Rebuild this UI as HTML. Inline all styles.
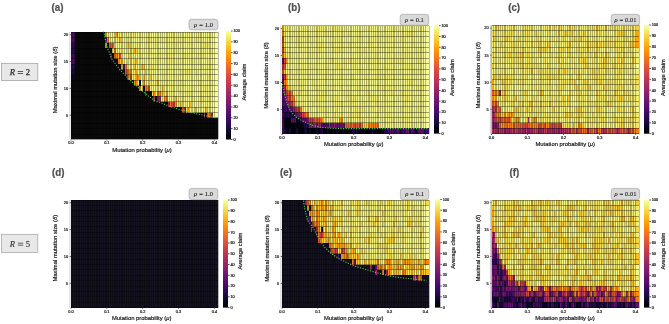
<!DOCTYPE html>
<html><head><meta charset="utf-8"><style>
html,body{margin:0;padding:0;background:#fff;width:669px;height:324px;overflow:hidden}
svg{display:block;will-change:transform}
text{font-family:"Liberation Sans",sans-serif;fill:#333}
.tk{font-size:3.9px;fill:#2a2a2a;stroke:#2a2a2a;stroke-width:.22px}
.al{font-size:5.85px;fill:#1a1a1a;stroke:#1a1a1a;stroke-width:.2px}
.pl{font-size:10.5px;font-weight:bold;fill:#505050;stroke:#505050;stroke-width:.22px}
.rho{font-family:"Liberation Serif",serif;font-size:6.5px;fill:#111;stroke:#111;stroke-width:.08px;word-spacing:.3px}
.rb{font-family:"Liberation Serif",serif;font-size:8.6px;fill:#2a2a2a;stroke:#2a2a2a;stroke-width:.25px}
</style></head><body>
<svg width="669" height="324" viewBox="0 0 669 324" xmlns="http://www.w3.org/2000/svg">
<defs><linearGradient id="inf" x1="0" y1="0" x2="0" y2="1"><stop offset="0" stop-color="#fcffa4"/><stop offset="0.05" stop-color="#f1ef75"/><stop offset="0.1" stop-color="#f6d746"/><stop offset="0.15" stop-color="#fbbe23"/><stop offset="0.2" stop-color="#fca50a"/><stop offset="0.25" stop-color="#f98e09"/><stop offset="0.3" stop-color="#f37819"/><stop offset="0.35" stop-color="#ea632a"/><stop offset="0.4" stop-color="#dd513a"/><stop offset="0.45" stop-color="#cc4248"/><stop offset="0.5" stop-color="#bc3754"/><stop offset="0.55" stop-color="#a82e5f"/><stop offset="0.6" stop-color="#932667"/><stop offset="0.65" stop-color="#7f1e6c"/><stop offset="0.7" stop-color="#6a176e"/><stop offset="0.75" stop-color="#57106e"/><stop offset="0.8" stop-color="#420a68"/><stop offset="0.85" stop-color="#2b0b57"/><stop offset="0.9" stop-color="#160b39"/><stop offset="0.95" stop-color="#07051b"/><stop offset="1" stop-color="#000004"/></linearGradient></defs>

<g transform="translate(71,32) scale(1.7927,5.3700)" shape-rendering="crispEdges">
<path fill="#62146e" d="M0 0h1v1h-1z"/>
<path fill="#4a0c6b" d="M1 0h1v1h-1zM1 1h1v1h-1zM0 4h1v1h-1zM1 5h1v1h-1z"/>
<path fill="#0a0a0a" d="M2 0h17v1h-17zM2 1h17v1h-17zM2 2h17v1h-17zM20 2h1v1h-1zM2 3h21v1h-21zM2 4h20v1h-20zM23 4h1v1h-1zM2 5h24v1h-24zM2 6h26v1h-26zM2 7h28v1h-28zM2 8h29v1h-29zM0 9h35v1h-35zM38 9h1v1h-1zM0 10h38v1h-38zM40 10h1v1h-1zM0 11h41v1h-41zM42 11h3v1h-3zM0 12h46v1h-46zM47 12h1v1h-1zM0 13h54v1h-54zM0 14h62v1h-62zM0 15h74v1h-74zM75 15h1v1h-1zM0 16h82v1h-82zM0 17h82v1h-82zM0 18h82v1h-82zM0 19h82v1h-82z"/>
<path fill="#fbbe23" d="M19 0h1v1h-1zM19 2h1v1h-1zM27 5h2v1h-2zM31 5h1v1h-1zM31 6h1v1h-1zM39 6h1v1h-1zM48 9h1v1h-1zM51 10h1v1h-1zM53 11h1v1h-1zM58 12h1v1h-1z"/>
<path fill="#f2ea69" d="M20 0h1v1h-1zM26 0h1v1h-1zM35 0h1v1h-1zM56 0h1v1h-1zM71 0h2v1h-2zM42 1h3v1h-3zM47 1h1v1h-1zM50 1h1v1h-1zM59 1h1v1h-1zM63 1h1v1h-1zM69 1h2v1h-2zM34 2h1v1h-1zM41 2h1v1h-1zM58 2h1v1h-1zM74 2h3v1h-3zM27 3h1v1h-1zM37 3h2v1h-2zM44 3h1v1h-1zM59 3h1v1h-1zM78 3h1v1h-1zM39 4h1v1h-1zM49 4h1v1h-1zM53 4h1v1h-1zM63 4h1v1h-1zM29 5h1v1h-1zM59 5h1v1h-1zM62 5h1v1h-1zM45 6h1v1h-1zM77 6h1v1h-1zM35 7h1v1h-1zM61 7h1v1h-1zM64 7h1v1h-1zM66 7h1v1h-1zM70 7h1v1h-1zM34 8h2v1h-2zM52 8h1v1h-1zM59 8h1v1h-1zM76 8h2v1h-2zM44 9h1v1h-1zM47 9h1v1h-1zM61 9h1v1h-1zM53 10h1v1h-1zM59 10h1v1h-1zM52 11h1v1h-1zM60 11h1v1h-1zM72 11h1v1h-1zM50 12h1v1h-1zM62 12h1v1h-1zM72 12h2v1h-2zM76 12h1v1h-1zM70 14h1v1h-1z"/>
<path fill="#f2f27d" d="M21 0h1v1h-1zM23 0h1v1h-1zM28 0h2v1h-2zM33 0h1v1h-1zM47 0h1v1h-1zM54 0h1v1h-1zM59 0h1v1h-1zM61 0h1v1h-1zM64 0h3v1h-3zM68 0h3v1h-3zM76 0h1v1h-1zM78 0h1v1h-1zM23 1h4v1h-4zM30 1h1v1h-1zM49 1h1v1h-1zM52 1h1v1h-1zM56 1h1v1h-1zM58 1h1v1h-1zM60 1h2v1h-2zM65 1h1v1h-1zM76 1h1v1h-1zM27 2h3v1h-3zM37 2h1v1h-1zM46 2h1v1h-1zM51 2h1v1h-1zM54 2h1v1h-1zM65 2h2v1h-2zM73 2h1v1h-1zM29 3h1v1h-1zM34 3h1v1h-1zM42 3h1v1h-1zM52 3h1v1h-1zM56 3h1v1h-1zM62 3h1v1h-1zM66 3h1v1h-1zM73 3h2v1h-2zM34 4h1v1h-1zM42 4h2v1h-2zM45 4h3v1h-3zM51 4h1v1h-1zM54 4h1v1h-1zM59 4h2v1h-2zM64 4h2v1h-2zM67 4h1v1h-1zM71 4h2v1h-2zM74 4h1v1h-1zM41 5h1v1h-1zM44 5h1v1h-1zM46 5h1v1h-1zM54 5h1v1h-1zM61 5h1v1h-1zM68 5h1v1h-1zM76 5h2v1h-2zM37 6h1v1h-1zM43 6h2v1h-2zM46 6h3v1h-3zM54 6h1v1h-1zM59 6h1v1h-1zM68 6h1v1h-1zM72 6h1v1h-1zM75 6h2v1h-2zM78 6h1v1h-1zM39 7h1v1h-1zM46 7h1v1h-1zM51 7h1v1h-1zM55 7h1v1h-1zM62 7h2v1h-2zM75 7h1v1h-1zM47 8h1v1h-1zM55 8h1v1h-1zM58 8h1v1h-1zM60 8h2v1h-2zM64 8h1v1h-1zM37 9h1v1h-1zM42 9h2v1h-2zM45 9h1v1h-1zM52 9h1v1h-1zM55 9h2v1h-2zM63 9h1v1h-1zM72 9h1v1h-1zM78 9h1v1h-1zM47 10h3v1h-3zM55 10h1v1h-1zM65 10h1v1h-1zM67 10h3v1h-3zM72 10h1v1h-1zM76 10h1v1h-1zM78 10h1v1h-1zM47 11h1v1h-1zM55 11h3v1h-3zM61 11h2v1h-2zM67 11h1v1h-1zM73 11h1v1h-1zM76 11h1v1h-1zM57 12h1v1h-1zM63 12h1v1h-1zM71 12h1v1h-1zM71 13h1v1h-1zM75 13h2v1h-2zM66 14h1v1h-1zM71 14h1v1h-1zM76 14h2v1h-2z"/>
<path fill="#f5f992" d="M22 0h1v1h-1zM36 0h1v1h-1zM40 0h2v1h-2zM46 0h1v1h-1zM48 0h1v1h-1zM52 0h2v1h-2zM58 0h1v1h-1zM67 0h1v1h-1zM74 0h1v1h-1zM35 1h4v1h-4zM40 1h1v1h-1zM64 1h1v1h-1zM68 1h1v1h-1zM78 1h1v1h-1zM24 2h2v1h-2zM39 2h2v1h-2zM44 2h2v1h-2zM49 2h2v1h-2zM52 2h1v1h-1zM55 2h1v1h-1zM60 2h1v1h-1zM64 2h1v1h-1zM68 2h1v1h-1zM70 2h2v1h-2zM77 2h2v1h-2zM28 3h1v1h-1zM30 3h1v1h-1zM39 3h1v1h-1zM45 3h3v1h-3zM51 3h1v1h-1zM61 3h1v1h-1zM65 3h1v1h-1zM70 3h2v1h-2zM28 4h3v1h-3zM40 4h2v1h-2zM44 4h1v1h-1zM58 4h1v1h-1zM76 4h2v1h-2zM30 5h1v1h-1zM34 5h1v1h-1zM38 5h1v1h-1zM42 5h2v1h-2zM45 5h1v1h-1zM50 5h2v1h-2zM65 5h1v1h-1zM73 5h3v1h-3zM78 5h1v1h-1zM32 6h1v1h-1zM34 6h1v1h-1zM36 6h1v1h-1zM49 6h1v1h-1zM52 6h1v1h-1zM62 6h3v1h-3zM66 6h1v1h-1zM71 6h1v1h-1zM74 6h1v1h-1zM34 7h1v1h-1zM45 7h1v1h-1zM47 7h1v1h-1zM68 7h1v1h-1zM72 7h2v1h-2zM76 7h1v1h-1zM45 8h1v1h-1zM49 8h1v1h-1zM53 8h1v1h-1zM63 8h1v1h-1zM71 8h1v1h-1zM73 8h3v1h-3zM78 8h1v1h-1zM39 9h1v1h-1zM58 9h1v1h-1zM62 9h1v1h-1zM64 9h7v1h-7zM74 9h2v1h-2zM54 10h1v1h-1zM62 10h1v1h-1zM64 10h1v1h-1zM70 10h2v1h-2zM54 11h1v1h-1zM58 11h2v1h-2zM68 11h3v1h-3zM77 11h1v1h-1zM54 12h2v1h-2zM70 12h1v1h-1zM65 13h1v1h-1zM67 13h1v1h-1zM69 13h2v1h-2zM72 13h1v1h-1zM74 13h1v1h-1zM67 14h1v1h-1zM72 14h1v1h-1zM74 14h1v1h-1z"/>
<path fill="#f1ef75" d="M24 0h1v1h-1zM27 0h1v1h-1zM30 0h3v1h-3zM34 0h1v1h-1zM39 0h1v1h-1zM42 0h2v1h-2zM50 0h1v1h-1zM57 0h1v1h-1zM60 0h1v1h-1zM77 0h1v1h-1zM22 1h1v1h-1zM32 1h2v1h-2zM39 1h1v1h-1zM46 1h1v1h-1zM51 1h1v1h-1zM53 1h2v1h-2zM57 1h1v1h-1zM62 1h1v1h-1zM66 1h1v1h-1zM71 1h1v1h-1zM73 1h1v1h-1zM77 1h1v1h-1zM30 2h1v1h-1zM33 2h1v1h-1zM36 2h1v1h-1zM38 2h1v1h-1zM42 2h2v1h-2zM47 2h1v1h-1zM56 2h1v1h-1zM59 2h1v1h-1zM61 2h1v1h-1zM67 2h1v1h-1zM72 2h1v1h-1zM25 3h1v1h-1zM32 3h1v1h-1zM40 3h1v1h-1zM43 3h1v1h-1zM48 3h2v1h-2zM55 3h1v1h-1zM57 3h2v1h-2zM60 3h1v1h-1zM67 3h3v1h-3zM72 3h1v1h-1zM77 3h1v1h-1zM33 4h1v1h-1zM35 4h1v1h-1zM38 4h1v1h-1zM48 4h1v1h-1zM55 4h3v1h-3zM62 4h1v1h-1zM70 4h1v1h-1zM73 4h1v1h-1zM78 4h1v1h-1zM47 5h3v1h-3zM52 5h1v1h-1zM55 5h3v1h-3zM60 5h1v1h-1zM66 5h2v1h-2zM69 5h1v1h-1zM71 5h1v1h-1zM41 6h1v1h-1zM69 6h1v1h-1zM73 6h1v1h-1zM38 7h1v1h-1zM42 7h1v1h-1zM44 7h1v1h-1zM50 7h1v1h-1zM52 7h2v1h-2zM57 7h1v1h-1zM60 7h1v1h-1zM65 7h1v1h-1zM69 7h1v1h-1zM77 7h1v1h-1zM38 8h2v1h-2zM51 8h1v1h-1zM62 8h1v1h-1zM70 8h1v1h-1zM72 8h1v1h-1zM41 9h1v1h-1zM50 9h2v1h-2zM53 9h1v1h-1zM57 9h1v1h-1zM59 9h2v1h-2zM71 9h1v1h-1zM44 10h1v1h-1zM56 10h2v1h-2zM60 10h2v1h-2zM74 10h2v1h-2zM64 11h3v1h-3zM75 11h1v1h-1zM78 11h1v1h-1zM51 12h1v1h-1zM56 12h1v1h-1zM59 12h3v1h-3zM67 12h2v1h-2zM74 12h1v1h-1zM77 12h1v1h-1zM62 13h1v1h-1zM64 13h1v1h-1zM68 13h1v1h-1zM73 13h1v1h-1zM77 13h1v1h-1zM68 14h1v1h-1z"/>
<path fill="#f98e09" d="M25 0h1v1h-1zM32 7h2v1h-2zM32 8h1v1h-1zM40 9h1v1h-1zM38 10h1v1h-1zM46 11h1v1h-1zM48 11h2v1h-2zM52 12h2v1h-2zM58 13h1v1h-1zM65 14h1v1h-1z"/>
<path fill="#f3f68a" d="M37 0h2v1h-2zM44 0h2v1h-2zM49 0h1v1h-1zM51 0h1v1h-1zM55 0h1v1h-1zM62 0h2v1h-2zM73 0h1v1h-1zM75 0h1v1h-1zM21 1h1v1h-1zM28 1h2v1h-2zM34 1h1v1h-1zM41 1h1v1h-1zM45 1h1v1h-1zM48 1h1v1h-1zM55 1h1v1h-1zM67 1h1v1h-1zM72 1h1v1h-1zM74 1h2v1h-2zM26 2h1v1h-1zM35 2h1v1h-1zM48 2h1v1h-1zM53 2h1v1h-1zM57 2h1v1h-1zM62 2h2v1h-2zM69 2h1v1h-1zM26 3h1v1h-1zM41 3h1v1h-1zM50 3h1v1h-1zM53 3h2v1h-2zM63 3h2v1h-2zM75 3h2v1h-2zM31 4h1v1h-1zM36 4h2v1h-2zM50 4h1v1h-1zM52 4h1v1h-1zM61 4h1v1h-1zM66 4h1v1h-1zM68 4h2v1h-2zM75 4h1v1h-1zM32 5h1v1h-1zM37 5h1v1h-1zM39 5h2v1h-2zM53 5h1v1h-1zM58 5h1v1h-1zM63 5h2v1h-2zM70 5h1v1h-1zM72 5h1v1h-1zM38 6h1v1h-1zM42 6h1v1h-1zM50 6h2v1h-2zM53 6h1v1h-1zM55 6h4v1h-4zM60 6h2v1h-2zM65 6h1v1h-1zM67 6h1v1h-1zM70 6h1v1h-1zM37 7h1v1h-1zM40 7h1v1h-1zM43 7h1v1h-1zM48 7h2v1h-2zM54 7h1v1h-1zM56 7h1v1h-1zM58 7h2v1h-2zM67 7h1v1h-1zM71 7h1v1h-1zM74 7h1v1h-1zM78 7h1v1h-1zM42 8h2v1h-2zM46 8h1v1h-1zM48 8h1v1h-1zM50 8h1v1h-1zM54 8h1v1h-1zM56 8h2v1h-2zM65 8h5v1h-5zM46 9h1v1h-1zM49 9h1v1h-1zM54 9h1v1h-1zM73 9h1v1h-1zM76 9h2v1h-2zM45 10h2v1h-2zM52 10h1v1h-1zM58 10h1v1h-1zM63 10h1v1h-1zM66 10h1v1h-1zM73 10h1v1h-1zM77 10h1v1h-1zM63 11h1v1h-1zM71 11h1v1h-1zM74 11h1v1h-1zM64 12h3v1h-3zM69 12h1v1h-1zM75 12h1v1h-1zM78 12h1v1h-1zM59 13h1v1h-1zM63 13h1v1h-1zM78 13h1v1h-1zM73 14h1v1h-1zM78 14h1v1h-1z"/>
<path fill="#f9fc9d" d="M79 0h3v1h-3zM79 1h3v1h-3zM79 2h3v1h-3zM79 3h3v1h-3zM79 4h3v1h-3zM79 5h3v1h-3zM79 6h3v1h-3zM79 7h3v1h-3zM79 8h3v1h-3zM79 9h3v1h-3zM79 10h3v1h-3zM79 11h3v1h-3zM79 12h3v1h-3zM79 13h3v1h-3zM79 14h3v1h-3zM79 15h3v1h-3z"/>
<path fill="#5f136e" d="M0 1h1v1h-1zM0 5h1v1h-1z"/>
<path fill="#57106e" d="M19 1h1v1h-1zM22 4h1v1h-1zM29 6h1v1h-1z"/>
<path fill="#f68013" d="M20 1h1v1h-1zM24 3h1v1h-1zM24 4h2v1h-2zM26 5h1v1h-1zM30 6h1v1h-1zM35 9h2v1h-2zM41 10h2v1h-2zM55 13h1v1h-1zM62 14h1v1h-1zM76 15h2v1h-2z"/>
<path fill="#fbba1f" d="M27 1h1v1h-1zM41 7h1v1h-1zM40 8h1v1h-1zM50 11h1v1h-1zM75 14h1v1h-1z"/>
<path fill="#f7d13d" d="M31 1h1v1h-1zM60 13h1v1h-1z"/>
<path fill="#390963" d="M0 2h1v1h-1zM1 4h1v1h-1zM0 6h1v1h-1z"/>
<path fill="#260c51" d="M1 2h1v1h-1zM1 6h1v1h-1z"/>
<path fill="#e25734" d="M21 2h3v1h-3zM30 7h1v1h-1z"/>
<path fill="#fac42a" d="M31 2h1v1h-1zM35 6h1v1h-1zM40 6h1v1h-1zM51 11h1v1h-1zM61 13h1v1h-1zM66 13h1v1h-1z"/>
<path fill="#f9c72f" d="M32 2h1v1h-1zM44 8h1v1h-1z"/>
<path fill="#2f0a5b" d="M0 3h1v1h-1z"/>
<path fill="#230c4c" d="M1 3h1v1h-1z"/>
<path fill="#f4e156" d="M23 3h1v1h-1zM33 6h1v1h-1zM39 10h1v1h-1zM50 10h1v1h-1zM64 14h1v1h-1z"/>
<path fill="#f8cd37" d="M31 3h1v1h-1zM41 8h1v1h-1z"/>
<path fill="#f5db4c" d="M33 3h1v1h-1zM32 4h1v1h-1z"/>
<path fill="#fcb418" d="M35 3h1v1h-1zM26 4h1v1h-1zM36 5h1v1h-1z"/>
<path fill="#f6d746" d="M36 3h1v1h-1zM33 5h1v1h-1zM35 5h1v1h-1zM28 6h1v1h-1zM45 11h1v1h-1z"/>
<path fill="#d74b3f" d="M27 4h1v1h-1zM33 8h1v1h-1zM56 13h2v1h-2z"/>
<path fill="#1e0c45" d="M0 7h1v1h-1z"/>
<path fill="#160b39" d="M1 7h1v1h-1z"/>
<path fill="#cc4248" d="M31 7h1v1h-1z"/>
<path fill="#fca50a" d="M36 7h1v1h-1z"/>
<path fill="#0c0826" d="M0 8h1v1h-1z"/>
<path fill="#0a0722" d="M1 8h1v1h-1z"/>
<path fill="#8c2369" d="M31 8h1v1h-1z"/>
<path fill="#fb9b06" d="M36 8h2v1h-2zM69 14h1v1h-1z"/>
<path fill="#dd513a" d="M43 10h1v1h-1z"/>
<path fill="#9b2964" d="M41 11h1v1h-1zM48 12h2v1h-2zM54 13h1v1h-1zM63 14h1v1h-1zM74 15h1v1h-1z"/>
<path fill="#bc3754" d="M46 12h1v1h-1z"/>
<path fill="#932667" d="M78 15h1v1h-1z"/>
</g>
<path d="M71 32V139.4M72.79 32V139.4M74.59 32V139.4M76.38 32V139.4M78.17 32V139.4M79.96 32V139.4M81.76 32V139.4M83.55 32V139.4M85.34 32V139.4M87.13 32V139.4M88.93 32V139.4M90.72 32V139.4M92.51 32V139.4M94.3 32V139.4M96.1 32V139.4M97.89 32V139.4M99.68 32V139.4M101.48 32V139.4M103.27 32V139.4M105.06 32V139.4M106.85 32V139.4M108.65 32V139.4M110.44 32V139.4M112.23 32V139.4M114.02 32V139.4M115.82 32V139.4M117.61 32V139.4M119.4 32V139.4M121.2 32V139.4M122.99 32V139.4M124.78 32V139.4M126.57 32V139.4M128.37 32V139.4M130.16 32V139.4M131.95 32V139.4M133.74 32V139.4M135.54 32V139.4M137.33 32V139.4M139.12 32V139.4M140.91 32V139.4M142.71 32V139.4M144.5 32V139.4M146.29 32V139.4M148.09 32V139.4M149.88 32V139.4M151.67 32V139.4M153.46 32V139.4M155.26 32V139.4M157.05 32V139.4M158.84 32V139.4M160.63 32V139.4M162.43 32V139.4M164.22 32V139.4M166.01 32V139.4M167.8 32V139.4M169.6 32V139.4M171.39 32V139.4M173.18 32V139.4M174.98 32V139.4M176.77 32V139.4M178.56 32V139.4M180.35 32V139.4M182.15 32V139.4M183.94 32V139.4M185.73 32V139.4M187.52 32V139.4M189.32 32V139.4M191.11 32V139.4M192.9 32V139.4M194.7 32V139.4M196.49 32V139.4M198.28 32V139.4M200.07 32V139.4M201.87 32V139.4M203.66 32V139.4M205.45 32V139.4M207.24 32V139.4M209.04 32V139.4M210.83 32V139.4M212.62 32V139.4M214.41 32V139.4M218 32V139.4" stroke="#000" stroke-opacity=".27" stroke-width="1" fill="none" shape-rendering="crispEdges"/>
<path d="M71 32H218M71 37.37H218M71 42.74H218M71 48.11H218M71 53.48H218M71 58.85H218M71 64.22H218M71 69.59H218M71 74.96H218M71 80.33H218M71 85.7H218M71 91.07H218M71 96.44H218M71 101.81H218M71 107.18H218M71 112.55H218M71 117.92H218M71 123.29H218M71 128.66H218M71 134.03H218M71 139.4H218" stroke="#000" stroke-opacity=".36" stroke-width="1" fill="none" shape-rendering="crispEdges"/>
<rect x="69.4" y="32" width="1" height="107.4" fill="#d0d0d0"/>
<path d="M71 115.23h-1.3" stroke="#333" stroke-width=".7"/>
<text x="68.1" y="116.58" class="tk" text-anchor="end">5</text>
<path d="M71 88.38h-1.3" stroke="#333" stroke-width=".7"/>
<text x="68.1" y="89.73" class="tk" text-anchor="end">10</text>
<path d="M71 61.53h-1.3" stroke="#333" stroke-width=".7"/>
<text x="68.1" y="62.88" class="tk" text-anchor="end">15</text>
<path d="M71 34.69h-1.3" stroke="#333" stroke-width=".7"/>
<text x="68.1" y="36.04" class="tk" text-anchor="end">20</text>
<path d="M71 139.4v1.3" stroke="#333" stroke-width=".7"/>
<text x="71" y="144.4" class="tk" text-anchor="middle">0.0</text>
<path d="M106.85 139.4v1.3" stroke="#333" stroke-width=".7"/>
<text x="106.85" y="144.4" class="tk" text-anchor="middle">0.1</text>
<path d="M142.71 139.4v1.3" stroke="#333" stroke-width=".7"/>
<text x="142.71" y="144.4" class="tk" text-anchor="middle">0.2</text>
<path d="M178.56 139.4v1.3" stroke="#333" stroke-width=".7"/>
<text x="178.56" y="144.4" class="tk" text-anchor="middle">0.3</text>
<path d="M214.41 139.4v1.3" stroke="#333" stroke-width=".7"/>
<text x="214.41" y="144.4" class="tk" text-anchor="middle">0.4</text>
<text x="142" y="151.6" class="al" text-anchor="middle">Mutation probability (<tspan font-style="italic">μ</tspan>)</text>
<text transform="translate(57,79.9) rotate(-90)" class="al" text-anchor="middle">Maximal mutation size (<tspan font-style="italic">δ</tspan>)</text>
<rect x="226" y="31" width="5" height="108.5" fill="url(#inf)"/>
<path d="M231 139.5h1.6" stroke="#333" stroke-width=".85"/>
<text x="233.4" y="140.8" class="tk">0</text>
<path d="M231 128.65h1.6" stroke="#333" stroke-width=".85"/>
<text x="233.4" y="129.95" class="tk">10</text>
<path d="M231 117.8h1.6" stroke="#333" stroke-width=".85"/>
<text x="233.4" y="119.1" class="tk">20</text>
<path d="M231 106.95h1.6" stroke="#333" stroke-width=".85"/>
<text x="233.4" y="108.25" class="tk">30</text>
<path d="M231 96.1h1.6" stroke="#333" stroke-width=".85"/>
<text x="233.4" y="97.4" class="tk">40</text>
<path d="M231 85.25h1.6" stroke="#333" stroke-width=".85"/>
<text x="233.4" y="86.55" class="tk">50</text>
<path d="M231 74.4h1.6" stroke="#333" stroke-width=".85"/>
<text x="233.4" y="75.7" class="tk">60</text>
<path d="M231 63.55h1.6" stroke="#333" stroke-width=".85"/>
<text x="233.4" y="64.85" class="tk">70</text>
<path d="M231 52.7h1.6" stroke="#333" stroke-width=".85"/>
<text x="233.4" y="54" class="tk">80</text>
<path d="M231 41.85h1.6" stroke="#333" stroke-width=".85"/>
<text x="233.4" y="43.15" class="tk">90</text>
<path d="M231 31h1.6" stroke="#333" stroke-width=".85"/>
<text x="233.4" y="32.3" class="tk">100</text>
<text transform="translate(245.5,82.15) rotate(-90)" class="al" text-anchor="middle">Average claim</text>
<rect x="189" y="19.3" width="29" height="10.5" rx="2.6" fill="#d9d9d9" stroke="#9a9a9a" stroke-width=".6"/>
<text x="203.5" y="26.85" class="rho" text-anchor="middle"><tspan font-style="italic">ρ</tspan> = 1.0</text>
<text transform="translate(51.6,11.1) scale(.93,1)" class="pl">(a)</text>
<polyline points="103.4,31.4 104.3,34.2 105.3,39.3 106.2,42.5 107.6,48.5 109,51.8 110.4,55.5 111.7,58.7 120,70 130,80 140,89 148.3,95.9 154.8,100.6 162.2,103.3 171.5,107 180.7,109.8 190,112.2 199.3,114.4 208.5,116.3 216,117.8" fill="none" stroke="#5fd04a" stroke-width="1.1" stroke-dasharray="1.1 1.5"/>
<g transform="translate(282,25.9) scale(1.7927,5.3900)" shape-rendering="crispEdges">
<path fill="#fbbe23" d="M0 0h1v1h-1zM1 4h1v1h-1zM1 5h1v1h-1zM1 8h1v1h-1zM3 11h1v1h-1zM7 14h1v1h-1z"/>
<path fill="#f1ef75" d="M1 0h1v1h-1zM7 0h1v1h-1zM11 0h1v1h-1zM19 0h1v1h-1zM23 0h1v1h-1zM28 0h1v1h-1zM30 0h2v1h-2zM35 0h1v1h-1zM45 0h1v1h-1zM62 0h2v1h-2zM65 0h1v1h-1zM67 0h1v1h-1zM69 0h1v1h-1zM76 0h2v1h-2zM4 1h1v1h-1zM8 1h2v1h-2zM14 1h2v1h-2zM21 1h1v1h-1zM28 1h1v1h-1zM30 1h2v1h-2zM36 1h1v1h-1zM41 1h1v1h-1zM52 1h1v1h-1zM54 1h1v1h-1zM58 1h1v1h-1zM62 1h1v1h-1zM64 1h1v1h-1zM69 1h1v1h-1zM72 1h1v1h-1zM5 2h1v1h-1zM11 2h1v1h-1zM13 2h1v1h-1zM15 2h3v1h-3zM20 2h1v1h-1zM22 2h1v1h-1zM32 2h1v1h-1zM39 2h1v1h-1zM45 2h1v1h-1zM52 2h1v1h-1zM55 2h1v1h-1zM60 2h1v1h-1zM66 2h2v1h-2zM7 3h2v1h-2zM10 3h1v1h-1zM19 3h1v1h-1zM26 3h3v1h-3zM33 3h1v1h-1zM40 3h1v1h-1zM48 3h1v1h-1zM53 3h1v1h-1zM62 3h1v1h-1zM67 3h1v1h-1zM7 4h1v1h-1zM10 4h1v1h-1zM12 4h1v1h-1zM15 4h1v1h-1zM18 4h1v1h-1zM29 4h1v1h-1zM34 4h1v1h-1zM41 4h2v1h-2zM45 4h1v1h-1zM54 4h1v1h-1zM61 4h1v1h-1zM74 4h2v1h-2zM77 4h2v1h-2zM3 5h1v1h-1zM6 5h1v1h-1zM8 5h1v1h-1zM14 5h1v1h-1zM16 5h2v1h-2zM22 5h1v1h-1zM39 5h1v1h-1zM44 5h1v1h-1zM49 5h1v1h-1zM51 5h1v1h-1zM60 5h1v1h-1zM63 5h1v1h-1zM65 5h2v1h-2zM69 5h3v1h-3zM73 5h1v1h-1zM75 5h2v1h-2zM5 6h1v1h-1zM16 6h1v1h-1zM30 6h1v1h-1zM35 6h1v1h-1zM40 6h2v1h-2zM48 6h1v1h-1zM51 6h1v1h-1zM54 6h1v1h-1zM60 6h1v1h-1zM62 6h2v1h-2zM65 6h1v1h-1zM67 6h1v1h-1zM75 6h1v1h-1zM8 7h1v1h-1zM11 7h1v1h-1zM17 7h2v1h-2zM31 7h1v1h-1zM35 7h1v1h-1zM40 7h2v1h-2zM44 7h1v1h-1zM52 7h1v1h-1zM54 7h1v1h-1zM56 7h2v1h-2zM62 7h1v1h-1zM70 7h2v1h-2zM73 7h1v1h-1zM76 7h2v1h-2zM4 8h2v1h-2zM7 8h1v1h-1zM10 8h4v1h-4zM21 8h2v1h-2zM32 8h2v1h-2zM36 8h1v1h-1zM42 8h2v1h-2zM46 8h1v1h-1zM54 8h2v1h-2zM72 8h1v1h-1zM75 8h3v1h-3zM6 9h2v1h-2zM38 9h1v1h-1zM44 9h1v1h-1zM47 9h1v1h-1zM55 9h2v1h-2zM60 9h1v1h-1zM67 9h1v1h-1zM7 10h1v1h-1zM11 10h2v1h-2zM18 10h1v1h-1zM24 10h1v1h-1zM41 10h1v1h-1zM54 10h1v1h-1zM73 10h1v1h-1zM78 10h1v1h-1zM11 11h1v1h-1zM18 11h1v1h-1zM20 11h2v1h-2zM26 11h1v1h-1zM29 11h1v1h-1zM32 11h2v1h-2zM36 11h1v1h-1zM38 11h1v1h-1zM42 11h1v1h-1zM46 11h2v1h-2zM53 11h2v1h-2zM59 11h2v1h-2zM65 11h1v1h-1zM68 11h1v1h-1zM70 11h1v1h-1zM76 11h1v1h-1zM6 12h1v1h-1zM9 12h1v1h-1zM13 12h2v1h-2zM20 12h1v1h-1zM23 12h1v1h-1zM34 12h1v1h-1zM42 12h1v1h-1zM47 12h1v1h-1zM51 12h1v1h-1zM56 12h2v1h-2zM65 12h1v1h-1zM68 12h1v1h-1zM77 12h1v1h-1zM11 13h1v1h-1zM16 13h1v1h-1zM18 13h1v1h-1zM22 13h1v1h-1zM27 13h1v1h-1zM30 13h2v1h-2zM35 13h2v1h-2zM38 13h1v1h-1zM44 13h1v1h-1zM48 13h6v1h-6zM56 13h1v1h-1zM62 13h1v1h-1zM64 13h1v1h-1zM68 13h1v1h-1zM8 14h1v1h-1zM11 14h1v1h-1zM15 14h1v1h-1zM21 14h1v1h-1zM30 14h3v1h-3zM39 14h3v1h-3zM45 14h1v1h-1zM53 14h1v1h-1zM55 14h1v1h-1zM58 14h1v1h-1zM60 14h1v1h-1zM62 14h1v1h-1zM16 15h1v1h-1zM22 15h4v1h-4zM28 15h1v1h-1zM34 15h1v1h-1zM37 15h2v1h-2zM40 15h1v1h-1zM43 15h3v1h-3zM50 15h1v1h-1zM55 15h1v1h-1zM69 15h1v1h-1zM71 15h1v1h-1zM75 15h2v1h-2zM17 16h2v1h-2zM25 16h1v1h-1zM33 16h1v1h-1zM37 16h1v1h-1zM52 16h1v1h-1zM55 16h1v1h-1zM58 16h2v1h-2zM64 16h1v1h-1zM69 16h1v1h-1zM74 16h1v1h-1zM27 17h1v1h-1zM30 17h1v1h-1zM35 17h1v1h-1zM43 17h1v1h-1zM45 17h2v1h-2zM49 17h1v1h-1zM64 17h2v1h-2zM67 17h1v1h-1zM69 17h2v1h-2zM55 18h1v1h-1zM59 18h1v1h-1zM77 18h1v1h-1z"/>
<path fill="#f2ea69" d="M2 0h2v1h-2zM20 0h2v1h-2zM29 0h1v1h-1zM6 1h1v1h-1zM11 1h1v1h-1zM19 1h1v1h-1zM23 1h1v1h-1zM25 1h1v1h-1zM27 1h1v1h-1zM34 1h1v1h-1zM37 1h1v1h-1zM43 1h1v1h-1zM55 1h1v1h-1zM67 1h1v1h-1zM70 1h2v1h-2zM73 1h1v1h-1zM8 2h2v1h-2zM14 2h1v1h-1zM29 2h1v1h-1zM33 2h1v1h-1zM42 2h1v1h-1zM44 2h1v1h-1zM48 2h1v1h-1zM54 2h1v1h-1zM58 2h1v1h-1zM68 2h1v1h-1zM73 2h1v1h-1zM16 3h1v1h-1zM21 3h2v1h-2zM37 3h1v1h-1zM50 3h1v1h-1zM73 3h1v1h-1zM4 4h1v1h-1zM20 4h2v1h-2zM31 4h2v1h-2zM46 4h1v1h-1zM59 4h1v1h-1zM67 4h1v1h-1zM4 5h1v1h-1zM15 5h1v1h-1zM52 5h1v1h-1zM68 5h1v1h-1zM27 6h2v1h-2zM34 6h1v1h-1zM37 6h2v1h-2zM43 6h1v1h-1zM46 6h1v1h-1zM53 6h1v1h-1zM64 6h1v1h-1zM66 6h1v1h-1zM76 6h1v1h-1zM15 7h1v1h-1zM25 7h1v1h-1zM30 7h1v1h-1zM32 7h1v1h-1zM8 8h1v1h-1zM19 8h1v1h-1zM25 8h1v1h-1zM44 8h1v1h-1zM58 8h1v1h-1zM61 8h1v1h-1zM65 8h1v1h-1zM73 8h1v1h-1zM3 9h1v1h-1zM15 9h1v1h-1zM24 9h1v1h-1zM27 9h1v1h-1zM32 9h1v1h-1zM39 9h1v1h-1zM46 9h1v1h-1zM52 9h1v1h-1zM54 9h1v1h-1zM57 9h1v1h-1zM62 9h1v1h-1zM17 10h1v1h-1zM71 10h1v1h-1zM5 11h3v1h-3zM10 11h1v1h-1zM56 11h2v1h-2zM63 11h1v1h-1zM75 11h1v1h-1zM78 11h1v1h-1zM10 12h1v1h-1zM22 12h1v1h-1zM24 12h1v1h-1zM36 12h2v1h-2zM48 12h1v1h-1zM61 12h1v1h-1zM67 12h1v1h-1zM8 13h1v1h-1zM21 13h1v1h-1zM37 13h1v1h-1zM40 13h1v1h-1zM45 13h1v1h-1zM69 13h2v1h-2zM74 13h1v1h-1zM9 14h1v1h-1zM17 14h1v1h-1zM33 14h1v1h-1zM37 14h1v1h-1zM46 14h1v1h-1zM52 14h1v1h-1zM68 14h1v1h-1zM78 14h1v1h-1zM11 15h1v1h-1zM21 15h1v1h-1zM30 15h1v1h-1zM41 15h1v1h-1zM46 15h1v1h-1zM54 15h1v1h-1zM56 15h1v1h-1zM66 15h1v1h-1zM16 16h1v1h-1zM29 16h1v1h-1zM39 16h1v1h-1zM41 16h3v1h-3zM53 16h1v1h-1zM29 17h1v1h-1zM38 17h1v1h-1zM42 17h1v1h-1zM44 17h1v1h-1zM55 17h1v1h-1zM61 17h1v1h-1zM69 18h1v1h-1zM73 18h1v1h-1z"/>
<path fill="#f5f992" d="M4 0h1v1h-1zM15 0h2v1h-2zM25 0h1v1h-1zM33 0h1v1h-1zM36 0h2v1h-2zM39 0h1v1h-1zM41 0h1v1h-1zM43 0h2v1h-2zM51 0h1v1h-1zM53 0h1v1h-1zM55 0h2v1h-2zM59 0h1v1h-1zM66 0h1v1h-1zM68 0h1v1h-1zM70 0h1v1h-1zM3 1h1v1h-1zM10 1h1v1h-1zM13 1h1v1h-1zM16 1h1v1h-1zM24 1h1v1h-1zM29 1h1v1h-1zM35 1h1v1h-1zM47 1h1v1h-1zM49 1h1v1h-1zM57 1h1v1h-1zM63 1h1v1h-1zM76 1h3v1h-3zM3 2h1v1h-1zM23 2h2v1h-2zM34 2h1v1h-1zM37 2h1v1h-1zM40 2h1v1h-1zM46 2h1v1h-1zM57 2h1v1h-1zM69 2h1v1h-1zM71 2h1v1h-1zM3 3h4v1h-4zM13 3h1v1h-1zM15 3h1v1h-1zM18 3h1v1h-1zM23 3h2v1h-2zM35 3h1v1h-1zM41 3h1v1h-1zM45 3h2v1h-2zM52 3h1v1h-1zM58 3h1v1h-1zM61 3h1v1h-1zM66 3h1v1h-1zM71 3h1v1h-1zM76 3h1v1h-1zM78 3h1v1h-1zM2 4h2v1h-2zM5 4h1v1h-1zM11 4h1v1h-1zM19 4h1v1h-1zM23 4h1v1h-1zM36 4h1v1h-1zM39 4h2v1h-2zM48 4h1v1h-1zM53 4h1v1h-1zM58 4h1v1h-1zM60 4h1v1h-1zM63 4h1v1h-1zM66 4h1v1h-1zM71 4h2v1h-2zM9 5h2v1h-2zM13 5h1v1h-1zM21 5h1v1h-1zM23 5h1v1h-1zM26 5h1v1h-1zM28 5h2v1h-2zM32 5h1v1h-1zM35 5h2v1h-2zM38 5h1v1h-1zM45 5h1v1h-1zM48 5h1v1h-1zM50 5h1v1h-1zM55 5h2v1h-2zM61 5h1v1h-1zM67 5h1v1h-1zM4 6h1v1h-1zM7 6h1v1h-1zM12 6h1v1h-1zM17 6h1v1h-1zM21 6h3v1h-3zM29 6h1v1h-1zM31 6h1v1h-1zM33 6h1v1h-1zM36 6h1v1h-1zM44 6h1v1h-1zM47 6h1v1h-1zM55 6h2v1h-2zM59 6h1v1h-1zM70 6h2v1h-2zM74 6h1v1h-1zM77 6h1v1h-1zM4 7h2v1h-2zM10 7h1v1h-1zM27 7h2v1h-2zM36 7h3v1h-3zM42 7h1v1h-1zM45 7h1v1h-1zM55 7h1v1h-1zM61 7h1v1h-1zM65 7h1v1h-1zM2 8h1v1h-1zM6 8h1v1h-1zM9 8h1v1h-1zM18 8h1v1h-1zM27 8h1v1h-1zM30 8h2v1h-2zM34 8h2v1h-2zM38 8h1v1h-1zM50 8h1v1h-1zM57 8h1v1h-1zM59 8h1v1h-1zM68 8h1v1h-1zM10 9h1v1h-1zM13 9h1v1h-1zM16 9h1v1h-1zM18 9h1v1h-1zM20 9h2v1h-2zM23 9h1v1h-1zM26 9h1v1h-1zM29 9h1v1h-1zM31 9h1v1h-1zM37 9h1v1h-1zM41 9h2v1h-2zM45 9h1v1h-1zM48 9h2v1h-2zM51 9h1v1h-1zM66 9h1v1h-1zM71 9h1v1h-1zM76 9h2v1h-2zM4 10h1v1h-1zM14 10h2v1h-2zM19 10h2v1h-2zM27 10h1v1h-1zM33 10h1v1h-1zM37 10h1v1h-1zM40 10h1v1h-1zM45 10h2v1h-2zM52 10h1v1h-1zM59 10h2v1h-2zM62 10h1v1h-1zM66 10h2v1h-2zM74 10h1v1h-1zM13 11h3v1h-3zM22 11h1v1h-1zM30 11h2v1h-2zM34 11h1v1h-1zM39 11h1v1h-1zM49 11h2v1h-2zM52 11h1v1h-1zM58 11h1v1h-1zM62 11h1v1h-1zM64 11h1v1h-1zM69 11h1v1h-1zM71 11h2v1h-2zM74 11h1v1h-1zM12 12h1v1h-1zM17 12h1v1h-1zM19 12h1v1h-1zM21 12h1v1h-1zM27 12h3v1h-3zM32 12h1v1h-1zM40 12h1v1h-1zM44 12h1v1h-1zM50 12h1v1h-1zM52 12h2v1h-2zM55 12h1v1h-1zM59 12h1v1h-1zM62 12h1v1h-1zM64 12h1v1h-1zM72 12h1v1h-1zM74 12h1v1h-1zM78 12h1v1h-1zM7 13h1v1h-1zM9 13h1v1h-1zM32 13h3v1h-3zM43 13h1v1h-1zM46 13h1v1h-1zM55 13h1v1h-1zM59 13h1v1h-1zM61 13h1v1h-1zM63 13h1v1h-1zM71 13h2v1h-2zM75 13h1v1h-1zM10 14h1v1h-1zM16 14h1v1h-1zM19 14h1v1h-1zM22 14h1v1h-1zM24 14h3v1h-3zM28 14h1v1h-1zM36 14h1v1h-1zM38 14h1v1h-1zM42 14h1v1h-1zM48 14h1v1h-1zM51 14h1v1h-1zM63 14h1v1h-1zM65 14h2v1h-2zM70 14h1v1h-1zM74 14h2v1h-2zM17 15h2v1h-2zM29 15h1v1h-1zM31 15h1v1h-1zM36 15h1v1h-1zM39 15h1v1h-1zM47 15h1v1h-1zM52 15h2v1h-2zM61 15h1v1h-1zM63 15h1v1h-1zM15 16h1v1h-1zM22 16h1v1h-1zM26 16h3v1h-3zM35 16h1v1h-1zM45 16h1v1h-1zM49 16h3v1h-3zM54 16h1v1h-1zM57 16h1v1h-1zM61 16h3v1h-3zM66 16h1v1h-1zM70 16h1v1h-1zM75 16h1v1h-1zM31 17h1v1h-1zM41 17h1v1h-1zM47 17h2v1h-2zM53 17h2v1h-2zM60 17h1v1h-1zM63 17h1v1h-1zM72 17h1v1h-1zM77 17h1v1h-1zM54 18h1v1h-1zM67 18h1v1h-1zM76 18h1v1h-1zM78 18h1v1h-1z"/>
<path fill="#f3f68a" d="M5 0h2v1h-2zM8 0h3v1h-3zM14 0h1v1h-1zM27 0h1v1h-1zM34 0h1v1h-1zM38 0h1v1h-1zM40 0h1v1h-1zM46 0h2v1h-2zM58 0h1v1h-1zM60 0h1v1h-1zM64 0h1v1h-1zM71 0h1v1h-1zM74 0h2v1h-2zM2 1h1v1h-1zM5 1h1v1h-1zM7 1h1v1h-1zM18 1h1v1h-1zM22 1h1v1h-1zM26 1h1v1h-1zM32 1h1v1h-1zM39 1h2v1h-2zM45 1h2v1h-2zM48 1h1v1h-1zM50 1h1v1h-1zM53 1h1v1h-1zM59 1h1v1h-1zM65 1h1v1h-1zM68 1h1v1h-1zM74 1h1v1h-1zM2 2h1v1h-1zM4 2h1v1h-1zM12 2h1v1h-1zM21 2h1v1h-1zM25 2h1v1h-1zM28 2h1v1h-1zM38 2h1v1h-1zM43 2h1v1h-1zM47 2h1v1h-1zM53 2h1v1h-1zM59 2h1v1h-1zM61 2h1v1h-1zM64 2h1v1h-1zM70 2h1v1h-1zM72 2h1v1h-1zM74 2h3v1h-3zM12 3h1v1h-1zM14 3h1v1h-1zM25 3h1v1h-1zM29 3h2v1h-2zM36 3h1v1h-1zM39 3h1v1h-1zM43 3h1v1h-1zM47 3h1v1h-1zM51 3h1v1h-1zM57 3h1v1h-1zM59 3h1v1h-1zM63 3h3v1h-3zM68 3h1v1h-1zM70 3h1v1h-1zM72 3h1v1h-1zM75 3h1v1h-1zM77 3h1v1h-1zM6 4h1v1h-1zM8 4h2v1h-2zM13 4h1v1h-1zM16 4h1v1h-1zM24 4h2v1h-2zM27 4h1v1h-1zM33 4h1v1h-1zM35 4h1v1h-1zM38 4h1v1h-1zM47 4h1v1h-1zM55 4h1v1h-1zM62 4h1v1h-1zM64 4h1v1h-1zM68 4h1v1h-1zM73 4h1v1h-1zM12 5h1v1h-1zM18 5h1v1h-1zM24 5h1v1h-1zM31 5h1v1h-1zM33 5h2v1h-2zM37 5h1v1h-1zM40 5h2v1h-2zM57 5h1v1h-1zM64 5h1v1h-1zM77 5h1v1h-1zM9 6h2v1h-2zM15 6h1v1h-1zM18 6h2v1h-2zM32 6h1v1h-1zM42 6h1v1h-1zM45 6h1v1h-1zM50 6h1v1h-1zM58 6h1v1h-1zM69 6h1v1h-1zM72 6h1v1h-1zM78 6h1v1h-1zM6 7h1v1h-1zM9 7h1v1h-1zM12 7h3v1h-3zM19 7h5v1h-5zM26 7h1v1h-1zM29 7h1v1h-1zM33 7h1v1h-1zM43 7h1v1h-1zM46 7h1v1h-1zM49 7h1v1h-1zM51 7h1v1h-1zM53 7h1v1h-1zM63 7h2v1h-2zM75 7h1v1h-1zM78 7h1v1h-1zM3 8h1v1h-1zM14 8h1v1h-1zM20 8h1v1h-1zM23 8h1v1h-1zM26 8h1v1h-1zM28 8h1v1h-1zM37 8h1v1h-1zM39 8h2v1h-2zM45 8h1v1h-1zM47 8h1v1h-1zM60 8h1v1h-1zM62 8h1v1h-1zM69 8h3v1h-3zM4 9h1v1h-1zM8 9h1v1h-1zM14 9h1v1h-1zM19 9h1v1h-1zM28 9h1v1h-1zM30 9h1v1h-1zM34 9h1v1h-1zM40 9h1v1h-1zM43 9h1v1h-1zM53 9h1v1h-1zM61 9h1v1h-1zM72 9h1v1h-1zM78 9h1v1h-1zM3 10h1v1h-1zM5 10h2v1h-2zM13 10h1v1h-1zM16 10h1v1h-1zM22 10h2v1h-2zM25 10h1v1h-1zM29 10h2v1h-2zM34 10h1v1h-1zM38 10h2v1h-2zM42 10h2v1h-2zM48 10h3v1h-3zM55 10h2v1h-2zM63 10h1v1h-1zM65 10h1v1h-1zM68 10h2v1h-2zM76 10h2v1h-2zM9 11h1v1h-1zM16 11h2v1h-2zM19 11h1v1h-1zM23 11h2v1h-2zM28 11h1v1h-1zM35 11h1v1h-1zM37 11h1v1h-1zM40 11h1v1h-1zM48 11h1v1h-1zM51 11h1v1h-1zM55 11h1v1h-1zM66 11h1v1h-1zM7 12h1v1h-1zM15 12h2v1h-2zM18 12h1v1h-1zM25 12h1v1h-1zM30 12h1v1h-1zM33 12h1v1h-1zM38 12h2v1h-2zM41 12h1v1h-1zM43 12h1v1h-1zM45 12h1v1h-1zM49 12h1v1h-1zM58 12h1v1h-1zM63 12h1v1h-1zM71 12h1v1h-1zM75 12h1v1h-1zM10 13h1v1h-1zM12 13h3v1h-3zM25 13h2v1h-2zM42 13h1v1h-1zM60 13h1v1h-1zM65 13h1v1h-1zM67 13h1v1h-1zM78 13h1v1h-1zM13 14h2v1h-2zM18 14h1v1h-1zM23 14h1v1h-1zM27 14h1v1h-1zM34 14h1v1h-1zM43 14h1v1h-1zM50 14h1v1h-1zM57 14h1v1h-1zM59 14h1v1h-1zM61 14h1v1h-1zM67 14h1v1h-1zM71 14h2v1h-2zM76 14h2v1h-2zM12 15h3v1h-3zM19 15h1v1h-1zM26 15h2v1h-2zM32 15h2v1h-2zM35 15h1v1h-1zM48 15h2v1h-2zM51 15h1v1h-1zM58 15h2v1h-2zM62 15h1v1h-1zM65 15h1v1h-1zM68 15h1v1h-1zM70 15h1v1h-1zM73 15h1v1h-1zM78 15h1v1h-1zM19 16h3v1h-3zM23 16h2v1h-2zM30 16h1v1h-1zM34 16h1v1h-1zM36 16h1v1h-1zM38 16h1v1h-1zM40 16h1v1h-1zM44 16h1v1h-1zM47 16h2v1h-2zM56 16h1v1h-1zM65 16h1v1h-1zM68 16h1v1h-1zM73 16h1v1h-1zM78 16h1v1h-1zM25 17h2v1h-2zM28 17h1v1h-1zM34 17h1v1h-1zM58 17h1v1h-1zM66 17h1v1h-1zM73 17h3v1h-3zM78 17h1v1h-1zM58 18h1v1h-1zM60 18h1v1h-1zM62 18h1v1h-1zM71 18h2v1h-2z"/>
<path fill="#f2f27d" d="M12 0h2v1h-2zM17 0h2v1h-2zM22 0h1v1h-1zM24 0h1v1h-1zM26 0h1v1h-1zM32 0h1v1h-1zM42 0h1v1h-1zM48 0h3v1h-3zM52 0h1v1h-1zM54 0h1v1h-1zM57 0h1v1h-1zM61 0h1v1h-1zM72 0h2v1h-2zM78 0h1v1h-1zM12 1h1v1h-1zM17 1h1v1h-1zM20 1h1v1h-1zM33 1h1v1h-1zM38 1h1v1h-1zM42 1h1v1h-1zM44 1h1v1h-1zM51 1h1v1h-1zM56 1h1v1h-1zM60 1h2v1h-2zM66 1h1v1h-1zM75 1h1v1h-1zM6 2h2v1h-2zM10 2h1v1h-1zM18 2h2v1h-2zM26 2h2v1h-2zM30 2h2v1h-2zM35 2h2v1h-2zM41 2h1v1h-1zM49 2h3v1h-3zM56 2h1v1h-1zM62 2h2v1h-2zM65 2h1v1h-1zM77 2h2v1h-2zM2 3h1v1h-1zM9 3h1v1h-1zM11 3h1v1h-1zM17 3h1v1h-1zM20 3h1v1h-1zM31 3h2v1h-2zM34 3h1v1h-1zM38 3h1v1h-1zM42 3h1v1h-1zM44 3h1v1h-1zM49 3h1v1h-1zM54 3h3v1h-3zM60 3h1v1h-1zM69 3h1v1h-1zM74 3h1v1h-1zM14 4h1v1h-1zM17 4h1v1h-1zM22 4h1v1h-1zM26 4h1v1h-1zM28 4h1v1h-1zM30 4h1v1h-1zM37 4h1v1h-1zM43 4h2v1h-2zM49 4h4v1h-4zM56 4h2v1h-2zM65 4h1v1h-1zM69 4h2v1h-2zM76 4h1v1h-1zM2 5h1v1h-1zM5 5h1v1h-1zM7 5h1v1h-1zM11 5h1v1h-1zM19 5h2v1h-2zM25 5h1v1h-1zM27 5h1v1h-1zM30 5h1v1h-1zM42 5h2v1h-2zM46 5h2v1h-2zM53 5h2v1h-2zM58 5h2v1h-2zM62 5h1v1h-1zM72 5h1v1h-1zM74 5h1v1h-1zM78 5h1v1h-1zM3 6h1v1h-1zM6 6h1v1h-1zM8 6h1v1h-1zM11 6h1v1h-1zM13 6h2v1h-2zM20 6h1v1h-1zM24 6h3v1h-3zM39 6h1v1h-1zM49 6h1v1h-1zM52 6h1v1h-1zM57 6h1v1h-1zM61 6h1v1h-1zM68 6h1v1h-1zM73 6h1v1h-1zM2 7h2v1h-2zM7 7h1v1h-1zM16 7h1v1h-1zM24 7h1v1h-1zM34 7h1v1h-1zM39 7h1v1h-1zM47 7h2v1h-2zM50 7h1v1h-1zM58 7h3v1h-3zM66 7h4v1h-4zM72 7h1v1h-1zM74 7h1v1h-1zM15 8h3v1h-3zM24 8h1v1h-1zM29 8h1v1h-1zM41 8h1v1h-1zM48 8h2v1h-2zM51 8h3v1h-3zM56 8h1v1h-1zM63 8h2v1h-2zM66 8h2v1h-2zM74 8h1v1h-1zM78 8h1v1h-1zM5 9h1v1h-1zM9 9h1v1h-1zM11 9h2v1h-2zM17 9h1v1h-1zM22 9h1v1h-1zM25 9h1v1h-1zM33 9h1v1h-1zM35 9h2v1h-2zM50 9h1v1h-1zM58 9h2v1h-2zM63 9h3v1h-3zM68 9h3v1h-3zM73 9h3v1h-3zM8 10h3v1h-3zM21 10h1v1h-1zM26 10h1v1h-1zM28 10h1v1h-1zM31 10h2v1h-2zM35 10h2v1h-2zM44 10h1v1h-1zM47 10h1v1h-1zM51 10h1v1h-1zM53 10h1v1h-1zM57 10h2v1h-2zM61 10h1v1h-1zM64 10h1v1h-1zM70 10h1v1h-1zM72 10h1v1h-1zM75 10h1v1h-1zM4 11h1v1h-1zM8 11h1v1h-1zM12 11h1v1h-1zM25 11h1v1h-1zM27 11h1v1h-1zM41 11h1v1h-1zM43 11h3v1h-3zM61 11h1v1h-1zM67 11h1v1h-1zM73 11h1v1h-1zM77 11h1v1h-1zM8 12h1v1h-1zM11 12h1v1h-1zM26 12h1v1h-1zM31 12h1v1h-1zM35 12h1v1h-1zM46 12h1v1h-1zM54 12h1v1h-1zM60 12h1v1h-1zM66 12h1v1h-1zM69 12h2v1h-2zM73 12h1v1h-1zM76 12h1v1h-1zM15 13h1v1h-1zM17 13h1v1h-1zM19 13h2v1h-2zM23 13h2v1h-2zM28 13h2v1h-2zM39 13h1v1h-1zM41 13h1v1h-1zM47 13h1v1h-1zM54 13h1v1h-1zM57 13h2v1h-2zM66 13h1v1h-1zM73 13h1v1h-1zM76 13h2v1h-2zM12 14h1v1h-1zM20 14h1v1h-1zM29 14h1v1h-1zM35 14h1v1h-1zM44 14h1v1h-1zM47 14h1v1h-1zM49 14h1v1h-1zM54 14h1v1h-1zM56 14h1v1h-1zM64 14h1v1h-1zM69 14h1v1h-1zM73 14h1v1h-1zM15 15h1v1h-1zM20 15h1v1h-1zM42 15h1v1h-1zM57 15h1v1h-1zM60 15h1v1h-1zM64 15h1v1h-1zM67 15h1v1h-1zM72 15h1v1h-1zM74 15h1v1h-1zM77 15h1v1h-1zM31 16h2v1h-2zM46 16h1v1h-1zM60 16h1v1h-1zM67 16h1v1h-1zM71 16h2v1h-2zM76 16h2v1h-2zM23 17h2v1h-2zM36 17h2v1h-2zM39 17h2v1h-2zM50 17h3v1h-3zM56 17h2v1h-2zM59 17h1v1h-1zM62 17h1v1h-1zM68 17h1v1h-1zM71 17h1v1h-1zM76 17h1v1h-1zM56 18h2v1h-2zM61 18h1v1h-1zM63 18h4v1h-4zM68 18h1v1h-1zM70 18h1v1h-1zM74 18h2v1h-2z"/>
<path fill="#f9fc9d" d="M79 0h3v1h-3zM79 1h3v1h-3zM79 2h3v1h-3zM79 3h3v1h-3zM79 4h3v1h-3zM79 5h3v1h-3zM79 6h3v1h-3zM79 7h3v1h-3zM79 8h3v1h-3zM79 9h3v1h-3zM79 10h3v1h-3zM79 11h3v1h-3zM79 12h3v1h-3zM79 13h3v1h-3zM79 14h3v1h-3zM79 15h3v1h-3zM79 16h3v1h-3zM79 17h3v1h-3zM79 18h3v1h-3z"/>
<path fill="#fb9b06" d="M0 1h1v1h-1zM32 17h2v1h-2z"/>
<path fill="#f4e156" d="M1 1h1v1h-1zM1 2h1v1h-1zM1 3h1v1h-1z"/>
<path fill="#d34743" d="M0 2h1v1h-1zM40 18h1v1h-1z"/>
<path fill="#eb6628" d="M0 3h1v1h-1zM21 17h1v1h-1zM37 18h2v1h-2z"/>
<path fill="#d74b3f" d="M0 4h1v1h-1zM1 6h1v1h-1zM3 13h2v1h-2zM11 16h2v1h-2z"/>
<path fill="#f68013" d="M0 5h1v1h-1zM2 6h1v1h-1zM1 10h1v1h-1zM2 11h1v1h-1zM5 12h1v1h-1zM5 13h2v1h-2zM13 16h2v1h-2zM53 18h1v1h-1z"/>
<path fill="#62146e" d="M0 6h1v1h-1zM4 15h2v1h-2zM7 16h2v1h-2zM27 18h1v1h-1zM30 18h3v1h-3zM34 18h1v1h-1zM76 19h1v1h-1zM78 19h1v1h-1z"/>
<path fill="#bc3754" d="M0 7h1v1h-1zM1 9h1v1h-1zM2 12h1v1h-1z"/>
<path fill="#dd513a" d="M1 7h1v1h-1z"/>
<path fill="#ea632a" d="M0 8h1v1h-1zM18 17h2v1h-2zM35 18h2v1h-2z"/>
<path fill="#7f1e6c" d="M0 9h1v1h-1zM28 18h2v1h-2zM33 18h1v1h-1z"/>
<path fill="#f98e09" d="M2 9h1v1h-1zM2 10h1v1h-1zM22 17h1v1h-1z"/>
<path fill="#57106e" d="M0 10h1v1h-1zM0 11h1v1h-1zM0 12h1v1h-1zM0 13h2v1h-2zM0 14h3v1h-3zM0 16h1v1h-1zM0 17h1v1h-1zM5 17h3v1h-3zM11 17h3v1h-3zM0 18h1v1h-1zM22 18h1v1h-1zM24 18h2v1h-2zM0 19h1v1h-1zM60 19h3v1h-3zM67 19h1v1h-1z"/>
<path fill="#a82e5f" d="M1 11h1v1h-1zM26 18h1v1h-1z"/>
<path fill="#8c2369" d="M1 12h1v1h-1zM2 13h1v1h-1zM3 14h1v1h-1z"/>
<path fill="#e25734" d="M3 12h2v1h-2zM20 17h1v1h-1z"/>
<path fill="#c33b4f" d="M4 14h2v1h-2zM8 15h2v1h-2zM15 17h3v1h-3z"/>
<path fill="#f37819" d="M6 14h1v1h-1zM10 15h1v1h-1zM50 18h1v1h-1zM52 18h1v1h-1z"/>
<path fill="#390963" d="M0 15h4v1h-4zM23 18h1v1h-1z"/>
<path fill="#932667" d="M6 15h2v1h-2zM9 16h2v1h-2zM14 17h1v1h-1zM16 18h1v1h-1zM18 18h1v1h-1zM20 18h2v1h-2z"/>
<path fill="#1e0c45" d="M1 16h2v1h-2zM5 16h2v1h-2zM12 18h3v1h-3zM1 19h1v1h-1zM4 19h1v1h-1zM8 19h1v1h-1zM13 19h1v1h-1zM19 19h1v1h-1zM22 19h1v1h-1zM39 19h1v1h-1zM41 19h1v1h-1zM50 19h1v1h-1zM57 19h2v1h-2zM66 19h1v1h-1zM71 19h1v1h-1zM75 19h1v1h-1zM79 19h1v1h-1z"/>
<path fill="#2b0b57" d="M3 16h1v1h-1z"/>
<path fill="#160b39" d="M4 16h1v1h-1z"/>
<path fill="#030210" d="M1 17h1v1h-1zM4 17h1v1h-1zM7 18h2v1h-2zM10 18h2v1h-2zM7 19h1v1h-1zM10 19h1v1h-1zM16 19h3v1h-3zM20 19h1v1h-1zM23 19h1v1h-1zM38 19h1v1h-1zM48 19h1v1h-1zM56 19h1v1h-1zM74 19h1v1h-1z"/>
<path fill="#050417" d="M2 17h2v1h-2zM1 18h1v1h-1zM6 18h1v1h-1zM9 18h1v1h-1z"/>
<path fill="#10092d" d="M8 17h3v1h-3zM12 19h1v1h-1zM15 19h1v1h-1zM21 19h1v1h-1zM25 19h1v1h-1zM28 19h1v1h-1zM30 19h1v1h-1zM34 19h1v1h-1zM40 19h1v1h-1zM42 19h2v1h-2z"/>
<path fill="#02020c" d="M2 18h4v1h-4zM14 19h1v1h-1zM27 19h1v1h-1zM32 19h1v1h-1zM35 19h1v1h-1zM45 19h1v1h-1zM51 19h1v1h-1z"/>
<path fill="#721a6e" d="M15 18h1v1h-1zM17 18h1v1h-1zM19 18h1v1h-1z"/>
<path fill="#ee6a24" d="M39 18h1v1h-1z"/>
<path fill="#e05536" d="M41 18h1v1h-1z"/>
<path fill="#e75e2e" d="M42 18h1v1h-1z"/>
<path fill="#d04545" d="M43 18h1v1h-1z"/>
<path fill="#f06f20" d="M44 18h1v1h-1z"/>
<path fill="#f8cd37" d="M45 18h3v1h-3z"/>
<path fill="#fb9706" d="M48 18h1v1h-1z"/>
<path fill="#f8890c" d="M49 18h1v1h-1z"/>
<path fill="#f57b17" d="M51 18h1v1h-1z"/>
<path fill="#07051b" d="M2 19h2v1h-2zM9 19h1v1h-1zM24 19h1v1h-1zM26 19h1v1h-1zM31 19h1v1h-1zM33 19h1v1h-1zM37 19h1v1h-1zM46 19h1v1h-1zM52 19h1v1h-1zM55 19h1v1h-1z"/>
<path fill="#010106" d="M5 19h2v1h-2zM11 19h1v1h-1zM29 19h1v1h-1zM36 19h1v1h-1zM44 19h1v1h-1zM47 19h1v1h-1zM49 19h1v1h-1zM53 19h2v1h-2z"/>
<path fill="#420a68" d="M59 19h1v1h-1zM63 19h1v1h-1zM65 19h1v1h-1zM68 19h1v1h-1zM73 19h1v1h-1zM80 19h2v1h-2z"/>
<path fill="#6a176e" d="M64 19h1v1h-1zM69 19h2v1h-2zM72 19h1v1h-1zM77 19h1v1h-1z"/>
</g>
<path d="M282 25.9V133.7M283.79 25.9V133.7M285.59 25.9V133.7M287.38 25.9V133.7M289.17 25.9V133.7M290.96 25.9V133.7M292.76 25.9V133.7M294.55 25.9V133.7M296.34 25.9V133.7M298.13 25.9V133.7M299.93 25.9V133.7M301.72 25.9V133.7M303.51 25.9V133.7M305.3 25.9V133.7M307.1 25.9V133.7M308.89 25.9V133.7M310.68 25.9V133.7M312.48 25.9V133.7M314.27 25.9V133.7M316.06 25.9V133.7M317.85 25.9V133.7M319.65 25.9V133.7M321.44 25.9V133.7M323.23 25.9V133.7M325.02 25.9V133.7M326.82 25.9V133.7M328.61 25.9V133.7M330.4 25.9V133.7M332.2 25.9V133.7M333.99 25.9V133.7M335.78 25.9V133.7M337.57 25.9V133.7M339.37 25.9V133.7M341.16 25.9V133.7M342.95 25.9V133.7M344.74 25.9V133.7M346.54 25.9V133.7M348.33 25.9V133.7M350.12 25.9V133.7M351.91 25.9V133.7M353.71 25.9V133.7M355.5 25.9V133.7M357.29 25.9V133.7M359.09 25.9V133.7M360.88 25.9V133.7M362.67 25.9V133.7M364.46 25.9V133.7M366.26 25.9V133.7M368.05 25.9V133.7M369.84 25.9V133.7M371.63 25.9V133.7M373.43 25.9V133.7M375.22 25.9V133.7M377.01 25.9V133.7M378.8 25.9V133.7M380.6 25.9V133.7M382.39 25.9V133.7M384.18 25.9V133.7M385.98 25.9V133.7M387.77 25.9V133.7M389.56 25.9V133.7M391.35 25.9V133.7M393.15 25.9V133.7M394.94 25.9V133.7M396.73 25.9V133.7M398.52 25.9V133.7M400.32 25.9V133.7M402.11 25.9V133.7M403.9 25.9V133.7M405.7 25.9V133.7M407.49 25.9V133.7M409.28 25.9V133.7M411.07 25.9V133.7M412.87 25.9V133.7M414.66 25.9V133.7M416.45 25.9V133.7M418.24 25.9V133.7M420.04 25.9V133.7M421.83 25.9V133.7M423.62 25.9V133.7M425.41 25.9V133.7M429 25.9V133.7" stroke="#000" stroke-opacity=".27" stroke-width="1" fill="none" shape-rendering="crispEdges"/>
<path d="M282 25.9H429M282 31.29H429M282 36.68H429M282 42.07H429M282 47.46H429M282 52.85H429M282 58.24H429M282 63.63H429M282 69.02H429M282 74.41H429M282 79.8H429M282 85.19H429M282 90.58H429M282 95.97H429M282 101.36H429M282 106.75H429M282 112.14H429M282 117.53H429M282 122.92H429M282 128.31H429M282 133.7H429" stroke="#000" stroke-opacity=".36" stroke-width="1" fill="none" shape-rendering="crispEdges"/>
<rect x="280.4" y="25.9" width="1" height="107.8" fill="#d0d0d0"/>
<path d="M282 109.44h-1.3" stroke="#333" stroke-width=".7"/>
<text x="279.1" y="110.79" class="tk" text-anchor="end">5</text>
<path d="M282 82.5h-1.3" stroke="#333" stroke-width=".7"/>
<text x="279.1" y="83.84" class="tk" text-anchor="end">10</text>
<path d="M282 55.55h-1.3" stroke="#333" stroke-width=".7"/>
<text x="279.1" y="56.9" class="tk" text-anchor="end">15</text>
<path d="M282 28.59h-1.3" stroke="#333" stroke-width=".7"/>
<text x="279.1" y="29.95" class="tk" text-anchor="end">20</text>
<path d="M282 133.7v1.3" stroke="#333" stroke-width=".7"/>
<text x="282" y="138.7" class="tk" text-anchor="middle">0.0</text>
<path d="M317.85 133.7v1.3" stroke="#333" stroke-width=".7"/>
<text x="317.85" y="138.7" class="tk" text-anchor="middle">0.1</text>
<path d="M353.71 133.7v1.3" stroke="#333" stroke-width=".7"/>
<text x="353.71" y="138.7" class="tk" text-anchor="middle">0.2</text>
<path d="M389.56 133.7v1.3" stroke="#333" stroke-width=".7"/>
<text x="389.56" y="138.7" class="tk" text-anchor="middle">0.3</text>
<path d="M425.41 133.7v1.3" stroke="#333" stroke-width=".7"/>
<text x="425.41" y="138.7" class="tk" text-anchor="middle">0.4</text>
<text x="353.7" y="146.2" class="al" text-anchor="middle">Mutation probability (<tspan font-style="italic">μ</tspan>)</text>
<text transform="translate(268,75.5) rotate(-90)" class="al" text-anchor="middle">Maximal mutation size (<tspan font-style="italic">δ</tspan>)</text>
<rect x="434" y="25.7" width="5" height="107.9" fill="url(#inf)"/>
<path d="M439 133.6h1.6" stroke="#333" stroke-width=".85"/>
<text x="441.4" y="134.9" class="tk">0</text>
<path d="M439 122.81h1.6" stroke="#333" stroke-width=".85"/>
<text x="441.4" y="124.11" class="tk">10</text>
<path d="M439 112.02h1.6" stroke="#333" stroke-width=".85"/>
<text x="441.4" y="113.32" class="tk">20</text>
<path d="M439 101.23h1.6" stroke="#333" stroke-width=".85"/>
<text x="441.4" y="102.53" class="tk">30</text>
<path d="M439 90.44h1.6" stroke="#333" stroke-width=".85"/>
<text x="441.4" y="91.74" class="tk">40</text>
<path d="M439 79.65h1.6" stroke="#333" stroke-width=".85"/>
<text x="441.4" y="80.95" class="tk">50</text>
<path d="M439 68.86h1.6" stroke="#333" stroke-width=".85"/>
<text x="441.4" y="70.16" class="tk">60</text>
<path d="M439 58.07h1.6" stroke="#333" stroke-width=".85"/>
<text x="441.4" y="59.37" class="tk">70</text>
<path d="M439 47.28h1.6" stroke="#333" stroke-width=".85"/>
<text x="441.4" y="48.58" class="tk">80</text>
<path d="M439 36.49h1.6" stroke="#333" stroke-width=".85"/>
<text x="441.4" y="37.79" class="tk">90</text>
<path d="M439 25.7h1.6" stroke="#333" stroke-width=".85"/>
<text x="441.4" y="27" class="tk">100</text>
<text transform="translate(453.7,77.5) rotate(-90)" class="al" text-anchor="middle">Average claim</text>
<rect x="400.2" y="14.3" width="28.5" height="11" rx="2.6" fill="#d9d9d9" stroke="#9a9a9a" stroke-width=".6"/>
<text x="414.45" y="22.1" class="rho" text-anchor="middle"><tspan font-style="italic">ρ</tspan> = 0.1</text>
<text transform="translate(288,11.1) scale(.93,1)" class="pl">(b)</text>
<polyline points="282.6,84 284,92 286,100 289,108 292,113 296,117 301,120 306,122.6 312,125.2 320,127.2 330,128.2 340,128.6 380,128.6 428,128.6" fill="none" stroke="#5fd04a" stroke-width="1.1" stroke-dasharray="1.1 1.5"/>
<g transform="translate(491.5,25.4) scale(1.8024,5.4150)" shape-rendering="crispEdges">
<path fill="#f1ef75" d="M0 0h1v1h-1zM5 0h2v1h-2zM11 0h1v1h-1zM13 0h1v1h-1zM23 0h1v1h-1zM29 0h1v1h-1zM31 0h1v1h-1zM49 0h2v1h-2zM52 0h1v1h-1zM55 0h1v1h-1zM57 0h1v1h-1zM68 0h1v1h-1zM16 1h1v1h-1zM23 1h1v1h-1zM26 1h1v1h-1zM38 1h2v1h-2zM49 1h1v1h-1zM68 1h2v1h-2zM77 1h1v1h-1zM79 1h1v1h-1zM12 2h1v1h-1zM16 2h1v1h-1zM19 2h1v1h-1zM30 2h1v1h-1zM32 2h1v1h-1zM50 2h2v1h-2zM72 2h1v1h-1zM76 2h1v1h-1zM12 3h1v1h-1zM17 3h1v1h-1zM20 3h1v1h-1zM23 3h1v1h-1zM25 3h1v1h-1zM41 3h1v1h-1zM44 3h2v1h-2zM51 3h1v1h-1zM59 3h1v1h-1zM0 4h1v1h-1zM10 4h1v1h-1zM13 4h1v1h-1zM34 4h1v1h-1zM48 4h1v1h-1zM52 4h1v1h-1zM65 4h1v1h-1zM2 5h1v1h-1zM8 5h1v1h-1zM29 5h1v1h-1zM32 5h1v1h-1zM39 5h1v1h-1zM43 5h1v1h-1zM47 5h1v1h-1zM74 5h1v1h-1zM80 5h2v1h-2zM6 6h3v1h-3zM19 6h1v1h-1zM23 6h1v1h-1zM33 6h1v1h-1zM35 6h1v1h-1zM45 6h1v1h-1zM61 6h1v1h-1zM80 6h2v1h-2zM6 7h1v1h-1zM29 7h1v1h-1zM33 7h1v1h-1zM40 7h3v1h-3zM44 7h1v1h-1zM47 7h1v1h-1zM49 7h1v1h-1zM54 7h1v1h-1zM57 7h1v1h-1zM63 7h1v1h-1zM66 7h1v1h-1zM70 7h1v1h-1zM73 7h1v1h-1zM1 8h1v1h-1zM3 8h1v1h-1zM6 8h1v1h-1zM16 8h1v1h-1zM38 8h1v1h-1zM47 8h1v1h-1zM53 8h1v1h-1zM60 8h1v1h-1zM66 8h2v1h-2zM69 8h1v1h-1zM73 8h1v1h-1zM77 8h1v1h-1zM80 8h2v1h-2zM6 9h1v1h-1zM39 9h2v1h-2zM55 9h1v1h-1zM71 9h1v1h-1zM4 10h1v1h-1zM15 10h1v1h-1zM37 10h2v1h-2zM45 10h1v1h-1zM48 10h1v1h-1zM55 10h2v1h-2zM62 10h1v1h-1zM4 11h1v1h-1zM9 11h2v1h-2zM12 11h1v1h-1zM22 11h1v1h-1zM35 11h1v1h-1zM43 11h1v1h-1zM5 12h1v1h-1zM9 12h1v1h-1zM33 12h1v1h-1zM35 12h1v1h-1zM44 12h1v1h-1zM53 12h2v1h-2zM64 12h1v1h-1zM66 12h1v1h-1zM70 12h1v1h-1zM16 13h1v1h-1zM18 13h1v1h-1zM27 13h2v1h-2zM31 13h1v1h-1zM48 13h2v1h-2zM36 14h1v1h-1zM39 14h1v1h-1zM50 14h1v1h-1zM53 14h1v1h-1zM67 14h1v1h-1zM17 15h1v1h-1zM33 15h1v1h-1zM36 15h1v1h-1zM51 15h1v1h-1zM57 15h1v1h-1zM65 15h1v1h-1zM69 15h1v1h-1zM76 15h1v1h-1zM19 16h1v1h-1zM28 16h1v1h-1zM32 16h2v1h-2zM35 16h1v1h-1zM46 16h1v1h-1zM54 16h1v1h-1zM61 16h1v1h-1zM65 16h1v1h-1zM70 16h1v1h-1zM73 16h1v1h-1zM77 16h1v1h-1zM43 17h1v1h-1zM59 17h1v1h-1zM63 17h1v1h-1zM68 17h1v1h-1zM71 17h1v1h-1zM43 18h1v1h-1zM61 18h2v1h-2zM68 18h1v1h-1z"/>
<path fill="#f2f27d" d="M1 0h1v1h-1zM51 0h1v1h-1zM53 0h1v1h-1zM79 0h1v1h-1zM4 1h1v1h-1zM21 1h1v1h-1zM46 1h1v1h-1zM52 1h1v1h-1zM54 1h1v1h-1zM56 1h2v1h-2zM59 1h1v1h-1zM67 1h1v1h-1zM4 2h1v1h-1zM13 2h1v1h-1zM17 2h1v1h-1zM22 2h1v1h-1zM33 2h1v1h-1zM37 2h1v1h-1zM41 2h1v1h-1zM48 2h1v1h-1zM54 2h1v1h-1zM59 2h1v1h-1zM62 2h1v1h-1zM65 2h1v1h-1zM67 2h1v1h-1zM71 2h1v1h-1zM6 3h1v1h-1zM21 3h1v1h-1zM30 3h1v1h-1zM36 3h2v1h-2zM46 3h1v1h-1zM73 3h1v1h-1zM3 4h1v1h-1zM7 4h1v1h-1zM15 4h1v1h-1zM24 4h1v1h-1zM31 4h1v1h-1zM44 4h1v1h-1zM46 4h1v1h-1zM55 4h1v1h-1zM60 4h1v1h-1zM71 4h1v1h-1zM21 5h1v1h-1zM31 5h1v1h-1zM46 5h1v1h-1zM60 5h1v1h-1zM69 5h1v1h-1zM3 6h1v1h-1zM22 6h1v1h-1zM25 6h1v1h-1zM30 6h2v1h-2zM36 6h1v1h-1zM67 6h1v1h-1zM69 6h1v1h-1zM3 7h1v1h-1zM22 7h1v1h-1zM27 7h1v1h-1zM30 7h1v1h-1zM55 7h1v1h-1zM58 7h1v1h-1zM0 8h1v1h-1zM8 8h1v1h-1zM11 8h1v1h-1zM18 8h1v1h-1zM20 8h1v1h-1zM27 8h1v1h-1zM43 8h1v1h-1zM49 8h1v1h-1zM62 8h1v1h-1zM2 9h1v1h-1zM12 9h2v1h-2zM18 9h1v1h-1zM52 9h1v1h-1zM73 9h1v1h-1zM3 10h1v1h-1zM9 10h1v1h-1zM19 10h2v1h-2zM25 10h1v1h-1zM29 10h1v1h-1zM33 10h1v1h-1zM36 10h1v1h-1zM49 10h2v1h-2zM54 10h1v1h-1zM63 10h1v1h-1zM70 10h1v1h-1zM73 10h1v1h-1zM79 10h1v1h-1zM1 11h1v1h-1zM3 11h1v1h-1zM17 11h1v1h-1zM21 11h1v1h-1zM23 11h1v1h-1zM27 11h3v1h-3zM37 11h1v1h-1zM59 11h1v1h-1zM76 11h1v1h-1zM15 12h1v1h-1zM22 12h1v1h-1zM31 12h1v1h-1zM36 12h1v1h-1zM45 12h1v1h-1zM48 12h1v1h-1zM51 12h1v1h-1zM56 12h1v1h-1zM77 12h2v1h-2zM80 12h2v1h-2zM3 13h1v1h-1zM53 13h1v1h-1zM73 13h1v1h-1zM75 13h1v1h-1zM10 14h1v1h-1zM26 14h1v1h-1zM28 14h1v1h-1zM31 14h1v1h-1zM47 14h1v1h-1zM56 14h1v1h-1zM68 14h1v1h-1zM71 14h1v1h-1zM73 14h1v1h-1zM21 15h1v1h-1zM39 15h2v1h-2zM50 15h1v1h-1zM54 15h1v1h-1zM72 15h1v1h-1zM74 15h1v1h-1zM27 16h1v1h-1zM30 16h1v1h-1zM45 16h1v1h-1zM58 16h1v1h-1zM68 16h1v1h-1zM71 16h2v1h-2zM74 16h1v1h-1zM18 17h1v1h-1zM21 17h1v1h-1zM27 17h1v1h-1zM29 17h1v1h-1zM42 17h1v1h-1zM50 17h1v1h-1zM55 17h1v1h-1zM58 17h1v1h-1zM66 17h1v1h-1zM75 17h1v1h-1zM44 18h1v1h-1zM54 18h1v1h-1zM63 18h1v1h-1z"/>
<path fill="#f5db4c" d="M2 0h1v1h-1zM10 0h1v1h-1zM12 0h1v1h-1zM32 0h1v1h-1zM37 0h2v1h-2zM43 0h1v1h-1zM56 0h1v1h-1zM59 0h1v1h-1zM70 0h1v1h-1zM11 1h1v1h-1zM20 1h1v1h-1zM35 1h1v1h-1zM40 1h1v1h-1zM71 1h1v1h-1zM78 1h1v1h-1zM25 2h1v1h-1zM79 2h1v1h-1zM14 3h1v1h-1zM42 3h1v1h-1zM62 3h1v1h-1zM64 3h1v1h-1zM68 3h1v1h-1zM76 3h1v1h-1zM78 3h1v1h-1zM2 4h1v1h-1zM18 4h1v1h-1zM30 4h1v1h-1zM32 4h1v1h-1zM40 4h1v1h-1zM7 5h1v1h-1zM13 5h2v1h-2zM27 5h1v1h-1zM42 5h1v1h-1zM61 5h1v1h-1zM65 5h1v1h-1zM70 5h1v1h-1zM73 5h1v1h-1zM4 6h1v1h-1zM14 6h1v1h-1zM52 6h1v1h-1zM63 6h1v1h-1zM79 6h1v1h-1zM10 7h1v1h-1zM19 7h1v1h-1zM31 7h1v1h-1zM67 7h1v1h-1zM7 8h1v1h-1zM12 8h1v1h-1zM26 8h1v1h-1zM28 8h1v1h-1zM46 8h1v1h-1zM48 8h1v1h-1zM63 8h2v1h-2zM70 8h1v1h-1zM75 8h1v1h-1zM31 9h1v1h-1zM48 9h1v1h-1zM57 9h1v1h-1zM70 9h1v1h-1zM80 9h2v1h-2zM8 10h1v1h-1zM14 10h1v1h-1zM52 10h1v1h-1zM57 10h1v1h-1zM64 10h1v1h-1zM71 10h1v1h-1zM80 10h2v1h-2zM8 11h1v1h-1zM36 11h1v1h-1zM48 11h1v1h-1zM53 11h1v1h-1zM6 12h1v1h-1zM18 12h2v1h-2zM25 12h1v1h-1zM49 12h1v1h-1zM58 12h1v1h-1zM69 12h1v1h-1zM73 12h1v1h-1zM4 13h1v1h-1zM8 13h1v1h-1zM40 13h1v1h-1zM67 13h1v1h-1zM76 13h1v1h-1zM11 14h1v1h-1zM20 15h1v1h-1zM22 15h1v1h-1zM48 15h1v1h-1zM14 16h1v1h-1zM21 16h1v1h-1zM42 16h1v1h-1zM49 16h1v1h-1zM56 16h1v1h-1zM34 17h1v1h-1zM48 17h1v1h-1zM61 17h1v1h-1zM76 17h2v1h-2zM42 18h1v1h-1z"/>
<path fill="#f6d746" d="M3 0h1v1h-1zM34 0h1v1h-1zM46 0h1v1h-1zM74 1h1v1h-1zM46 2h1v1h-1zM22 3h1v1h-1zM17 6h1v1h-1zM39 6h1v1h-1zM34 9h1v1h-1zM5 10h1v1h-1zM46 11h1v1h-1zM78 11h1v1h-1zM6 13h1v1h-1zM39 13h1v1h-1zM66 14h1v1h-1zM70 14h1v1h-1zM8 16h1v1h-1zM44 16h1v1h-1zM50 16h1v1h-1zM78 16h1v1h-1zM69 17h1v1h-1zM78 18h1v1h-1z"/>
<path fill="#f2e661" d="M4 0h1v1h-1zM19 0h1v1h-1zM21 0h1v1h-1zM30 0h1v1h-1zM39 0h1v1h-1zM54 0h1v1h-1zM66 0h2v1h-2zM72 0h2v1h-2zM3 1h1v1h-1zM6 1h2v1h-2zM14 1h1v1h-1zM19 1h1v1h-1zM25 1h1v1h-1zM45 1h1v1h-1zM48 1h1v1h-1zM58 1h1v1h-1zM18 2h1v1h-1zM20 2h1v1h-1zM24 2h1v1h-1zM36 2h1v1h-1zM39 2h2v1h-2zM4 3h1v1h-1zM13 3h1v1h-1zM19 3h1v1h-1zM52 3h1v1h-1zM69 3h1v1h-1zM71 3h2v1h-2zM12 4h1v1h-1zM49 4h1v1h-1zM70 4h1v1h-1zM75 4h2v1h-2zM6 5h1v1h-1zM19 5h1v1h-1zM26 5h1v1h-1zM44 5h1v1h-1zM52 5h1v1h-1zM64 5h1v1h-1zM1 6h1v1h-1zM9 6h1v1h-1zM13 6h1v1h-1zM24 6h1v1h-1zM41 6h1v1h-1zM2 7h1v1h-1zM4 7h1v1h-1zM11 7h1v1h-1zM21 7h1v1h-1zM25 7h2v1h-2zM35 7h1v1h-1zM51 7h1v1h-1zM68 7h1v1h-1zM71 7h1v1h-1zM74 7h1v1h-1zM78 7h1v1h-1zM5 8h1v1h-1zM14 8h1v1h-1zM25 8h1v1h-1zM29 8h1v1h-1zM33 8h1v1h-1zM39 8h1v1h-1zM42 8h1v1h-1zM54 8h1v1h-1zM61 8h1v1h-1zM5 9h1v1h-1zM10 9h2v1h-2zM27 9h1v1h-1zM30 9h1v1h-1zM33 9h1v1h-1zM35 9h4v1h-4zM44 9h1v1h-1zM49 9h1v1h-1zM59 9h2v1h-2zM62 9h1v1h-1zM7 10h1v1h-1zM11 10h1v1h-1zM16 10h1v1h-1zM22 10h1v1h-1zM40 10h1v1h-1zM43 10h1v1h-1zM53 10h1v1h-1zM65 10h1v1h-1zM67 10h1v1h-1zM74 10h1v1h-1zM7 11h1v1h-1zM20 11h1v1h-1zM24 11h1v1h-1zM26 11h1v1h-1zM38 11h1v1h-1zM40 11h1v1h-1zM50 11h1v1h-1zM69 11h1v1h-1zM71 11h1v1h-1zM12 12h1v1h-1zM16 12h1v1h-1zM26 12h1v1h-1zM32 12h1v1h-1zM37 12h2v1h-2zM55 12h1v1h-1zM59 12h1v1h-1zM65 12h1v1h-1zM9 13h1v1h-1zM15 13h1v1h-1zM19 13h1v1h-1zM43 13h1v1h-1zM61 13h2v1h-2zM65 13h1v1h-1zM69 13h1v1h-1zM78 13h2v1h-2zM5 14h3v1h-3zM19 14h1v1h-1zM25 14h1v1h-1zM30 14h1v1h-1zM38 14h1v1h-1zM49 14h1v1h-1zM75 14h1v1h-1zM80 14h2v1h-2zM15 15h1v1h-1zM23 15h1v1h-1zM25 15h2v1h-2zM41 15h1v1h-1zM46 15h1v1h-1zM58 15h1v1h-1zM63 15h1v1h-1zM79 15h1v1h-1zM24 16h1v1h-1zM26 16h1v1h-1zM29 16h1v1h-1zM31 16h1v1h-1zM34 16h1v1h-1zM39 16h1v1h-1zM59 16h1v1h-1zM63 16h1v1h-1zM67 16h1v1h-1zM79 16h3v1h-3zM22 17h1v1h-1zM30 17h1v1h-1zM36 17h1v1h-1zM41 17h1v1h-1zM52 17h2v1h-2zM60 17h1v1h-1zM65 17h1v1h-1zM67 17h1v1h-1zM74 17h1v1h-1zM79 17h3v1h-3zM40 18h2v1h-2zM46 18h1v1h-1zM55 18h1v1h-1zM59 18h1v1h-1zM80 18h2v1h-2z"/>
<path fill="#f4e156" d="M7 0h1v1h-1zM18 0h1v1h-1zM27 0h1v1h-1zM35 0h1v1h-1zM42 0h1v1h-1zM45 0h1v1h-1zM75 0h1v1h-1zM78 0h1v1h-1zM0 1h2v1h-2zM10 1h1v1h-1zM18 1h1v1h-1zM31 1h1v1h-1zM42 1h1v1h-1zM73 1h1v1h-1zM3 2h1v1h-1zM10 2h1v1h-1zM14 2h1v1h-1zM45 2h1v1h-1zM53 2h1v1h-1zM56 2h1v1h-1zM63 2h1v1h-1zM66 2h1v1h-1zM69 2h2v1h-2zM74 2h1v1h-1zM7 3h1v1h-1zM10 3h2v1h-2zM29 3h1v1h-1zM32 3h1v1h-1zM35 3h1v1h-1zM54 3h4v1h-4zM65 3h2v1h-2zM74 3h1v1h-1zM4 4h1v1h-1zM8 4h1v1h-1zM14 4h1v1h-1zM17 4h1v1h-1zM20 4h1v1h-1zM27 4h2v1h-2zM37 4h3v1h-3zM47 4h1v1h-1zM51 4h1v1h-1zM58 4h2v1h-2zM69 4h1v1h-1zM77 4h1v1h-1zM80 4h2v1h-2zM0 5h1v1h-1zM9 5h1v1h-1zM23 5h1v1h-1zM33 5h1v1h-1zM38 5h1v1h-1zM49 5h2v1h-2zM55 5h1v1h-1zM58 5h1v1h-1zM71 5h1v1h-1zM75 5h1v1h-1zM77 5h2v1h-2zM11 6h1v1h-1zM16 6h1v1h-1zM20 6h1v1h-1zM29 6h1v1h-1zM48 6h1v1h-1zM50 6h1v1h-1zM57 6h1v1h-1zM60 6h1v1h-1zM64 6h1v1h-1zM68 6h1v1h-1zM14 7h1v1h-1zM16 7h1v1h-1zM23 7h1v1h-1zM38 7h1v1h-1zM46 7h1v1h-1zM61 7h1v1h-1zM64 7h1v1h-1zM69 7h1v1h-1zM72 7h1v1h-1zM17 8h1v1h-1zM19 8h1v1h-1zM21 8h1v1h-1zM30 8h1v1h-1zM41 8h1v1h-1zM50 8h2v1h-2zM65 8h1v1h-1zM68 8h1v1h-1zM3 9h1v1h-1zM19 9h1v1h-1zM23 9h1v1h-1zM43 9h1v1h-1zM47 9h1v1h-1zM56 9h1v1h-1zM65 9h1v1h-1zM77 9h1v1h-1zM17 10h1v1h-1zM28 10h1v1h-1zM32 10h1v1h-1zM39 10h1v1h-1zM41 10h1v1h-1zM44 10h1v1h-1zM61 10h1v1h-1zM66 10h1v1h-1zM69 10h1v1h-1zM75 10h1v1h-1zM33 11h1v1h-1zM39 11h1v1h-1zM55 11h1v1h-1zM64 11h2v1h-2zM72 11h2v1h-2zM75 11h1v1h-1zM80 11h2v1h-2zM8 12h1v1h-1zM43 12h1v1h-1zM47 12h1v1h-1zM60 12h1v1h-1zM63 12h1v1h-1zM75 12h2v1h-2zM7 13h1v1h-1zM23 13h1v1h-1zM25 13h1v1h-1zM33 13h1v1h-1zM35 13h2v1h-2zM47 13h1v1h-1zM50 13h1v1h-1zM54 13h1v1h-1zM59 13h1v1h-1zM63 13h1v1h-1zM66 13h1v1h-1zM70 13h1v1h-1zM24 14h1v1h-1zM33 14h1v1h-1zM35 14h1v1h-1zM42 14h1v1h-1zM54 14h2v1h-2zM57 14h1v1h-1zM59 14h1v1h-1zM65 14h1v1h-1zM77 14h1v1h-1zM16 15h1v1h-1zM37 15h1v1h-1zM55 15h1v1h-1zM60 15h1v1h-1zM73 15h1v1h-1zM77 15h1v1h-1zM12 16h2v1h-2zM15 16h1v1h-1zM25 16h1v1h-1zM47 16h2v1h-2zM60 16h1v1h-1zM11 17h2v1h-2zM19 17h1v1h-1zM28 17h1v1h-1zM31 17h1v1h-1zM37 17h1v1h-1zM47 17h1v1h-1zM54 17h1v1h-1zM56 17h2v1h-2zM62 17h1v1h-1zM70 17h1v1h-1zM78 17h1v1h-1zM39 18h1v1h-1zM47 18h1v1h-1zM51 18h1v1h-1zM53 18h1v1h-1zM58 18h1v1h-1zM66 18h1v1h-1zM71 18h1v1h-1zM73 18h1v1h-1zM76 18h1v1h-1z"/>
<path fill="#f5f992" d="M8 0h1v1h-1zM14 0h2v1h-2zM17 0h1v1h-1zM24 0h3v1h-3zM28 0h1v1h-1zM33 0h1v1h-1zM40 0h2v1h-2zM47 0h1v1h-1zM64 0h1v1h-1zM12 1h2v1h-2zM22 1h1v1h-1zM27 1h1v1h-1zM61 1h1v1h-1zM66 1h1v1h-1zM0 2h1v1h-1zM21 2h1v1h-1zM29 2h1v1h-1zM35 2h1v1h-1zM38 2h1v1h-1zM42 2h1v1h-1zM55 2h1v1h-1zM68 2h1v1h-1zM15 3h1v1h-1zM18 3h1v1h-1zM28 3h1v1h-1zM33 3h2v1h-2zM39 3h1v1h-1zM49 3h1v1h-1zM75 3h1v1h-1zM1 4h1v1h-1zM22 4h1v1h-1zM33 4h1v1h-1zM41 4h1v1h-1zM45 4h1v1h-1zM61 4h2v1h-2zM64 4h1v1h-1zM67 4h2v1h-2zM79 4h1v1h-1zM28 5h1v1h-1zM30 5h1v1h-1zM34 5h1v1h-1zM41 5h1v1h-1zM45 5h1v1h-1zM48 5h1v1h-1zM53 5h1v1h-1zM56 5h1v1h-1zM62 5h1v1h-1zM66 5h3v1h-3zM76 5h1v1h-1zM79 5h1v1h-1zM0 6h1v1h-1zM2 6h1v1h-1zM10 6h1v1h-1zM18 6h1v1h-1zM26 6h1v1h-1zM28 6h1v1h-1zM32 6h1v1h-1zM34 6h1v1h-1zM40 6h1v1h-1zM42 6h2v1h-2zM47 6h1v1h-1zM53 6h1v1h-1zM59 6h1v1h-1zM71 6h1v1h-1zM76 6h1v1h-1zM5 7h1v1h-1zM8 7h1v1h-1zM12 7h1v1h-1zM34 7h1v1h-1zM36 7h2v1h-2zM48 7h1v1h-1zM65 7h1v1h-1zM76 7h1v1h-1zM79 7h1v1h-1zM2 8h1v1h-1zM10 8h1v1h-1zM15 8h1v1h-1zM24 8h1v1h-1zM52 8h1v1h-1zM58 8h1v1h-1zM21 9h1v1h-1zM24 9h1v1h-1zM45 9h2v1h-2zM50 9h2v1h-2zM53 9h1v1h-1zM74 9h1v1h-1zM79 9h1v1h-1zM23 10h1v1h-1zM34 10h1v1h-1zM47 10h1v1h-1zM72 10h1v1h-1zM78 10h1v1h-1zM11 11h1v1h-1zM13 11h1v1h-1zM15 11h1v1h-1zM25 11h1v1h-1zM34 11h1v1h-1zM49 11h1v1h-1zM61 11h1v1h-1zM74 11h1v1h-1zM77 11h1v1h-1zM10 12h2v1h-2zM21 12h1v1h-1zM24 12h1v1h-1zM29 12h1v1h-1zM39 12h3v1h-3zM50 12h1v1h-1zM57 12h1v1h-1zM5 13h1v1h-1zM10 13h1v1h-1zM17 13h1v1h-1zM21 13h1v1h-1zM26 13h1v1h-1zM32 13h1v1h-1zM37 13h1v1h-1zM41 13h1v1h-1zM45 13h1v1h-1zM52 13h1v1h-1zM56 13h2v1h-2zM13 14h1v1h-1zM23 14h1v1h-1zM41 14h1v1h-1zM44 14h1v1h-1zM46 14h1v1h-1zM76 14h1v1h-1zM78 14h1v1h-1zM18 15h1v1h-1zM32 15h1v1h-1zM35 15h1v1h-1zM38 15h1v1h-1zM42 15h1v1h-1zM64 15h1v1h-1zM75 15h1v1h-1zM20 16h1v1h-1zM22 16h1v1h-1zM38 16h1v1h-1zM40 16h1v1h-1zM57 16h1v1h-1zM69 16h1v1h-1zM75 16h2v1h-2zM16 17h1v1h-1zM25 17h1v1h-1zM35 17h1v1h-1zM64 17h1v1h-1zM57 18h1v1h-1zM60 18h1v1h-1zM64 18h2v1h-2zM75 18h1v1h-1z"/>
<path fill="#f3f68a" d="M9 0h1v1h-1zM16 0h1v1h-1zM36 0h1v1h-1zM62 0h1v1h-1zM71 0h1v1h-1zM2 1h1v1h-1zM15 1h1v1h-1zM29 1h2v1h-2zM32 1h3v1h-3zM36 1h1v1h-1zM43 1h1v1h-1zM63 1h1v1h-1zM65 1h1v1h-1zM75 1h2v1h-2zM2 2h1v1h-1zM11 2h1v1h-1zM23 2h1v1h-1zM28 2h1v1h-1zM31 2h1v1h-1zM43 2h1v1h-1zM58 2h1v1h-1zM60 2h2v1h-2zM2 3h2v1h-2zM8 3h2v1h-2zM5 4h1v1h-1zM9 4h1v1h-1zM19 4h1v1h-1zM21 4h1v1h-1zM35 4h2v1h-2zM43 4h1v1h-1zM74 4h1v1h-1zM78 4h1v1h-1zM3 5h1v1h-1zM5 5h1v1h-1zM12 5h1v1h-1zM18 5h1v1h-1zM22 5h1v1h-1zM24 5h2v1h-2zM40 5h1v1h-1zM51 5h1v1h-1zM59 5h1v1h-1zM72 5h1v1h-1zM5 6h1v1h-1zM12 6h1v1h-1zM27 6h1v1h-1zM38 6h1v1h-1zM54 6h2v1h-2zM74 6h1v1h-1zM1 7h1v1h-1zM9 7h1v1h-1zM13 7h1v1h-1zM18 7h1v1h-1zM28 7h1v1h-1zM32 7h1v1h-1zM43 7h1v1h-1zM45 7h1v1h-1zM50 7h1v1h-1zM75 7h1v1h-1zM80 7h2v1h-2zM9 8h1v1h-1zM13 8h1v1h-1zM44 8h1v1h-1zM76 8h1v1h-1zM79 8h1v1h-1zM14 9h1v1h-1zM20 9h1v1h-1zM22 9h1v1h-1zM25 9h1v1h-1zM41 9h2v1h-2zM63 9h2v1h-2zM66 9h1v1h-1zM68 9h1v1h-1zM75 9h2v1h-2zM78 9h1v1h-1zM2 10h1v1h-1zM12 10h2v1h-2zM21 10h1v1h-1zM27 10h1v1h-1zM68 10h1v1h-1zM76 10h1v1h-1zM2 11h1v1h-1zM5 11h1v1h-1zM14 11h1v1h-1zM18 11h2v1h-2zM32 11h1v1h-1zM41 11h2v1h-2zM44 11h2v1h-2zM56 11h1v1h-1zM58 11h1v1h-1zM63 11h1v1h-1zM67 11h2v1h-2zM79 11h1v1h-1zM13 12h2v1h-2zM17 12h1v1h-1zM20 12h1v1h-1zM23 12h1v1h-1zM30 12h1v1h-1zM34 12h1v1h-1zM42 12h1v1h-1zM46 12h1v1h-1zM61 12h2v1h-2zM67 12h1v1h-1zM72 12h1v1h-1zM79 12h1v1h-1zM12 13h1v1h-1zM14 13h1v1h-1zM20 13h1v1h-1zM30 13h1v1h-1zM34 13h1v1h-1zM38 13h1v1h-1zM44 13h1v1h-1zM46 13h1v1h-1zM55 13h1v1h-1zM64 13h1v1h-1zM68 13h1v1h-1zM4 14h1v1h-1zM8 14h1v1h-1zM18 14h1v1h-1zM34 14h1v1h-1zM45 14h1v1h-1zM48 14h1v1h-1zM52 14h1v1h-1zM61 14h1v1h-1zM69 14h1v1h-1zM72 14h1v1h-1zM74 14h1v1h-1zM79 14h1v1h-1zM6 15h2v1h-2zM9 15h3v1h-3zM30 15h2v1h-2zM44 15h2v1h-2zM56 15h1v1h-1zM62 15h1v1h-1zM66 15h3v1h-3zM80 15h2v1h-2zM18 16h1v1h-1zM51 16h1v1h-1zM53 16h1v1h-1zM55 16h1v1h-1zM62 16h1v1h-1zM64 16h1v1h-1zM66 16h1v1h-1zM17 17h1v1h-1zM33 17h1v1h-1zM38 17h3v1h-3zM44 17h1v1h-1zM49 17h1v1h-1zM51 17h1v1h-1zM52 18h1v1h-1zM67 18h1v1h-1zM69 18h1v1h-1zM74 18h1v1h-1zM79 18h1v1h-1z"/>
<path fill="#f2ea69" d="M20 0h1v1h-1zM22 0h1v1h-1zM44 0h1v1h-1zM48 0h1v1h-1zM60 0h2v1h-2zM65 0h1v1h-1zM69 0h1v1h-1zM74 0h1v1h-1zM76 0h2v1h-2zM5 1h1v1h-1zM8 1h2v1h-2zM17 1h1v1h-1zM28 1h1v1h-1zM47 1h1v1h-1zM50 1h1v1h-1zM53 1h1v1h-1zM55 1h1v1h-1zM62 1h1v1h-1zM64 1h1v1h-1zM5 2h3v1h-3zM9 2h1v1h-1zM26 2h2v1h-2zM34 2h1v1h-1zM44 2h1v1h-1zM47 2h1v1h-1zM52 2h1v1h-1zM57 2h1v1h-1zM64 2h1v1h-1zM73 2h1v1h-1zM77 2h2v1h-2zM0 3h2v1h-2zM16 3h1v1h-1zM24 3h1v1h-1zM27 3h1v1h-1zM38 3h1v1h-1zM40 3h1v1h-1zM47 3h2v1h-2zM50 3h1v1h-1zM61 3h1v1h-1zM63 3h1v1h-1zM67 3h1v1h-1zM70 3h1v1h-1zM6 4h1v1h-1zM11 4h1v1h-1zM16 4h1v1h-1zM23 4h1v1h-1zM25 4h1v1h-1zM50 4h1v1h-1zM54 4h1v1h-1zM56 4h2v1h-2zM63 4h1v1h-1zM66 4h1v1h-1zM73 4h1v1h-1zM1 5h1v1h-1zM4 5h1v1h-1zM11 5h1v1h-1zM15 5h1v1h-1zM35 5h3v1h-3zM54 5h1v1h-1zM15 6h1v1h-1zM21 6h1v1h-1zM44 6h1v1h-1zM46 6h1v1h-1zM49 6h1v1h-1zM56 6h1v1h-1zM58 6h1v1h-1zM65 6h2v1h-2zM73 6h1v1h-1zM75 6h1v1h-1zM77 6h1v1h-1zM7 7h1v1h-1zM15 7h1v1h-1zM20 7h1v1h-1zM24 7h1v1h-1zM39 7h1v1h-1zM53 7h1v1h-1zM56 7h1v1h-1zM59 7h2v1h-2zM4 8h1v1h-1zM23 8h1v1h-1zM31 8h2v1h-2zM34 8h3v1h-3zM45 8h1v1h-1zM55 8h1v1h-1zM72 8h1v1h-1zM74 8h1v1h-1zM78 8h1v1h-1zM0 9h1v1h-1zM7 9h1v1h-1zM9 9h1v1h-1zM15 9h3v1h-3zM26 9h1v1h-1zM28 9h2v1h-2zM32 9h1v1h-1zM54 9h1v1h-1zM58 9h1v1h-1zM61 9h1v1h-1zM67 9h1v1h-1zM69 9h1v1h-1zM72 9h1v1h-1zM1 10h1v1h-1zM18 10h1v1h-1zM24 10h1v1h-1zM26 10h1v1h-1zM30 10h2v1h-2zM35 10h1v1h-1zM42 10h1v1h-1zM58 10h2v1h-2zM6 11h1v1h-1zM16 11h1v1h-1zM30 11h2v1h-2zM51 11h2v1h-2zM57 11h1v1h-1zM60 11h1v1h-1zM66 11h1v1h-1zM52 12h1v1h-1zM71 12h1v1h-1zM74 12h1v1h-1zM11 13h1v1h-1zM22 13h1v1h-1zM24 13h1v1h-1zM29 13h1v1h-1zM51 13h1v1h-1zM58 13h1v1h-1zM60 13h1v1h-1zM74 13h1v1h-1zM77 13h1v1h-1zM80 13h2v1h-2zM9 14h1v1h-1zM12 14h1v1h-1zM14 14h1v1h-1zM16 14h1v1h-1zM20 14h1v1h-1zM29 14h1v1h-1zM37 14h1v1h-1zM43 14h1v1h-1zM51 14h1v1h-1zM58 14h1v1h-1zM60 14h1v1h-1zM62 14h2v1h-2zM8 15h1v1h-1zM12 15h1v1h-1zM24 15h1v1h-1zM27 15h3v1h-3zM43 15h1v1h-1zM52 15h2v1h-2zM61 15h1v1h-1zM71 15h1v1h-1zM16 16h2v1h-2zM23 16h1v1h-1zM36 16h2v1h-2zM43 16h1v1h-1zM52 16h1v1h-1zM26 17h1v1h-1zM32 17h1v1h-1zM45 17h2v1h-2zM73 17h1v1h-1zM56 18h1v1h-1zM70 18h1v1h-1zM77 18h1v1h-1z"/>
<path fill="#f7d13d" d="M58 0h1v1h-1zM24 1h1v1h-1zM15 2h1v1h-1zM75 2h1v1h-1zM79 3h1v1h-1zM29 4h1v1h-1zM72 4h1v1h-1zM78 6h1v1h-1zM52 7h1v1h-1zM77 7h1v1h-1zM57 8h1v1h-1zM59 8h1v1h-1zM71 8h1v1h-1zM8 9h1v1h-1zM77 10h1v1h-1zM70 11h1v1h-1zM68 12h1v1h-1zM71 13h1v1h-1zM40 14h1v1h-1zM47 15h1v1h-1zM50 18h1v1h-1z"/>
<path fill="#fbbe23" d="M63 0h1v1h-1zM60 3h1v1h-1zM62 6h1v1h-1zM72 6h1v1h-1zM22 8h1v1h-1zM40 8h1v1h-1zM60 10h1v1h-1zM1 13h2v1h-2zM13 13h1v1h-1z"/>
<path fill="#f8cd37" d="M80 0h2v1h-2zM44 1h1v1h-1zM60 1h1v1h-1zM8 2h1v1h-1zM26 3h1v1h-1zM42 4h1v1h-1zM53 4h1v1h-1zM16 5h1v1h-1zM20 5h1v1h-1zM37 6h1v1h-1zM70 6h1v1h-1zM17 7h1v1h-1zM62 7h1v1h-1zM56 8h1v1h-1zM10 10h1v1h-1zM51 10h1v1h-1zM47 11h1v1h-1zM42 13h1v1h-1zM72 13h1v1h-1zM15 14h1v1h-1zM17 14h1v1h-1zM22 14h1v1h-1zM27 14h1v1h-1zM32 14h1v1h-1zM59 15h1v1h-1zM5 16h2v1h-2zM72 17h1v1h-1zM72 18h1v1h-1z"/>
<path fill="#f9c72f" d="M37 1h1v1h-1zM1 2h1v1h-1zM49 2h1v1h-1zM31 3h1v1h-1zM26 4h1v1h-1zM17 5h1v1h-1zM63 5h1v1h-1zM51 6h1v1h-1zM37 8h1v1h-1zM54 11h1v1h-1zM27 12h2v1h-2zM21 14h1v1h-1zM64 14h1v1h-1zM5 15h1v1h-1zM13 15h2v1h-2zM19 15h1v1h-1zM49 15h1v1h-1z"/>
<path fill="#fac42a" d="M41 1h1v1h-1zM51 1h1v1h-1zM70 1h1v1h-1zM72 1h1v1h-1zM5 3h1v1h-1zM43 3h1v1h-1zM53 3h1v1h-1zM58 3h1v1h-1zM77 3h1v1h-1zM10 5h1v1h-1zM57 5h1v1h-1zM0 7h1v1h-1zM1 9h1v1h-1zM4 9h1v1h-1zM6 10h1v1h-1zM46 10h1v1h-1zM62 11h1v1h-1zM7 12h1v1h-1zM34 15h1v1h-1zM70 15h1v1h-1zM78 15h1v1h-1zM41 16h1v1h-1z"/>
<path fill="#fca50a" d="M80 1h2v1h-2zM80 2h2v1h-2zM3 12h1v1h-1z"/>
<path fill="#fb9b06" d="M80 3h2v1h-2zM0 10h1v1h-1zM5 18h1v1h-1zM45 18h1v1h-1zM48 18h2v1h-2z"/>
<path fill="#fcae12" d="M0 11h1v1h-1z"/>
<path fill="#e25734" d="M0 12h1v1h-1zM2 14h1v1h-1zM4 15h1v1h-1zM64 19h1v1h-1z"/>
<path fill="#f98e09" d="M1 12h2v1h-2zM0 13h1v1h-1zM3 14h1v1h-1zM11 16h1v1h-1zM13 17h3v1h-3zM23 17h2v1h-2zM6 18h1v1h-1zM25 18h1v1h-1z"/>
<path fill="#9b2964" d="M4 12h1v1h-1zM0 15h1v1h-1zM20 17h1v1h-1zM33 19h1v1h-1zM37 19h1v1h-1z"/>
<path fill="#cc4248" d="M0 14h1v1h-1zM13 19h1v1h-1zM24 19h1v1h-1zM49 19h1v1h-1zM63 19h1v1h-1z"/>
<path fill="#f68013" d="M1 14h1v1h-1zM3 15h1v1h-1zM2 16h3v1h-3zM21 18h2v1h-2zM60 19h1v1h-1zM79 19h3v1h-3z"/>
<path fill="#c33b4f" d="M1 15h2v1h-2zM38 18h1v1h-1zM58 19h1v1h-1z"/>
<path fill="#a82e5f" d="M0 16h2v1h-2zM0 17h2v1h-2zM1 19h1v1h-1zM12 19h1v1h-1zM35 19h1v1h-1zM39 19h1v1h-1z"/>
<path fill="#fcaa0f" d="M7 16h1v1h-1zM10 16h1v1h-1z"/>
<path fill="#fb9706" d="M9 16h1v1h-1zM7 18h1v1h-1zM30 18h1v1h-1z"/>
<path fill="#dd513a" d="M2 17h2v1h-2zM5 17h1v1h-1zM9 17h1v1h-1zM66 19h1v1h-1zM73 19h1v1h-1z"/>
<path fill="#c63d4d" d="M4 17h1v1h-1zM42 19h1v1h-1z"/>
<path fill="#ee6a24" d="M6 17h1v1h-1zM52 19h1v1h-1z"/>
<path fill="#eb6628" d="M7 17h2v1h-2zM14 18h1v1h-1zM51 19h1v1h-1zM68 19h1v1h-1z"/>
<path fill="#f06f20" d="M10 17h1v1h-1zM48 19h1v1h-1z"/>
<path fill="#8c2369" d="M0 18h1v1h-1zM31 19h1v1h-1z"/>
<path fill="#6f196e" d="M1 18h1v1h-1z"/>
<path fill="#721a6e" d="M2 18h1v1h-1z"/>
<path fill="#87216b" d="M3 18h1v1h-1zM3 19h1v1h-1z"/>
<path fill="#e55c30" d="M4 18h1v1h-1zM12 18h1v1h-1zM20 18h1v1h-1zM77 19h1v1h-1z"/>
<path fill="#ea632a" d="M8 18h1v1h-1zM15 18h3v1h-3zM27 18h1v1h-1zM72 19h1v1h-1z"/>
<path fill="#fa9207" d="M9 18h1v1h-1zM11 18h1v1h-1z"/>
<path fill="#f1731d" d="M10 18h1v1h-1zM13 18h1v1h-1zM56 19h1v1h-1zM59 19h1v1h-1z"/>
<path fill="#da4e3c" d="M18 18h2v1h-2zM57 19h1v1h-1z"/>
<path fill="#f8890c" d="M23 18h1v1h-1z"/>
<path fill="#f78410" d="M24 18h1v1h-1zM31 18h1v1h-1z"/>
<path fill="#d74b3f" d="M26 18h1v1h-1zM55 19h1v1h-1zM67 19h1v1h-1zM71 19h1v1h-1z"/>
<path fill="#f57b17" d="M28 18h1v1h-1z"/>
<path fill="#d34743" d="M29 18h1v1h-1zM34 18h1v1h-1z"/>
<path fill="#e75e2e" d="M32 18h1v1h-1zM44 19h1v1h-1zM46 19h1v1h-1zM54 19h1v1h-1zM74 19h1v1h-1z"/>
<path fill="#d04545" d="M33 18h1v1h-1zM35 18h1v1h-1z"/>
<path fill="#e05536" d="M36 18h2v1h-2zM78 19h1v1h-1z"/>
<path fill="#b73557" d="M0 19h1v1h-1zM43 19h1v1h-1zM45 19h1v1h-1zM61 19h1v1h-1z"/>
<path fill="#bc3754" d="M2 19h1v1h-1zM4 19h1v1h-1zM23 19h1v1h-1zM40 19h1v1h-1zM75 19h1v1h-1z"/>
<path fill="#a02a63" d="M5 19h1v1h-1zM8 19h1v1h-1zM10 19h1v1h-1zM21 19h1v1h-1zM47 19h1v1h-1zM53 19h1v1h-1zM76 19h1v1h-1z"/>
<path fill="#b3325a" d="M6 19h1v1h-1zM14 19h1v1h-1zM16 19h1v1h-1zM25 19h1v1h-1z"/>
<path fill="#8f2469" d="M7 19h1v1h-1zM18 19h1v1h-1z"/>
<path fill="#972766" d="M9 19h1v1h-1zM28 19h1v1h-1zM38 19h1v1h-1z"/>
<path fill="#bf3952" d="M11 19h1v1h-1zM29 19h1v1h-1zM32 19h1v1h-1z"/>
<path fill="#932667" d="M15 19h1v1h-1zM34 19h1v1h-1z"/>
<path fill="#b0315b" d="M17 19h1v1h-1zM19 19h1v1h-1zM22 19h1v1h-1zM41 19h1v1h-1zM65 19h1v1h-1z"/>
<path fill="#84206b" d="M20 19h1v1h-1zM26 19h1v1h-1z"/>
<path fill="#ab2f5e" d="M27 19h1v1h-1zM62 19h1v1h-1zM69 19h2v1h-2z"/>
<path fill="#ca404a" d="M30 19h1v1h-1z"/>
<path fill="#a32c61" d="M36 19h1v1h-1z"/>
<path fill="#f37819" d="M50 19h1v1h-1z"/>
</g>
<path d="M491.5 25.4V133.7M493.3 25.4V133.7M495.1 25.4V133.7M496.91 25.4V133.7M498.71 25.4V133.7M500.51 25.4V133.7M502.31 25.4V133.7M504.12 25.4V133.7M505.92 25.4V133.7M507.72 25.4V133.7M509.52 25.4V133.7M511.33 25.4V133.7M513.13 25.4V133.7M514.93 25.4V133.7M516.73 25.4V133.7M518.54 25.4V133.7M520.34 25.4V133.7M522.14 25.4V133.7M523.94 25.4V133.7M525.75 25.4V133.7M527.55 25.4V133.7M529.35 25.4V133.7M531.15 25.4V133.7M532.96 25.4V133.7M534.76 25.4V133.7M536.56 25.4V133.7M538.36 25.4V133.7M540.17 25.4V133.7M541.97 25.4V133.7M543.77 25.4V133.7M545.57 25.4V133.7M547.38 25.4V133.7M549.18 25.4V133.7M550.98 25.4V133.7M552.78 25.4V133.7M554.59 25.4V133.7M556.39 25.4V133.7M558.19 25.4V133.7M559.99 25.4V133.7M561.8 25.4V133.7M563.6 25.4V133.7M565.4 25.4V133.7M567.2 25.4V133.7M569 25.4V133.7M570.81 25.4V133.7M572.61 25.4V133.7M574.41 25.4V133.7M576.21 25.4V133.7M578.02 25.4V133.7M579.82 25.4V133.7M581.62 25.4V133.7M583.42 25.4V133.7M585.23 25.4V133.7M587.03 25.4V133.7M588.83 25.4V133.7M590.63 25.4V133.7M592.44 25.4V133.7M594.24 25.4V133.7M596.04 25.4V133.7M597.84 25.4V133.7M599.65 25.4V133.7M601.45 25.4V133.7M603.25 25.4V133.7M605.05 25.4V133.7M606.86 25.4V133.7M608.66 25.4V133.7M610.46 25.4V133.7M612.26 25.4V133.7M614.07 25.4V133.7M615.87 25.4V133.7M617.67 25.4V133.7M619.47 25.4V133.7M621.28 25.4V133.7M623.08 25.4V133.7M624.88 25.4V133.7M626.68 25.4V133.7M628.49 25.4V133.7M630.29 25.4V133.7M632.09 25.4V133.7M633.89 25.4V133.7M635.7 25.4V133.7M639.3 25.4V133.7" stroke="#000" stroke-opacity=".27" stroke-width="1" fill="none" shape-rendering="crispEdges"/>
<path d="M491.5 25.4H639.3M491.5 30.81H639.3M491.5 36.23H639.3M491.5 41.64H639.3M491.5 47.06H639.3M491.5 52.47H639.3M491.5 57.89H639.3M491.5 63.3H639.3M491.5 68.72H639.3M491.5 74.13H639.3M491.5 79.55H639.3M491.5 84.97H639.3M491.5 90.38H639.3M491.5 95.79H639.3M491.5 101.21H639.3M491.5 106.62H639.3M491.5 112.04H639.3M491.5 117.46H639.3M491.5 122.87H639.3M491.5 128.28H639.3M491.5 133.7H639.3" stroke="#000" stroke-opacity=".36" stroke-width="1" fill="none" shape-rendering="crispEdges"/>
<rect x="489.9" y="25.4" width="1" height="108.3" fill="#d0d0d0"/>
<path d="M491.5 109.33h-1.3" stroke="#333" stroke-width=".7"/>
<text x="488.6" y="110.68" class="tk" text-anchor="end">5</text>
<path d="M491.5 82.26h-1.3" stroke="#333" stroke-width=".7"/>
<text x="488.6" y="83.61" class="tk" text-anchor="end">10</text>
<path d="M491.5 55.18h-1.3" stroke="#333" stroke-width=".7"/>
<text x="488.6" y="56.53" class="tk" text-anchor="end">15</text>
<path d="M491.5 28.11h-1.3" stroke="#333" stroke-width=".7"/>
<text x="488.6" y="29.46" class="tk" text-anchor="end">20</text>
<path d="M491.5 133.7v1.3" stroke="#333" stroke-width=".7"/>
<text x="491.5" y="138.7" class="tk" text-anchor="middle">0.0</text>
<path d="M527.55 133.7v1.3" stroke="#333" stroke-width=".7"/>
<text x="527.55" y="138.7" class="tk" text-anchor="middle">0.1</text>
<path d="M563.6 133.7v1.3" stroke="#333" stroke-width=".7"/>
<text x="563.6" y="138.7" class="tk" text-anchor="middle">0.2</text>
<path d="M599.65 133.7v1.3" stroke="#333" stroke-width=".7"/>
<text x="599.65" y="138.7" class="tk" text-anchor="middle">0.3</text>
<path d="M635.7 133.7v1.3" stroke="#333" stroke-width=".7"/>
<text x="635.7" y="138.7" class="tk" text-anchor="middle">0.4</text>
<text x="565.2" y="146" class="al" text-anchor="middle">Mutation probability (<tspan font-style="italic">μ</tspan>)</text>
<text transform="translate(480,75.3) rotate(-90)" class="al" text-anchor="middle">Maximal mutation size (<tspan font-style="italic">δ</tspan>)</text>
<rect x="644" y="25" width="5.3" height="108.7" fill="url(#inf)"/>
<path d="M649.3 133.7h1.6" stroke="#333" stroke-width=".85"/>
<text x="651.7" y="135" class="tk">0</text>
<path d="M649.3 122.83h1.6" stroke="#333" stroke-width=".85"/>
<text x="651.7" y="124.13" class="tk">10</text>
<path d="M649.3 111.96h1.6" stroke="#333" stroke-width=".85"/>
<text x="651.7" y="113.26" class="tk">20</text>
<path d="M649.3 101.09h1.6" stroke="#333" stroke-width=".85"/>
<text x="651.7" y="102.39" class="tk">30</text>
<path d="M649.3 90.22h1.6" stroke="#333" stroke-width=".85"/>
<text x="651.7" y="91.52" class="tk">40</text>
<path d="M649.3 79.35h1.6" stroke="#333" stroke-width=".85"/>
<text x="651.7" y="80.65" class="tk">50</text>
<path d="M649.3 68.48h1.6" stroke="#333" stroke-width=".85"/>
<text x="651.7" y="69.78" class="tk">60</text>
<path d="M649.3 57.61h1.6" stroke="#333" stroke-width=".85"/>
<text x="651.7" y="58.91" class="tk">70</text>
<path d="M649.3 46.74h1.6" stroke="#333" stroke-width=".85"/>
<text x="651.7" y="48.04" class="tk">80</text>
<path d="M649.3 35.87h1.6" stroke="#333" stroke-width=".85"/>
<text x="651.7" y="37.17" class="tk">90</text>
<path d="M649.3 25h1.6" stroke="#333" stroke-width=".85"/>
<text x="651.7" y="26.3" class="tk">100</text>
<text transform="translate(665,77.5) rotate(-90)" class="al" text-anchor="middle">Average claim</text>
<rect x="611.2" y="14.3" width="28.4" height="11" rx="2.6" fill="#d9d9d9" stroke="#9a9a9a" stroke-width=".6"/>
<text x="625.4" y="22.1" class="rho" text-anchor="middle"><tspan font-style="italic">ρ</tspan> = 0.01</text>
<text transform="translate(508.2,11.1) scale(.93,1)" class="pl">(c)</text>
<g transform="translate(71,200) scale(1.7927,5.3800)" shape-rendering="crispEdges">
<path fill="#141220" d="M0 0h82v1h-82zM0 1h82v1h-82zM0 2h82v1h-82zM0 3h82v1h-82zM0 4h82v1h-82zM0 5h82v1h-82zM0 6h82v1h-82zM0 7h82v1h-82zM0 8h82v1h-82zM0 9h82v1h-82zM0 10h82v1h-82zM0 11h82v1h-82zM0 12h82v1h-82zM0 13h82v1h-82zM0 14h82v1h-82zM0 15h82v1h-82zM0 16h82v1h-82zM0 17h82v1h-82zM0 18h82v1h-82zM0 19h82v1h-82z"/>
</g>
<path d="M71 200V307.6M72.79 200V307.6M74.59 200V307.6M76.38 200V307.6M78.17 200V307.6M79.96 200V307.6M81.76 200V307.6M83.55 200V307.6M85.34 200V307.6M87.13 200V307.6M88.93 200V307.6M90.72 200V307.6M92.51 200V307.6M94.3 200V307.6M96.1 200V307.6M97.89 200V307.6M99.68 200V307.6M101.48 200V307.6M103.27 200V307.6M105.06 200V307.6M106.85 200V307.6M108.65 200V307.6M110.44 200V307.6M112.23 200V307.6M114.02 200V307.6M115.82 200V307.6M117.61 200V307.6M119.4 200V307.6M121.2 200V307.6M122.99 200V307.6M124.78 200V307.6M126.57 200V307.6M128.37 200V307.6M130.16 200V307.6M131.95 200V307.6M133.74 200V307.6M135.54 200V307.6M137.33 200V307.6M139.12 200V307.6M140.91 200V307.6M142.71 200V307.6M144.5 200V307.6M146.29 200V307.6M148.09 200V307.6M149.88 200V307.6M151.67 200V307.6M153.46 200V307.6M155.26 200V307.6M157.05 200V307.6M158.84 200V307.6M160.63 200V307.6M162.43 200V307.6M164.22 200V307.6M166.01 200V307.6M167.8 200V307.6M169.6 200V307.6M171.39 200V307.6M173.18 200V307.6M174.98 200V307.6M176.77 200V307.6M178.56 200V307.6M180.35 200V307.6M182.15 200V307.6M183.94 200V307.6M185.73 200V307.6M187.52 200V307.6M189.32 200V307.6M191.11 200V307.6M192.9 200V307.6M194.7 200V307.6M196.49 200V307.6M198.28 200V307.6M200.07 200V307.6M201.87 200V307.6M203.66 200V307.6M205.45 200V307.6M207.24 200V307.6M209.04 200V307.6M210.83 200V307.6M212.62 200V307.6M214.41 200V307.6M218 200V307.6" stroke="#000" stroke-opacity=".27" stroke-width="1" fill="none" shape-rendering="crispEdges"/>
<path d="M71 200H218M71 205.38H218M71 210.76H218M71 216.14H218M71 221.52H218M71 226.9H218M71 232.28H218M71 237.66H218M71 243.04H218M71 248.42H218M71 253.8H218M71 259.18H218M71 264.56H218M71 269.94H218M71 275.32H218M71 280.7H218M71 286.08H218M71 291.46H218M71 296.84H218M71 302.22H218M71 307.6H218" stroke="#000" stroke-opacity=".36" stroke-width="1" fill="none" shape-rendering="crispEdges"/>
<rect x="69.4" y="200" width="1" height="107.6" fill="#d0d0d0"/>
<path d="M71 283.39h-1.3" stroke="#333" stroke-width=".7"/>
<text x="68.1" y="284.74" class="tk" text-anchor="end">5</text>
<path d="M71 256.49h-1.3" stroke="#333" stroke-width=".7"/>
<text x="68.1" y="257.84" class="tk" text-anchor="end">10</text>
<path d="M71 229.59h-1.3" stroke="#333" stroke-width=".7"/>
<text x="68.1" y="230.94" class="tk" text-anchor="end">15</text>
<path d="M71 202.69h-1.3" stroke="#333" stroke-width=".7"/>
<text x="68.1" y="204.04" class="tk" text-anchor="end">20</text>
<path d="M71 307.6v1.3" stroke="#333" stroke-width=".7"/>
<text x="71" y="312.6" class="tk" text-anchor="middle">0.0</text>
<path d="M106.85 307.6v1.3" stroke="#333" stroke-width=".7"/>
<text x="106.85" y="312.6" class="tk" text-anchor="middle">0.1</text>
<path d="M142.71 307.6v1.3" stroke="#333" stroke-width=".7"/>
<text x="142.71" y="312.6" class="tk" text-anchor="middle">0.2</text>
<path d="M178.56 307.6v1.3" stroke="#333" stroke-width=".7"/>
<text x="178.56" y="312.6" class="tk" text-anchor="middle">0.3</text>
<path d="M214.41 307.6v1.3" stroke="#333" stroke-width=".7"/>
<text x="214.41" y="312.6" class="tk" text-anchor="middle">0.4</text>
<text x="141.7" y="320" class="al" text-anchor="middle">Mutation probability (<tspan font-style="italic">μ</tspan>)</text>
<text transform="translate(57,248.2) rotate(-90)" class="al" text-anchor="middle">Maximal mutation size (<tspan font-style="italic">δ</tspan>)</text>
<rect x="223" y="200" width="5" height="107.6" fill="url(#inf)"/>
<path d="M228 307.6h1.6" stroke="#333" stroke-width=".85"/>
<text x="230.4" y="308.9" class="tk">0</text>
<path d="M228 296.84h1.6" stroke="#333" stroke-width=".85"/>
<text x="230.4" y="298.14" class="tk">10</text>
<path d="M228 286.08h1.6" stroke="#333" stroke-width=".85"/>
<text x="230.4" y="287.38" class="tk">20</text>
<path d="M228 275.32h1.6" stroke="#333" stroke-width=".85"/>
<text x="230.4" y="276.62" class="tk">30</text>
<path d="M228 264.56h1.6" stroke="#333" stroke-width=".85"/>
<text x="230.4" y="265.86" class="tk">40</text>
<path d="M228 253.8h1.6" stroke="#333" stroke-width=".85"/>
<text x="230.4" y="255.1" class="tk">50</text>
<path d="M228 243.04h1.6" stroke="#333" stroke-width=".85"/>
<text x="230.4" y="244.34" class="tk">60</text>
<path d="M228 232.28h1.6" stroke="#333" stroke-width=".85"/>
<text x="230.4" y="233.58" class="tk">70</text>
<path d="M228 221.52h1.6" stroke="#333" stroke-width=".85"/>
<text x="230.4" y="222.82" class="tk">80</text>
<path d="M228 210.76h1.6" stroke="#333" stroke-width=".85"/>
<text x="230.4" y="212.06" class="tk">90</text>
<path d="M228 200h1.6" stroke="#333" stroke-width=".85"/>
<text x="230.4" y="201.3" class="tk">100</text>
<text transform="translate(241.9,251) rotate(-90)" class="al" text-anchor="middle">Average claim</text>
<rect x="189.1" y="188.4" width="28.8" height="11.2" rx="2.6" fill="#d9d9d9" stroke="#9a9a9a" stroke-width=".6"/>
<text x="203.5" y="196.3" class="rho" text-anchor="middle"><tspan font-style="italic">ρ</tspan> = 1.0</text>
<text transform="translate(52,176) scale(.93,1)" class="pl">(d)</text>
<g transform="translate(282,200) scale(1.7927,5.3800)" shape-rendering="crispEdges">
<path fill="#141220" d="M0 0h13v1h-13zM0 1h14v1h-14zM15 1h1v1h-1zM0 2h15v1h-15zM0 3h14v1h-14zM0 4h17v1h-17zM0 5h16v1h-16zM17 5h2v1h-2zM22 5h1v1h-1zM0 6h19v1h-19zM0 7h20v1h-20zM0 8h26v1h-26zM0 9h27v1h-27zM0 10h31v1h-31zM32 10h1v1h-1zM0 11h39v1h-39zM0 12h49v1h-49zM50 12h2v1h-2zM0 13h52v1h-52zM53 13h3v1h-3zM57 13h1v1h-1zM0 14h73v1h-73zM78 14h4v1h-4zM0 15h82v1h-82zM0 16h82v1h-82zM0 17h82v1h-82zM0 18h82v1h-82zM0 19h82v1h-82z"/>
<path fill="#a82e5f" d="M13 0h1v1h-1zM27 9h1v1h-1zM49 12h1v1h-1z"/>
<path fill="#f68013" d="M14 0h2v1h-2zM18 4h3v1h-3zM20 5h1v1h-1zM20 6h1v1h-1zM26 8h2v1h-2zM28 9h1v1h-1zM34 10h2v1h-2zM39 11h1v1h-1zM68 11h1v1h-1zM53 12h2v1h-2zM56 13h1v1h-1zM68 13h1v1h-1zM76 14h2v1h-2z"/>
<path fill="#f2f27d" d="M16 0h1v1h-1zM27 0h1v1h-1zM32 0h1v1h-1zM50 0h1v1h-1zM68 0h1v1h-1zM76 0h1v1h-1zM38 1h1v1h-1zM50 1h1v1h-1zM52 1h2v1h-2zM62 1h2v1h-2zM67 1h1v1h-1zM69 1h1v1h-1zM72 1h1v1h-1zM74 1h2v1h-2zM28 2h3v1h-3zM39 2h1v1h-1zM53 2h2v1h-2zM58 2h1v1h-1zM68 2h1v1h-1zM26 3h1v1h-1zM34 3h1v1h-1zM40 3h1v1h-1zM42 3h1v1h-1zM51 3h1v1h-1zM64 3h1v1h-1zM26 4h1v1h-1zM31 4h1v1h-1zM35 4h1v1h-1zM37 4h1v1h-1zM42 4h1v1h-1zM47 4h1v1h-1zM49 4h1v1h-1zM52 4h1v1h-1zM61 4h1v1h-1zM64 4h1v1h-1zM72 4h1v1h-1zM40 5h1v1h-1zM51 5h1v1h-1zM55 5h1v1h-1zM57 5h2v1h-2zM62 5h1v1h-1zM69 5h1v1h-1zM30 6h1v1h-1zM33 6h1v1h-1zM39 6h2v1h-2zM50 6h1v1h-1zM52 6h1v1h-1zM60 6h1v1h-1zM69 6h1v1h-1zM74 6h1v1h-1zM76 6h1v1h-1zM78 6h1v1h-1zM40 7h2v1h-2zM51 7h1v1h-1zM56 7h1v1h-1zM43 8h3v1h-3zM51 8h1v1h-1zM60 8h1v1h-1zM63 8h2v1h-2zM74 8h2v1h-2zM45 9h1v1h-1zM47 9h1v1h-1zM49 9h1v1h-1zM52 9h1v1h-1zM54 9h1v1h-1zM65 9h1v1h-1zM68 9h1v1h-1zM73 9h1v1h-1zM77 9h1v1h-1zM48 10h1v1h-1zM50 10h1v1h-1zM52 10h1v1h-1zM56 10h1v1h-1zM58 10h1v1h-1zM65 10h1v1h-1zM67 10h1v1h-1zM72 10h1v1h-1zM44 11h1v1h-1zM77 11h1v1h-1zM68 12h1v1h-1zM66 13h1v1h-1z"/>
<path fill="#f2e661" d="M17 0h1v1h-1zM28 0h2v1h-2zM41 0h1v1h-1zM49 0h1v1h-1zM31 1h1v1h-1zM41 1h1v1h-1zM57 2h1v1h-1zM59 2h1v1h-1zM76 2h2v1h-2zM33 3h1v1h-1zM35 3h2v1h-2zM50 3h1v1h-1zM57 3h1v1h-1zM70 3h1v1h-1zM25 4h1v1h-1zM32 4h1v1h-1zM23 5h1v1h-1zM43 5h1v1h-1zM47 5h1v1h-1zM66 5h1v1h-1zM73 5h1v1h-1zM51 6h1v1h-1zM57 6h1v1h-1zM62 6h1v1h-1zM68 6h1v1h-1zM24 7h1v1h-1zM39 7h1v1h-1zM52 7h1v1h-1zM68 7h1v1h-1zM39 8h1v1h-1zM53 8h1v1h-1zM55 8h1v1h-1zM38 9h1v1h-1zM56 9h1v1h-1zM60 9h1v1h-1zM62 9h1v1h-1zM70 9h1v1h-1zM78 9h1v1h-1zM43 10h1v1h-1zM49 10h1v1h-1zM61 10h1v1h-1zM78 10h1v1h-1zM45 11h1v1h-1zM50 11h1v1h-1zM58 12h1v1h-1zM74 12h1v1h-1z"/>
<path fill="#fcb418" d="M18 0h1v1h-1zM27 1h1v1h-1zM38 8h1v1h-1zM39 9h1v1h-1zM65 11h1v1h-1zM63 13h1v1h-1z"/>
<path fill="#f3f68a" d="M19 0h1v1h-1zM35 0h1v1h-1zM38 0h1v1h-1zM58 0h1v1h-1zM64 0h1v1h-1zM72 0h4v1h-4zM77 0h1v1h-1zM36 1h1v1h-1zM31 2h1v1h-1zM35 2h1v1h-1zM40 2h1v1h-1zM43 2h1v1h-1zM45 2h1v1h-1zM51 2h1v1h-1zM71 2h1v1h-1zM74 2h1v1h-1zM41 3h1v1h-1zM43 3h1v1h-1zM45 3h2v1h-2zM49 3h1v1h-1zM62 3h1v1h-1zM54 4h2v1h-2zM60 4h1v1h-1zM66 4h2v1h-2zM73 4h1v1h-1zM77 4h1v1h-1zM49 5h2v1h-2zM52 5h1v1h-1zM60 5h1v1h-1zM63 5h1v1h-1zM74 5h1v1h-1zM46 6h1v1h-1zM59 6h1v1h-1zM44 7h2v1h-2zM53 7h1v1h-1zM55 7h1v1h-1zM63 7h1v1h-1zM69 7h1v1h-1zM71 7h1v1h-1zM74 7h2v1h-2zM78 7h1v1h-1zM46 8h1v1h-1zM57 8h1v1h-1zM66 8h1v1h-1zM70 8h1v1h-1zM41 9h1v1h-1zM43 9h1v1h-1zM50 9h1v1h-1zM61 9h1v1h-1zM67 9h1v1h-1zM71 9h2v1h-2zM74 9h3v1h-3zM53 10h1v1h-1zM57 10h1v1h-1zM68 10h1v1h-1zM70 10h1v1h-1zM77 10h1v1h-1zM56 11h1v1h-1zM74 13h1v1h-1z"/>
<path fill="#f8cd37" d="M20 0h1v1h-1zM25 0h1v1h-1zM42 0h1v1h-1zM70 0h1v1h-1zM70 1h1v1h-1zM23 2h1v1h-1zM29 3h1v1h-1zM63 3h1v1h-1zM22 4h2v1h-2zM78 5h1v1h-1zM38 6h1v1h-1zM23 7h1v1h-1zM46 7h1v1h-1zM59 7h1v1h-1zM61 7h1v1h-1zM33 8h1v1h-1zM41 8h1v1h-1zM32 9h1v1h-1zM58 9h1v1h-1zM39 10h1v1h-1zM45 10h1v1h-1zM55 10h1v1h-1zM48 11h2v1h-2zM75 11h1v1h-1zM73 13h1v1h-1z"/>
<path fill="#fac42a" d="M21 0h1v1h-1zM33 0h1v1h-1zM23 1h1v1h-1zM22 2h1v1h-1zM56 2h1v1h-1zM52 3h1v1h-1zM24 6h1v1h-1zM55 6h1v1h-1zM77 6h1v1h-1zM29 7h1v1h-1zM48 7h1v1h-1zM28 8h1v1h-1zM42 11h1v1h-1zM61 12h1v1h-1zM75 13h1v1h-1z"/>
<path fill="#f98e09" d="M22 0h1v1h-1zM22 1h1v1h-1zM20 2h1v1h-1zM31 6h1v1h-1zM53 11h1v1h-1zM64 12h1v1h-1zM59 13h2v1h-2zM67 13h1v1h-1z"/>
<path fill="#f4e156" d="M23 0h1v1h-1zM31 0h1v1h-1zM54 0h1v1h-1zM60 0h1v1h-1zM18 1h1v1h-1zM26 1h1v1h-1zM30 1h1v1h-1zM69 2h1v1h-1zM21 3h1v1h-1zM25 3h1v1h-1zM28 4h1v1h-1zM26 5h2v1h-2zM28 7h1v1h-1zM57 7h1v1h-1zM65 8h1v1h-1zM77 8h1v1h-1zM37 9h1v1h-1zM69 10h1v1h-1zM43 11h1v1h-1zM47 11h1v1h-1zM54 11h2v1h-2zM62 11h1v1h-1zM72 11h1v1h-1z"/>
<path fill="#fcaa0f" d="M24 0h1v1h-1zM19 1h1v1h-1zM26 2h1v1h-1zM30 8h1v1h-1zM64 11h1v1h-1zM69 11h1v1h-1zM56 12h1v1h-1z"/>
<path fill="#f6d746" d="M26 0h1v1h-1zM80 0h2v1h-2zM14 1h1v1h-1zM42 1h1v1h-1zM54 1h1v1h-1zM57 1h1v1h-1zM24 2h1v1h-1zM27 3h1v1h-1zM71 3h1v1h-1zM44 4h1v1h-1zM76 4h1v1h-1zM21 5h1v1h-1zM64 5h1v1h-1zM28 6h1v1h-1zM49 6h1v1h-1zM64 6h1v1h-1zM33 7h1v1h-1zM29 8h1v1h-1zM37 8h1v1h-1zM56 8h1v1h-1zM33 10h1v1h-1zM41 10h1v1h-1zM74 10h1v1h-1zM74 11h1v1h-1zM78 11h1v1h-1zM70 12h1v1h-1zM62 13h1v1h-1zM71 13h1v1h-1z"/>
<path fill="#f5f992" d="M30 0h1v1h-1zM34 0h1v1h-1zM36 0h1v1h-1zM40 0h1v1h-1zM43 0h2v1h-2zM48 0h1v1h-1zM52 0h1v1h-1zM57 0h1v1h-1zM62 0h1v1h-1zM67 0h1v1h-1zM71 0h1v1h-1zM78 0h1v1h-1zM34 1h1v1h-1zM39 1h1v1h-1zM44 1h1v1h-1zM48 1h1v1h-1zM56 1h1v1h-1zM58 1h1v1h-1zM71 1h1v1h-1zM76 1h1v1h-1zM60 2h1v1h-1zM70 2h1v1h-1zM72 2h1v1h-1zM78 2h1v1h-1zM44 3h1v1h-1zM54 3h1v1h-1zM58 3h1v1h-1zM66 3h2v1h-2zM72 3h1v1h-1zM78 3h1v1h-1zM34 4h1v1h-1zM41 4h1v1h-1zM45 4h1v1h-1zM57 4h3v1h-3zM68 4h2v1h-2zM78 4h1v1h-1zM30 5h4v1h-4zM35 5h1v1h-1zM42 5h1v1h-1zM44 5h1v1h-1zM46 5h1v1h-1zM56 5h1v1h-1zM68 5h1v1h-1zM70 5h2v1h-2zM77 5h1v1h-1zM37 6h1v1h-1zM42 6h1v1h-1zM65 6h1v1h-1zM71 6h1v1h-1zM73 6h1v1h-1zM35 7h2v1h-2zM54 7h1v1h-1zM65 7h1v1h-1zM70 7h1v1h-1zM72 7h1v1h-1zM40 8h1v1h-1zM49 8h1v1h-1zM61 8h2v1h-2zM67 8h2v1h-2zM42 9h1v1h-1zM48 9h1v1h-1zM69 9h1v1h-1zM46 10h1v1h-1zM76 10h1v1h-1z"/>
<path fill="#f1ef75" d="M37 0h1v1h-1zM45 0h1v1h-1zM53 0h1v1h-1zM61 0h1v1h-1zM63 0h1v1h-1zM65 0h1v1h-1zM69 0h1v1h-1zM29 1h1v1h-1zM33 1h1v1h-1zM35 1h1v1h-1zM40 1h1v1h-1zM45 1h3v1h-3zM51 1h1v1h-1zM55 1h1v1h-1zM61 1h1v1h-1zM65 1h2v1h-2zM68 1h1v1h-1zM77 1h1v1h-1zM33 2h1v1h-1zM47 2h3v1h-3zM52 2h1v1h-1zM55 2h1v1h-1zM61 2h1v1h-1zM64 2h1v1h-1zM66 2h2v1h-2zM31 3h1v1h-1zM37 3h1v1h-1zM39 3h1v1h-1zM56 3h1v1h-1zM61 3h1v1h-1zM65 3h1v1h-1zM69 3h1v1h-1zM75 3h1v1h-1zM27 4h1v1h-1zM38 4h1v1h-1zM46 4h1v1h-1zM48 4h1v1h-1zM75 4h1v1h-1zM38 5h1v1h-1zM48 5h1v1h-1zM54 5h1v1h-1zM67 5h1v1h-1zM75 5h2v1h-2zM36 6h1v1h-1zM41 6h1v1h-1zM44 6h1v1h-1zM48 6h1v1h-1zM54 6h1v1h-1zM56 6h1v1h-1zM63 6h1v1h-1zM75 6h1v1h-1zM37 7h1v1h-1zM42 7h2v1h-2zM50 7h1v1h-1zM67 7h1v1h-1zM73 7h1v1h-1zM47 8h1v1h-1zM50 8h1v1h-1zM52 8h1v1h-1zM59 8h1v1h-1zM71 8h3v1h-3zM76 8h1v1h-1zM31 9h1v1h-1zM51 9h1v1h-1zM57 9h1v1h-1zM59 9h1v1h-1zM63 9h2v1h-2zM44 10h1v1h-1zM51 10h1v1h-1zM54 10h1v1h-1zM62 10h2v1h-2zM75 10h1v1h-1zM76 13h1v1h-1z"/>
<path fill="#f5db4c" d="M39 0h1v1h-1zM73 1h1v1h-1zM36 2h1v1h-1zM41 2h1v1h-1zM73 2h1v1h-1zM18 3h1v1h-1zM24 3h1v1h-1zM30 3h1v1h-1zM65 4h1v1h-1zM34 5h1v1h-1zM61 5h1v1h-1zM27 6h1v1h-1zM27 7h1v1h-1zM54 8h1v1h-1zM46 9h1v1h-1zM38 10h1v1h-1zM51 11h1v1h-1zM62 12h1v1h-1z"/>
<path fill="#f2ea69" d="M46 0h1v1h-1zM51 0h1v1h-1zM56 0h1v1h-1zM66 0h1v1h-1zM32 1h1v1h-1zM37 1h1v1h-1zM43 1h1v1h-1zM49 1h1v1h-1zM59 1h2v1h-2zM64 1h1v1h-1zM78 1h1v1h-1zM21 2h1v1h-1zM32 2h1v1h-1zM34 2h1v1h-1zM38 2h1v1h-1zM44 2h1v1h-1zM46 2h1v1h-1zM50 2h1v1h-1zM62 2h2v1h-2zM65 2h1v1h-1zM75 2h1v1h-1zM28 3h1v1h-1zM38 3h1v1h-1zM47 3h1v1h-1zM55 3h1v1h-1zM59 3h2v1h-2zM68 3h1v1h-1zM73 3h2v1h-2zM76 3h2v1h-2zM21 4h1v1h-1zM33 4h1v1h-1zM36 4h1v1h-1zM39 4h2v1h-2zM43 4h1v1h-1zM50 4h1v1h-1zM53 4h1v1h-1zM63 4h1v1h-1zM25 5h1v1h-1zM36 5h2v1h-2zM39 5h1v1h-1zM45 5h1v1h-1zM59 5h1v1h-1zM72 5h1v1h-1zM34 6h1v1h-1zM43 6h1v1h-1zM45 6h1v1h-1zM47 6h1v1h-1zM53 6h1v1h-1zM58 6h1v1h-1zM66 6h2v1h-2zM70 6h1v1h-1zM72 6h1v1h-1zM31 7h1v1h-1zM38 7h1v1h-1zM47 7h1v1h-1zM49 7h1v1h-1zM58 7h1v1h-1zM64 7h1v1h-1zM66 7h1v1h-1zM76 7h2v1h-2zM42 8h1v1h-1zM48 8h1v1h-1zM69 8h1v1h-1zM78 8h1v1h-1zM53 9h1v1h-1zM55 9h1v1h-1zM66 9h1v1h-1zM47 10h1v1h-1zM59 10h1v1h-1zM64 10h1v1h-1zM73 10h1v1h-1zM61 11h1v1h-1zM66 11h1v1h-1zM61 13h1v1h-1zM70 13h1v1h-1z"/>
<path fill="#f9c72f" d="M47 0h1v1h-1zM21 1h1v1h-1zM37 2h1v1h-1zM42 2h1v1h-1zM22 3h1v1h-1zM32 3h1v1h-1zM48 3h1v1h-1zM30 4h1v1h-1zM51 4h1v1h-1zM62 4h1v1h-1zM70 4h2v1h-2zM53 5h1v1h-1zM25 6h1v1h-1zM34 7h1v1h-1zM36 8h1v1h-1zM44 9h1v1h-1zM60 10h1v1h-1zM66 10h1v1h-1zM41 11h1v1h-1zM52 11h1v1h-1zM67 12h1v1h-1zM69 12h1v1h-1zM72 12h1v1h-1zM69 13h1v1h-1z"/>
<path fill="#f7d13d" d="M55 0h1v1h-1zM59 0h1v1h-1zM25 1h1v1h-1zM28 1h1v1h-1zM25 2h1v1h-1zM53 3h1v1h-1zM56 4h1v1h-1zM74 4h1v1h-1zM41 5h1v1h-1zM65 5h1v1h-1zM35 6h1v1h-1zM61 6h1v1h-1zM60 7h1v1h-1zM62 7h1v1h-1zM58 8h1v1h-1zM71 10h1v1h-1zM57 11h1v1h-1zM67 11h1v1h-1zM76 12h1v1h-1zM72 13h1v1h-1zM79 13h1v1h-1z"/>
<path fill="#f9fc9d" d="M79 0h1v1h-1zM79 1h3v1h-3zM79 2h3v1h-3zM79 3h3v1h-3zM79 4h3v1h-3zM79 5h3v1h-3zM79 6h3v1h-3zM79 7h3v1h-3zM79 8h3v1h-3zM79 9h3v1h-3zM79 10h3v1h-3zM79 12h3v1h-3z"/>
<path fill="#e25734" d="M16 1h1v1h-1zM20 7h2v1h-2z"/>
<path fill="#fa9207" d="M17 1h1v1h-1zM29 6h1v1h-1zM36 9h1v1h-1zM60 12h1v1h-1zM66 12h1v1h-1z"/>
<path fill="#fbbe23" d="M20 1h1v1h-1zM18 2h1v1h-1zM24 4h1v1h-1zM24 5h1v1h-1zM32 6h1v1h-1zM32 7h1v1h-1zM35 8h1v1h-1zM40 10h1v1h-1zM63 11h1v1h-1zM63 12h1v1h-1zM65 12h1v1h-1zM64 13h1v1h-1zM80 13h2v1h-2z"/>
<path fill="#f8890c" d="M24 1h1v1h-1zM58 11h2v1h-2zM79 11h1v1h-1zM57 12h1v1h-1z"/>
<path fill="#fb9706" d="M15 2h3v1h-3zM19 3h1v1h-1zM31 8h2v1h-2zM34 8h1v1h-1zM35 9h1v1h-1zM42 10h1v1h-1zM73 12h1v1h-1z"/>
<path fill="#fb9b06" d="M19 2h1v1h-1zM25 7h2v1h-2zM37 10h1v1h-1zM70 11h1v1h-1zM59 12h1v1h-1z"/>
<path fill="#fca50a" d="M27 2h1v1h-1zM23 6h1v1h-1zM40 9h1v1h-1zM71 11h1v1h-1zM71 12h1v1h-1zM77 12h1v1h-1z"/>
<path fill="#57106e" d="M14 3h2v1h-2zM19 6h1v1h-1zM31 10h1v1h-1zM40 11h1v1h-1z"/>
<path fill="#fbba1f" d="M16 3h1v1h-1zM28 5h1v1h-1zM26 6h1v1h-1zM22 7h1v1h-1zM30 7h1v1h-1zM73 11h1v1h-1zM75 12h1v1h-1zM65 13h1v1h-1zM77 13h2v1h-2z"/>
<path fill="#fca108" d="M17 3h1v1h-1zM20 3h1v1h-1zM23 3h1v1h-1zM29 4h1v1h-1zM76 11h1v1h-1zM78 12h1v1h-1z"/>
<path fill="#bc3754" d="M17 4h1v1h-1zM19 5h1v1h-1z"/>
<path fill="#b3325a" d="M16 5h1v1h-1zM73 14h1v1h-1z"/>
<path fill="#fcae12" d="M29 5h1v1h-1zM46 11h1v1h-1z"/>
<path fill="#c33b4f" d="M21 6h2v1h-2zM29 9h2v1h-2zM36 10h1v1h-1z"/>
<path fill="#cc4248" d="M33 9h2v1h-2z"/>
<path fill="#f78410" d="M60 11h1v1h-1zM80 11h2v1h-2z"/>
<path fill="#62146e" d="M52 12h1v1h-1zM75 14h1v1h-1z"/>
<path fill="#dd513a" d="M55 12h1v1h-1z"/>
<path fill="#9b2964" d="M52 13h1v1h-1zM58 13h1v1h-1z"/>
<path fill="#ea632a" d="M74 14h1v1h-1z"/>
</g>
<path d="M282 200V307.6M283.79 200V307.6M285.59 200V307.6M287.38 200V307.6M289.17 200V307.6M290.96 200V307.6M292.76 200V307.6M294.55 200V307.6M296.34 200V307.6M298.13 200V307.6M299.93 200V307.6M301.72 200V307.6M303.51 200V307.6M305.3 200V307.6M307.1 200V307.6M308.89 200V307.6M310.68 200V307.6M312.48 200V307.6M314.27 200V307.6M316.06 200V307.6M317.85 200V307.6M319.65 200V307.6M321.44 200V307.6M323.23 200V307.6M325.02 200V307.6M326.82 200V307.6M328.61 200V307.6M330.4 200V307.6M332.2 200V307.6M333.99 200V307.6M335.78 200V307.6M337.57 200V307.6M339.37 200V307.6M341.16 200V307.6M342.95 200V307.6M344.74 200V307.6M346.54 200V307.6M348.33 200V307.6M350.12 200V307.6M351.91 200V307.6M353.71 200V307.6M355.5 200V307.6M357.29 200V307.6M359.09 200V307.6M360.88 200V307.6M362.67 200V307.6M364.46 200V307.6M366.26 200V307.6M368.05 200V307.6M369.84 200V307.6M371.63 200V307.6M373.43 200V307.6M375.22 200V307.6M377.01 200V307.6M378.8 200V307.6M380.6 200V307.6M382.39 200V307.6M384.18 200V307.6M385.98 200V307.6M387.77 200V307.6M389.56 200V307.6M391.35 200V307.6M393.15 200V307.6M394.94 200V307.6M396.73 200V307.6M398.52 200V307.6M400.32 200V307.6M402.11 200V307.6M403.9 200V307.6M405.7 200V307.6M407.49 200V307.6M409.28 200V307.6M411.07 200V307.6M412.87 200V307.6M414.66 200V307.6M416.45 200V307.6M418.24 200V307.6M420.04 200V307.6M421.83 200V307.6M423.62 200V307.6M425.41 200V307.6M429 200V307.6" stroke="#000" stroke-opacity=".27" stroke-width="1" fill="none" shape-rendering="crispEdges"/>
<path d="M282 200H429M282 205.38H429M282 210.76H429M282 216.14H429M282 221.52H429M282 226.9H429M282 232.28H429M282 237.66H429M282 243.04H429M282 248.42H429M282 253.8H429M282 259.18H429M282 264.56H429M282 269.94H429M282 275.32H429M282 280.7H429M282 286.08H429M282 291.46H429M282 296.84H429M282 302.22H429M282 307.6H429" stroke="#000" stroke-opacity=".36" stroke-width="1" fill="none" shape-rendering="crispEdges"/>
<rect x="280.4" y="200" width="1" height="107.6" fill="#d0d0d0"/>
<path d="M282 283.39h-1.3" stroke="#333" stroke-width=".7"/>
<text x="279.1" y="284.74" class="tk" text-anchor="end">5</text>
<path d="M282 256.49h-1.3" stroke="#333" stroke-width=".7"/>
<text x="279.1" y="257.84" class="tk" text-anchor="end">10</text>
<path d="M282 229.59h-1.3" stroke="#333" stroke-width=".7"/>
<text x="279.1" y="230.94" class="tk" text-anchor="end">15</text>
<path d="M282 202.69h-1.3" stroke="#333" stroke-width=".7"/>
<text x="279.1" y="204.04" class="tk" text-anchor="end">20</text>
<path d="M282 307.6v1.3" stroke="#333" stroke-width=".7"/>
<text x="282" y="312.6" class="tk" text-anchor="middle">0.0</text>
<path d="M317.85 307.6v1.3" stroke="#333" stroke-width=".7"/>
<text x="317.85" y="312.6" class="tk" text-anchor="middle">0.1</text>
<path d="M353.71 307.6v1.3" stroke="#333" stroke-width=".7"/>
<text x="353.71" y="312.6" class="tk" text-anchor="middle">0.2</text>
<path d="M389.56 307.6v1.3" stroke="#333" stroke-width=".7"/>
<text x="389.56" y="312.6" class="tk" text-anchor="middle">0.3</text>
<path d="M425.41 307.6v1.3" stroke="#333" stroke-width=".7"/>
<text x="425.41" y="312.6" class="tk" text-anchor="middle">0.4</text>
<text x="353.7" y="320.4" class="al" text-anchor="middle">Mutation probability (<tspan font-style="italic">μ</tspan>)</text>
<text transform="translate(268.5,248.5) rotate(-90)" class="al" text-anchor="middle">Maximal mutation size (<tspan font-style="italic">δ</tspan>)</text>
<rect x="435" y="199.5" width="5.3" height="108.1" fill="url(#inf)"/>
<path d="M440.3 307.6h1.6" stroke="#333" stroke-width=".85"/>
<text x="442.7" y="308.9" class="tk">0</text>
<path d="M440.3 296.79h1.6" stroke="#333" stroke-width=".85"/>
<text x="442.7" y="298.09" class="tk">10</text>
<path d="M440.3 285.98h1.6" stroke="#333" stroke-width=".85"/>
<text x="442.7" y="287.28" class="tk">20</text>
<path d="M440.3 275.17h1.6" stroke="#333" stroke-width=".85"/>
<text x="442.7" y="276.47" class="tk">30</text>
<path d="M440.3 264.36h1.6" stroke="#333" stroke-width=".85"/>
<text x="442.7" y="265.66" class="tk">40</text>
<path d="M440.3 253.55h1.6" stroke="#333" stroke-width=".85"/>
<text x="442.7" y="254.85" class="tk">50</text>
<path d="M440.3 242.74h1.6" stroke="#333" stroke-width=".85"/>
<text x="442.7" y="244.04" class="tk">60</text>
<path d="M440.3 231.93h1.6" stroke="#333" stroke-width=".85"/>
<text x="442.7" y="233.23" class="tk">70</text>
<path d="M440.3 221.12h1.6" stroke="#333" stroke-width=".85"/>
<text x="442.7" y="222.42" class="tk">80</text>
<path d="M440.3 210.31h1.6" stroke="#333" stroke-width=".85"/>
<text x="442.7" y="211.61" class="tk">90</text>
<path d="M440.3 199.5h1.6" stroke="#333" stroke-width=".85"/>
<text x="442.7" y="200.8" class="tk">100</text>
<text transform="translate(454.5,250.25) rotate(-90)" class="al" text-anchor="middle">Average claim</text>
<rect x="400.4" y="188.4" width="28.4" height="11.3" rx="2.6" fill="#d9d9d9" stroke="#9a9a9a" stroke-width=".6"/>
<text x="414.6" y="196.35" class="rho" text-anchor="middle"><tspan font-style="italic">ρ</tspan> = 0.1</text>
<text transform="translate(280,176) scale(.93,1)" class="pl">(e)</text>
<polyline points="303.5,200.6 303.7,202.8 304.3,205.4 304.6,208.4 305.4,211.3 306.1,214.3 306.9,217.3 307.2,219.9 312.4,226.5 318,236.7 324.4,246.9 329.3,252 338.5,258.5 347.8,263.1 357,266.9 366.3,269.6 375.6,272.4 384.8,274.8 394,276.7 403.3,278 412.6,278.9 426.5,280.4" fill="none" stroke="#5fd04a" stroke-width="1.1" stroke-dasharray="1.1 1.5"/>
<g transform="translate(491.5,200) scale(1.7988,5.3800)" shape-rendering="crispEdges">
<path fill="#f3f68a" d="M0 0h1v1h-1zM5 0h1v1h-1zM29 0h1v1h-1zM39 0h3v1h-3zM70 0h1v1h-1zM79 0h1v1h-1zM2 1h1v1h-1zM49 1h1v1h-1zM78 1h1v1h-1zM4 2h2v1h-2zM7 2h1v1h-1zM10 2h1v1h-1zM16 2h1v1h-1zM20 2h3v1h-3zM33 2h1v1h-1zM36 2h1v1h-1zM46 2h1v1h-1zM55 2h2v1h-2zM59 2h1v1h-1zM1 3h1v1h-1zM20 3h1v1h-1zM22 3h1v1h-1zM66 3h1v1h-1zM70 3h1v1h-1zM2 4h1v1h-1zM23 4h1v1h-1zM42 4h1v1h-1zM59 4h1v1h-1zM73 4h1v1h-1zM11 5h1v1h-1zM26 5h1v1h-1zM39 5h1v1h-1zM62 5h1v1h-1zM69 5h1v1h-1zM73 5h1v1h-1zM75 5h1v1h-1zM78 5h1v1h-1zM10 6h1v1h-1zM19 6h2v1h-2zM28 6h1v1h-1zM30 6h1v1h-1zM34 6h1v1h-1zM40 6h1v1h-1zM51 6h1v1h-1zM63 6h1v1h-1zM68 6h1v1h-1zM6 7h1v1h-1zM64 7h1v1h-1zM74 7h1v1h-1zM79 7h1v1h-1zM16 8h1v1h-1zM30 8h1v1h-1zM65 8h1v1h-1zM7 9h1v1h-1zM14 9h1v1h-1zM27 9h1v1h-1zM29 9h1v1h-1zM35 9h1v1h-1zM37 9h1v1h-1zM52 9h1v1h-1zM70 9h1v1h-1zM80 9h2v1h-2zM11 10h1v1h-1zM14 10h1v1h-1zM13 11h1v1h-1zM29 11h1v1h-1zM31 11h2v1h-2zM39 11h1v1h-1zM54 11h1v1h-1zM59 11h1v1h-1zM19 12h2v1h-2zM29 12h1v1h-1zM33 12h1v1h-1zM40 12h1v1h-1zM42 12h1v1h-1zM50 12h1v1h-1zM64 12h1v1h-1zM72 12h1v1h-1zM77 12h1v1h-1zM80 12h2v1h-2zM20 13h1v1h-1zM51 13h1v1h-1zM60 13h1v1h-1zM64 13h1v1h-1zM69 13h1v1h-1zM73 13h1v1h-1zM76 13h1v1h-1zM80 13h2v1h-2zM34 14h2v1h-2zM38 14h2v1h-2zM42 14h2v1h-2zM52 14h1v1h-1zM57 14h1v1h-1zM59 14h1v1h-1zM25 15h2v1h-2zM33 15h1v1h-1zM37 15h1v1h-1zM41 15h1v1h-1zM52 15h1v1h-1zM71 16h1v1h-1z"/>
<path fill="#f5db4c" d="M1 0h1v1h-1zM27 0h1v1h-1zM38 0h1v1h-1zM49 0h1v1h-1zM27 1h1v1h-1zM46 1h1v1h-1zM56 1h1v1h-1zM58 1h2v1h-2zM30 2h1v1h-1zM32 2h1v1h-1zM57 2h1v1h-1zM65 2h1v1h-1zM70 2h1v1h-1zM73 2h1v1h-1zM6 3h1v1h-1zM11 3h1v1h-1zM18 3h1v1h-1zM27 3h1v1h-1zM33 3h1v1h-1zM44 3h1v1h-1zM51 3h1v1h-1zM76 3h1v1h-1zM10 4h1v1h-1zM19 4h1v1h-1zM29 4h1v1h-1zM51 4h2v1h-2zM55 4h1v1h-1zM61 4h1v1h-1zM6 5h1v1h-1zM56 5h1v1h-1zM59 5h2v1h-2zM66 5h1v1h-1zM74 5h1v1h-1zM17 6h1v1h-1zM44 6h1v1h-1zM56 6h1v1h-1zM66 6h1v1h-1zM71 6h1v1h-1zM8 7h1v1h-1zM11 7h1v1h-1zM34 7h1v1h-1zM39 7h1v1h-1zM48 7h1v1h-1zM56 7h2v1h-2zM70 7h1v1h-1zM8 8h1v1h-1zM17 8h1v1h-1zM21 8h1v1h-1zM36 8h1v1h-1zM40 8h1v1h-1zM50 8h1v1h-1zM52 8h1v1h-1zM57 8h1v1h-1zM60 8h1v1h-1zM66 8h1v1h-1zM80 8h2v1h-2zM9 9h1v1h-1zM43 9h1v1h-1zM46 9h1v1h-1zM64 9h1v1h-1zM69 9h1v1h-1zM9 10h1v1h-1zM24 10h1v1h-1zM27 10h1v1h-1zM48 10h1v1h-1zM74 10h1v1h-1zM7 11h1v1h-1zM14 11h1v1h-1zM18 11h2v1h-2zM25 11h1v1h-1zM37 11h1v1h-1zM45 11h1v1h-1zM52 11h1v1h-1zM64 11h1v1h-1zM72 11h1v1h-1zM25 12h1v1h-1zM27 12h1v1h-1zM31 12h1v1h-1zM44 12h1v1h-1zM47 12h1v1h-1zM15 13h1v1h-1zM26 13h1v1h-1zM39 13h1v1h-1zM56 13h1v1h-1zM14 14h1v1h-1zM26 14h1v1h-1zM31 14h1v1h-1zM41 14h1v1h-1zM62 14h1v1h-1zM28 15h1v1h-1zM35 15h1v1h-1zM54 15h2v1h-2zM57 15h1v1h-1zM71 15h1v1h-1z"/>
<path fill="#f9c72f" d="M2 0h1v1h-1zM26 0h1v1h-1zM65 0h1v1h-1zM76 0h1v1h-1zM80 0h2v1h-2zM43 1h1v1h-1zM63 1h1v1h-1zM24 2h1v1h-1zM35 2h1v1h-1zM42 3h1v1h-1zM9 4h1v1h-1zM1 5h1v1h-1zM7 5h1v1h-1zM53 5h1v1h-1zM78 6h1v1h-1zM31 7h1v1h-1zM47 7h1v1h-1zM49 8h1v1h-1zM51 8h1v1h-1zM63 9h1v1h-1zM23 10h1v1h-1zM36 10h1v1h-1zM55 10h1v1h-1zM15 11h1v1h-1zM42 11h1v1h-1zM61 11h1v1h-1zM25 13h1v1h-1zM16 14h1v1h-1zM73 14h1v1h-1zM29 15h1v1h-1zM61 15h1v1h-1z"/>
<path fill="#f2f27d" d="M3 0h2v1h-2zM10 0h1v1h-1zM20 0h1v1h-1zM43 0h1v1h-1zM46 0h1v1h-1zM78 0h1v1h-1zM6 1h1v1h-1zM17 1h2v1h-2zM53 1h2v1h-2zM57 1h1v1h-1zM60 1h3v1h-3zM13 2h1v1h-1zM18 2h1v1h-1zM27 2h1v1h-1zM37 2h1v1h-1zM43 2h1v1h-1zM69 2h1v1h-1zM15 3h1v1h-1zM17 3h1v1h-1zM21 3h1v1h-1zM46 3h1v1h-1zM67 3h1v1h-1zM14 4h1v1h-1zM26 4h1v1h-1zM32 4h1v1h-1zM56 4h1v1h-1zM63 4h1v1h-1zM4 5h1v1h-1zM12 5h1v1h-1zM14 5h1v1h-1zM27 5h1v1h-1zM45 5h2v1h-2zM65 5h1v1h-1zM77 5h1v1h-1zM79 5h1v1h-1zM24 6h2v1h-2zM37 6h1v1h-1zM13 7h2v1h-2zM28 7h1v1h-1zM53 7h3v1h-3zM66 7h1v1h-1zM72 7h1v1h-1zM7 8h1v1h-1zM23 8h2v1h-2zM37 8h1v1h-1zM62 8h1v1h-1zM67 8h1v1h-1zM16 9h2v1h-2zM21 9h1v1h-1zM34 9h1v1h-1zM41 9h1v1h-1zM53 9h1v1h-1zM60 9h1v1h-1zM62 9h1v1h-1zM5 10h1v1h-1zM22 10h1v1h-1zM31 10h1v1h-1zM38 10h1v1h-1zM52 10h1v1h-1zM59 10h1v1h-1zM69 10h1v1h-1zM11 11h1v1h-1zM30 11h1v1h-1zM41 11h1v1h-1zM49 11h1v1h-1zM11 12h1v1h-1zM53 12h1v1h-1zM59 12h1v1h-1zM68 12h1v1h-1zM76 12h1v1h-1zM11 13h1v1h-1zM22 13h1v1h-1zM29 13h1v1h-1zM68 13h1v1h-1zM70 13h1v1h-1zM75 13h1v1h-1zM18 14h1v1h-1zM20 14h1v1h-1zM23 14h1v1h-1zM47 14h1v1h-1zM61 14h1v1h-1zM69 14h1v1h-1zM22 15h1v1h-1zM30 15h1v1h-1zM70 15h1v1h-1zM72 15h1v1h-1z"/>
<path fill="#f2e661" d="M6 0h1v1h-1zM13 0h1v1h-1zM34 0h1v1h-1zM37 0h1v1h-1zM51 0h1v1h-1zM58 0h1v1h-1zM69 0h1v1h-1zM71 0h1v1h-1zM1 1h1v1h-1zM4 1h2v1h-2zM11 1h1v1h-1zM21 1h1v1h-1zM29 1h1v1h-1zM34 1h1v1h-1zM38 1h1v1h-1zM48 1h1v1h-1zM67 1h1v1h-1zM73 1h1v1h-1zM79 1h1v1h-1zM34 2h1v1h-1zM48 2h1v1h-1zM75 2h1v1h-1zM4 3h1v1h-1zM30 3h1v1h-1zM40 3h1v1h-1zM45 3h1v1h-1zM69 3h1v1h-1zM79 3h3v1h-3zM20 4h1v1h-1zM30 4h1v1h-1zM65 4h1v1h-1zM71 4h1v1h-1zM44 5h1v1h-1zM52 5h1v1h-1zM57 5h1v1h-1zM63 5h1v1h-1zM72 5h1v1h-1zM76 5h1v1h-1zM42 6h1v1h-1zM45 6h1v1h-1zM48 6h1v1h-1zM58 6h3v1h-3zM79 6h1v1h-1zM4 7h1v1h-1zM19 7h1v1h-1zM27 7h1v1h-1zM30 7h1v1h-1zM42 7h1v1h-1zM59 7h1v1h-1zM15 8h1v1h-1zM18 8h1v1h-1zM27 8h1v1h-1zM31 8h1v1h-1zM39 8h1v1h-1zM78 8h1v1h-1zM32 9h2v1h-2zM44 9h1v1h-1zM55 9h1v1h-1zM61 9h1v1h-1zM73 9h1v1h-1zM12 10h1v1h-1zM19 10h1v1h-1zM51 10h1v1h-1zM63 10h1v1h-1zM67 10h1v1h-1zM21 11h2v1h-2zM34 11h1v1h-1zM38 11h1v1h-1zM43 11h2v1h-2zM47 11h1v1h-1zM60 11h1v1h-1zM69 11h1v1h-1zM36 12h1v1h-1zM49 12h1v1h-1zM56 12h1v1h-1zM63 12h1v1h-1zM75 12h1v1h-1zM17 13h1v1h-1zM34 13h2v1h-2zM42 13h1v1h-1zM53 13h1v1h-1zM59 13h1v1h-1zM27 14h1v1h-1zM29 14h1v1h-1zM33 14h1v1h-1zM36 14h2v1h-2zM40 14h1v1h-1zM60 14h1v1h-1zM65 14h1v1h-1zM80 14h2v1h-2zM46 15h1v1h-1zM66 15h1v1h-1zM73 16h1v1h-1zM79 16h1v1h-1z"/>
<path fill="#f1ef75" d="M7 0h1v1h-1zM16 0h2v1h-2zM48 0h1v1h-1zM52 0h1v1h-1zM73 0h1v1h-1zM36 1h2v1h-2zM40 1h1v1h-1zM50 1h1v1h-1zM75 1h2v1h-2zM38 2h1v1h-1zM44 2h1v1h-1zM47 2h1v1h-1zM62 2h1v1h-1zM71 2h1v1h-1zM78 2h4v1h-4zM7 3h2v1h-2zM14 3h1v1h-1zM31 3h1v1h-1zM37 3h2v1h-2zM48 3h2v1h-2zM52 3h1v1h-1zM57 3h1v1h-1zM63 3h1v1h-1zM65 3h1v1h-1zM6 4h1v1h-1zM13 4h1v1h-1zM17 4h1v1h-1zM21 4h1v1h-1zM25 4h1v1h-1zM31 4h1v1h-1zM36 4h1v1h-1zM49 4h1v1h-1zM72 4h1v1h-1zM77 4h1v1h-1zM80 4h2v1h-2zM5 5h1v1h-1zM18 5h1v1h-1zM21 5h1v1h-1zM23 5h1v1h-1zM35 5h1v1h-1zM41 5h1v1h-1zM3 6h1v1h-1zM5 6h1v1h-1zM18 6h1v1h-1zM22 6h1v1h-1zM29 6h1v1h-1zM41 6h1v1h-1zM49 6h2v1h-2zM55 6h1v1h-1zM75 6h1v1h-1zM80 6h2v1h-2zM7 7h1v1h-1zM10 7h1v1h-1zM18 7h1v1h-1zM22 7h2v1h-2zM35 7h2v1h-2zM46 7h1v1h-1zM73 7h1v1h-1zM9 8h1v1h-1zM20 8h1v1h-1zM29 8h1v1h-1zM32 8h1v1h-1zM34 8h1v1h-1zM38 8h1v1h-1zM46 8h2v1h-2zM55 8h1v1h-1zM18 9h1v1h-1zM31 9h1v1h-1zM38 9h1v1h-1zM47 9h1v1h-1zM75 9h1v1h-1zM17 10h1v1h-1zM20 10h1v1h-1zM40 10h1v1h-1zM42 10h1v1h-1zM50 10h1v1h-1zM61 10h1v1h-1zM66 10h1v1h-1zM75 10h2v1h-2zM79 10h1v1h-1zM9 11h1v1h-1zM12 11h1v1h-1zM17 11h1v1h-1zM20 11h1v1h-1zM48 11h1v1h-1zM53 11h1v1h-1zM55 11h1v1h-1zM63 11h1v1h-1zM68 11h1v1h-1zM70 11h1v1h-1zM74 11h1v1h-1zM78 11h1v1h-1zM8 12h1v1h-1zM13 12h1v1h-1zM15 12h1v1h-1zM37 12h3v1h-3zM65 12h1v1h-1zM79 12h1v1h-1zM19 13h1v1h-1zM23 13h1v1h-1zM28 13h1v1h-1zM30 13h1v1h-1zM40 13h1v1h-1zM54 13h1v1h-1zM57 13h1v1h-1zM65 13h2v1h-2zM13 14h1v1h-1zM22 14h1v1h-1zM32 14h1v1h-1zM56 14h1v1h-1zM68 14h1v1h-1zM79 14h1v1h-1zM34 15h1v1h-1zM36 15h1v1h-1zM48 15h1v1h-1zM53 15h1v1h-1zM64 15h2v1h-2zM67 15h1v1h-1zM69 15h1v1h-1zM75 15h2v1h-2z"/>
<path fill="#f2ea69" d="M8 0h1v1h-1zM19 0h1v1h-1zM25 0h1v1h-1zM42 0h1v1h-1zM53 0h1v1h-1zM60 0h1v1h-1zM14 1h1v1h-1zM26 1h1v1h-1zM28 1h1v1h-1zM31 1h2v1h-2zM80 1h2v1h-2zM2 2h2v1h-2zM53 2h1v1h-1zM64 2h1v1h-1zM5 3h1v1h-1zM41 3h1v1h-1zM56 3h1v1h-1zM64 3h1v1h-1zM74 3h1v1h-1zM3 4h1v1h-1zM12 4h1v1h-1zM16 4h1v1h-1zM22 4h1v1h-1zM37 4h1v1h-1zM50 4h1v1h-1zM57 4h1v1h-1zM60 4h1v1h-1zM68 4h1v1h-1zM75 4h1v1h-1zM25 5h1v1h-1zM71 5h1v1h-1zM9 6h1v1h-1zM16 6h1v1h-1zM73 6h2v1h-2zM76 6h2v1h-2zM2 7h1v1h-1zM5 7h1v1h-1zM20 7h1v1h-1zM43 7h1v1h-1zM50 7h1v1h-1zM52 7h1v1h-1zM62 7h1v1h-1zM68 7h1v1h-1zM63 8h1v1h-1zM75 8h1v1h-1zM77 8h1v1h-1zM30 9h1v1h-1zM71 9h1v1h-1zM78 9h2v1h-2zM7 10h1v1h-1zM28 10h3v1h-3zM32 10h1v1h-1zM44 10h2v1h-2zM68 10h1v1h-1zM77 10h1v1h-1zM6 11h1v1h-1zM67 11h1v1h-1zM77 11h1v1h-1zM9 12h1v1h-1zM45 12h1v1h-1zM48 12h1v1h-1zM55 12h1v1h-1zM57 12h1v1h-1zM60 12h1v1h-1zM66 12h1v1h-1zM70 12h2v1h-2zM12 13h2v1h-2zM18 13h1v1h-1zM32 13h2v1h-2zM37 13h2v1h-2zM41 13h1v1h-1zM43 13h3v1h-3zM48 13h1v1h-1zM67 13h1v1h-1zM79 13h1v1h-1zM15 14h1v1h-1zM58 14h1v1h-1zM64 14h1v1h-1zM67 14h1v1h-1zM74 14h1v1h-1zM23 15h1v1h-1zM31 15h2v1h-2zM40 15h1v1h-1zM43 15h1v1h-1zM47 15h1v1h-1zM59 15h1v1h-1zM77 15h1v1h-1zM75 16h2v1h-2z"/>
<path fill="#f4e156" d="M9 0h1v1h-1zM11 0h1v1h-1zM15 0h1v1h-1zM23 0h1v1h-1zM33 0h1v1h-1zM45 0h1v1h-1zM55 0h2v1h-2zM59 0h1v1h-1zM8 1h1v1h-1zM10 1h1v1h-1zM25 1h1v1h-1zM30 1h1v1h-1zM33 1h1v1h-1zM55 1h1v1h-1zM72 1h1v1h-1zM77 1h1v1h-1zM8 2h1v1h-1zM19 2h1v1h-1zM39 2h1v1h-1zM58 2h1v1h-1zM67 2h1v1h-1zM76 2h1v1h-1zM2 3h2v1h-2zM13 3h1v1h-1zM16 3h1v1h-1zM32 3h1v1h-1zM36 3h1v1h-1zM43 3h1v1h-1zM53 3h1v1h-1zM59 3h1v1h-1zM1 4h1v1h-1zM27 4h1v1h-1zM33 4h2v1h-2zM41 4h1v1h-1zM46 4h1v1h-1zM62 4h1v1h-1zM70 4h1v1h-1zM16 5h1v1h-1zM20 5h1v1h-1zM24 5h1v1h-1zM32 5h1v1h-1zM36 5h1v1h-1zM49 5h1v1h-1zM54 5h2v1h-2zM58 5h1v1h-1zM67 5h1v1h-1zM21 6h1v1h-1zM36 6h1v1h-1zM72 6h1v1h-1zM9 7h1v1h-1zM16 7h1v1h-1zM32 7h1v1h-1zM63 7h1v1h-1zM71 7h1v1h-1zM11 8h1v1h-1zM28 8h1v1h-1zM33 8h1v1h-1zM43 8h1v1h-1zM48 8h1v1h-1zM61 8h1v1h-1zM68 8h1v1h-1zM76 8h1v1h-1zM4 9h1v1h-1zM11 9h1v1h-1zM23 9h1v1h-1zM25 9h1v1h-1zM40 9h1v1h-1zM42 9h1v1h-1zM54 9h1v1h-1zM57 9h1v1h-1zM65 9h3v1h-3zM76 9h1v1h-1zM6 10h1v1h-1zM10 10h1v1h-1zM13 10h1v1h-1zM39 10h1v1h-1zM49 10h1v1h-1zM56 10h1v1h-1zM58 10h1v1h-1zM60 10h1v1h-1zM64 10h1v1h-1zM73 10h1v1h-1zM24 11h1v1h-1zM50 11h1v1h-1zM57 11h1v1h-1zM73 11h1v1h-1zM22 12h1v1h-1zM26 12h1v1h-1zM34 12h1v1h-1zM58 12h1v1h-1zM21 13h1v1h-1zM24 13h1v1h-1zM36 13h1v1h-1zM62 13h1v1h-1zM17 14h1v1h-1zM24 14h1v1h-1zM50 14h1v1h-1zM76 14h1v1h-1zM20 15h2v1h-2zM27 15h1v1h-1zM44 15h1v1h-1zM50 15h2v1h-2zM58 15h1v1h-1zM74 15h1v1h-1zM74 16h1v1h-1z"/>
<path fill="#f8cd37" d="M12 0h1v1h-1zM64 0h1v1h-1zM7 1h1v1h-1zM13 1h1v1h-1zM42 1h1v1h-1zM40 2h1v1h-1zM45 2h1v1h-1zM72 2h1v1h-1zM55 3h1v1h-1zM7 4h1v1h-1zM66 4h1v1h-1zM79 4h1v1h-1zM3 5h1v1h-1zM13 5h1v1h-1zM4 6h1v1h-1zM11 6h1v1h-1zM54 6h1v1h-1zM60 7h1v1h-1zM35 8h1v1h-1zM64 8h1v1h-1zM24 9h1v1h-1zM74 9h1v1h-1zM34 10h1v1h-1zM70 10h1v1h-1zM52 13h1v1h-1zM60 15h1v1h-1zM63 15h1v1h-1z"/>
<path fill="#fbba1f" d="M14 0h1v1h-1zM15 1h1v1h-1zM23 2h1v1h-1zM54 2h1v1h-1zM29 3h1v1h-1zM78 3h1v1h-1zM18 4h1v1h-1zM31 5h1v1h-1zM14 6h2v1h-2zM62 6h1v1h-1zM76 7h1v1h-1zM19 8h1v1h-1zM20 9h1v1h-1zM59 9h1v1h-1zM80 10h2v1h-2zM27 11h1v1h-1zM46 11h1v1h-1zM17 12h1v1h-1zM24 12h1v1h-1zM32 12h1v1h-1zM47 13h1v1h-1zM55 14h1v1h-1zM49 15h1v1h-1z"/>
<path fill="#f5f992" d="M18 0h1v1h-1zM21 0h1v1h-1zM32 0h1v1h-1zM35 0h1v1h-1zM50 0h1v1h-1zM57 0h1v1h-1zM61 0h1v1h-1zM66 0h1v1h-1zM68 0h1v1h-1zM77 0h1v1h-1zM3 1h1v1h-1zM35 1h1v1h-1zM39 1h1v1h-1zM47 1h1v1h-1zM74 1h1v1h-1zM17 2h1v1h-1zM31 2h1v1h-1zM52 2h1v1h-1zM60 2h1v1h-1zM74 2h1v1h-1zM39 3h1v1h-1zM47 3h1v1h-1zM54 3h1v1h-1zM58 3h1v1h-1zM60 3h1v1h-1zM68 3h1v1h-1zM75 3h1v1h-1zM4 4h2v1h-2zM24 4h1v1h-1zM35 4h1v1h-1zM45 4h1v1h-1zM69 4h1v1h-1zM8 5h1v1h-1zM10 5h1v1h-1zM19 5h1v1h-1zM22 5h1v1h-1zM33 5h1v1h-1zM40 5h1v1h-1zM43 5h1v1h-1zM47 5h1v1h-1zM2 6h1v1h-1zM26 6h2v1h-2zM43 6h1v1h-1zM46 6h2v1h-2zM53 6h1v1h-1zM57 6h1v1h-1zM61 6h1v1h-1zM65 6h1v1h-1zM67 6h1v1h-1zM70 6h1v1h-1zM12 7h1v1h-1zM15 7h1v1h-1zM24 7h1v1h-1zM26 7h1v1h-1zM33 7h1v1h-1zM49 7h1v1h-1zM51 7h1v1h-1zM67 7h1v1h-1zM69 7h1v1h-1zM3 8h1v1h-1zM5 8h1v1h-1zM12 8h1v1h-1zM53 8h2v1h-2zM71 8h2v1h-2zM13 9h1v1h-1zM26 9h1v1h-1zM36 9h1v1h-1zM49 9h2v1h-2zM15 10h1v1h-1zM21 10h1v1h-1zM35 10h1v1h-1zM41 10h1v1h-1zM43 10h1v1h-1zM62 10h1v1h-1zM10 11h1v1h-1zM35 11h1v1h-1zM40 11h1v1h-1zM51 11h1v1h-1zM62 11h1v1h-1zM71 11h1v1h-1zM75 11h1v1h-1zM10 12h1v1h-1zM14 12h1v1h-1zM18 12h1v1h-1zM28 12h1v1h-1zM35 12h1v1h-1zM43 12h1v1h-1zM46 12h1v1h-1zM52 12h1v1h-1zM61 12h2v1h-2zM67 12h1v1h-1zM14 13h1v1h-1zM49 13h2v1h-2zM55 13h1v1h-1zM61 13h1v1h-1zM72 13h1v1h-1zM74 13h1v1h-1zM48 14h1v1h-1zM72 14h1v1h-1zM42 15h1v1h-1zM80 15h2v1h-2z"/>
<path fill="#fbbe23" d="M22 0h1v1h-1zM72 0h1v1h-1zM0 1h1v1h-1zM44 1h1v1h-1zM64 1h1v1h-1zM0 3h1v1h-1zM25 3h1v1h-1zM43 4h1v1h-1zM54 4h1v1h-1zM67 4h1v1h-1zM15 5h1v1h-1zM38 5h1v1h-1zM50 5h1v1h-1zM23 6h1v1h-1zM45 7h1v1h-1zM78 7h1v1h-1zM22 8h1v1h-1zM56 8h1v1h-1zM70 8h1v1h-1zM45 9h1v1h-1zM65 10h1v1h-1zM30 12h1v1h-1zM41 12h1v1h-1zM78 12h1v1h-1zM21 14h1v1h-1zM28 14h1v1h-1zM63 14h1v1h-1zM71 14h1v1h-1z"/>
<path fill="#f6d746" d="M24 0h1v1h-1zM28 0h1v1h-1zM44 0h1v1h-1zM54 0h1v1h-1zM63 0h1v1h-1zM67 0h1v1h-1zM74 0h2v1h-2zM9 1h1v1h-1zM19 1h2v1h-2zM22 1h1v1h-1zM41 1h1v1h-1zM51 1h1v1h-1zM71 1h1v1h-1zM1 2h1v1h-1zM6 2h1v1h-1zM9 2h1v1h-1zM12 2h1v1h-1zM14 2h2v1h-2zM25 2h2v1h-2zM29 2h1v1h-1zM42 2h1v1h-1zM50 2h1v1h-1zM68 2h1v1h-1zM77 2h1v1h-1zM9 3h1v1h-1zM23 3h2v1h-2zM26 3h1v1h-1zM28 3h1v1h-1zM34 3h2v1h-2zM50 3h1v1h-1zM61 3h2v1h-2zM77 3h1v1h-1zM8 4h1v1h-1zM11 4h1v1h-1zM44 4h1v1h-1zM47 4h2v1h-2zM58 4h1v1h-1zM64 4h1v1h-1zM78 4h1v1h-1zM9 5h1v1h-1zM17 5h1v1h-1zM34 5h1v1h-1zM37 5h1v1h-1zM64 5h1v1h-1zM70 5h1v1h-1zM80 5h2v1h-2zM7 6h1v1h-1zM32 6h2v1h-2zM35 6h1v1h-1zM64 6h1v1h-1zM17 7h1v1h-1zM25 7h1v1h-1zM44 7h1v1h-1zM61 7h1v1h-1zM75 7h1v1h-1zM77 7h1v1h-1zM4 8h1v1h-1zM6 8h1v1h-1zM14 8h1v1h-1zM42 8h1v1h-1zM44 8h1v1h-1zM59 8h1v1h-1zM69 8h1v1h-1zM73 8h1v1h-1zM79 8h1v1h-1zM8 9h1v1h-1zM10 9h1v1h-1zM12 9h1v1h-1zM22 9h1v1h-1zM28 9h1v1h-1zM39 9h1v1h-1zM48 9h1v1h-1zM51 9h1v1h-1zM56 9h1v1h-1zM68 9h1v1h-1zM8 10h1v1h-1zM16 10h1v1h-1zM26 10h1v1h-1zM33 10h1v1h-1zM37 10h1v1h-1zM53 10h2v1h-2zM57 10h1v1h-1zM71 10h1v1h-1zM23 11h1v1h-1zM26 11h1v1h-1zM28 11h1v1h-1zM33 11h1v1h-1zM65 11h2v1h-2zM76 11h1v1h-1zM79 11h1v1h-1zM16 12h1v1h-1zM21 12h1v1h-1zM51 12h1v1h-1zM54 12h1v1h-1zM73 12h1v1h-1zM10 13h1v1h-1zM16 13h1v1h-1zM31 13h1v1h-1zM78 13h1v1h-1zM19 14h1v1h-1zM25 14h1v1h-1zM30 14h1v1h-1zM66 14h1v1h-1zM38 15h2v1h-2zM56 15h1v1h-1zM68 15h1v1h-1zM73 15h1v1h-1zM79 15h1v1h-1zM72 16h1v1h-1zM78 16h1v1h-1z"/>
<path fill="#f7d13d" d="M30 0h2v1h-2zM47 0h1v1h-1zM62 0h1v1h-1zM12 1h1v1h-1zM16 1h1v1h-1zM52 1h1v1h-1zM65 1h2v1h-2zM68 1h2v1h-2zM11 2h1v1h-1zM28 2h1v1h-1zM41 2h1v1h-1zM51 2h1v1h-1zM61 2h1v1h-1zM63 2h1v1h-1zM12 3h1v1h-1zM71 3h2v1h-2zM15 4h1v1h-1zM28 4h1v1h-1zM38 4h1v1h-1zM40 4h1v1h-1zM53 4h1v1h-1zM74 4h1v1h-1zM2 5h1v1h-1zM28 5h3v1h-3zM42 5h1v1h-1zM48 5h1v1h-1zM51 5h1v1h-1zM61 5h1v1h-1zM68 5h1v1h-1zM6 6h1v1h-1zM8 6h1v1h-1zM12 6h2v1h-2zM31 6h1v1h-1zM38 6h2v1h-2zM52 6h1v1h-1zM69 6h1v1h-1zM21 7h1v1h-1zM29 7h1v1h-1zM37 7h2v1h-2zM41 7h1v1h-1zM58 7h1v1h-1zM80 7h2v1h-2zM25 8h1v1h-1zM58 8h1v1h-1zM74 8h1v1h-1zM5 9h2v1h-2zM15 9h1v1h-1zM19 9h1v1h-1zM58 9h1v1h-1zM77 9h1v1h-1zM18 10h1v1h-1zM25 10h1v1h-1zM46 10h2v1h-2zM72 10h1v1h-1zM78 10h1v1h-1zM8 11h1v1h-1zM16 11h1v1h-1zM58 11h1v1h-1zM69 12h1v1h-1zM27 13h1v1h-1zM46 13h1v1h-1zM63 13h1v1h-1zM71 13h1v1h-1zM77 13h1v1h-1zM44 14h2v1h-2zM49 14h1v1h-1zM51 14h1v1h-1zM54 14h1v1h-1zM75 14h1v1h-1zM62 15h1v1h-1zM77 16h1v1h-1z"/>
<path fill="#fac42a" d="M36 0h1v1h-1zM23 1h2v1h-2zM45 1h1v1h-1zM49 2h1v1h-1zM10 3h1v1h-1zM39 4h1v1h-1zM76 4h1v1h-1zM3 7h1v1h-1zM40 7h1v1h-1zM10 8h1v1h-1zM41 8h1v1h-1zM72 9h1v1h-1zM56 11h1v1h-1zM80 11h2v1h-2zM12 12h1v1h-1zM23 12h1v1h-1zM9 13h1v1h-1zM58 13h1v1h-1zM46 14h1v1h-1zM78 14h1v1h-1zM21 16h1v1h-1zM23 16h1v1h-1zM29 16h1v1h-1zM39 16h1v1h-1zM47 16h1v1h-1zM54 16h1v1h-1zM57 16h1v1h-1zM64 16h1v1h-1zM68 16h1v1h-1zM73 17h1v1h-1z"/>
<path fill="#fcb418" d="M70 1h1v1h-1zM66 2h1v1h-1zM19 3h1v1h-1zM73 3h1v1h-1zM65 7h1v1h-1zM13 8h1v1h-1zM26 8h1v1h-1zM45 8h1v1h-1zM36 11h1v1h-1zM74 12h1v1h-1zM53 14h1v1h-1zM70 14h1v1h-1zM77 14h1v1h-1zM24 15h1v1h-1zM45 15h1v1h-1zM78 15h1v1h-1zM80 16h2v1h-2z"/>
<path fill="#fb9b06" d="M0 2h1v1h-1zM0 4h1v1h-1z"/>
<path fill="#f68013" d="M0 5h1v1h-1z"/>
<path fill="#bc3754" d="M0 6h1v1h-1zM2 8h1v1h-1zM5 11h1v1h-1zM7 12h1v1h-1zM8 13h1v1h-1zM16 15h1v1h-1zM26 16h1v1h-1zM43 16h1v1h-1zM50 16h1v1h-1zM63 16h1v1h-1zM66 16h1v1h-1z"/>
<path fill="#932667" d="M1 6h1v1h-1zM12 14h1v1h-1zM14 15h1v1h-1zM18 15h1v1h-1zM22 16h1v1h-1zM27 16h2v1h-2zM32 16h1v1h-1zM58 16h1v1h-1zM60 16h1v1h-1zM71 17h1v1h-1z"/>
<path fill="#84206b" d="M0 7h1v1h-1zM0 9h2v1h-2zM0 10h1v1h-1zM2 12h1v1h-1zM4 12h1v1h-1zM2 13h1v1h-1zM0 14h2v1h-2zM3 14h1v1h-1zM3 15h1v1h-1zM11 15h2v1h-2zM8 16h1v1h-1zM10 16h1v1h-1zM12 16h3v1h-3zM7 17h1v1h-1zM13 17h4v1h-4zM18 17h1v1h-1zM29 17h1v1h-1zM34 17h1v1h-1zM45 17h1v1h-1zM56 17h1v1h-1zM59 17h1v1h-1zM66 17h1v1h-1zM39 18h1v1h-1zM41 18h1v1h-1zM46 18h1v1h-1zM48 18h1v1h-1zM51 18h2v1h-2zM55 18h1v1h-1z"/>
<path fill="#b3325a" d="M1 7h1v1h-1zM1 8h1v1h-1zM7 14h1v1h-1zM9 15h2v1h-2zM17 16h1v1h-1zM17 17h1v1h-1zM35 17h1v1h-1zM39 17h1v1h-1zM47 17h1v1h-1zM52 17h1v1h-1zM58 17h1v1h-1zM69 17h1v1h-1zM30 18h2v1h-2zM44 18h1v1h-1zM47 18h1v1h-1zM56 18h1v1h-1zM64 18h1v1h-1zM66 18h1v1h-1zM77 18h1v1h-1z"/>
<path fill="#6a176e" d="M0 8h1v1h-1zM2 9h1v1h-1zM0 12h2v1h-2zM4 13h1v1h-1zM6 14h1v1h-1zM0 15h1v1h-1zM2 15h1v1h-1zM5 15h1v1h-1zM0 16h1v1h-1zM4 16h1v1h-1zM6 16h1v1h-1zM9 16h1v1h-1zM11 16h1v1h-1zM18 16h2v1h-2zM1 17h3v1h-3zM6 17h1v1h-1zM12 17h1v1h-1zM21 17h1v1h-1zM23 17h1v1h-1zM33 17h1v1h-1zM37 17h1v1h-1zM43 17h1v1h-1zM53 17h1v1h-1zM70 17h1v1h-1zM49 18h2v1h-2zM69 18h1v1h-1zM79 18h1v1h-1z"/>
<path fill="#f06f20" d="M3 9h1v1h-1zM4 10h1v1h-1zM6 12h1v1h-1zM10 14h1v1h-1zM38 16h1v1h-1zM40 16h1v1h-1zM44 16h1v1h-1zM48 16h1v1h-1zM51 16h1v1h-1zM61 16h1v1h-1zM69 16h1v1h-1z"/>
<path fill="#420a68" d="M1 10h2v1h-2zM8 15h1v1h-1zM3 16h1v1h-1zM4 17h1v1h-1zM11 17h1v1h-1z"/>
<path fill="#9b2964" d="M3 10h1v1h-1zM4 11h1v1h-1zM16 16h1v1h-1zM25 17h2v1h-2zM40 17h1v1h-1zM42 17h1v1h-1zM54 17h1v1h-1zM62 17h1v1h-1zM29 18h1v1h-1zM32 18h2v1h-2zM35 18h1v1h-1zM37 18h2v1h-2zM58 18h1v1h-1zM62 18h1v1h-1zM70 18h1v1h-1zM73 18h2v1h-2zM78 18h1v1h-1z"/>
<path fill="#2f0a5b" d="M0 11h3v1h-3zM3 12h1v1h-1zM3 13h1v1h-1zM5 13h1v1h-1zM5 14h1v1h-1zM4 15h1v1h-1zM7 15h1v1h-1zM5 16h1v1h-1zM0 17h1v1h-1zM5 17h1v1h-1zM8 17h1v1h-1zM10 17h1v1h-1z"/>
<path fill="#57106e" d="M3 11h1v1h-1zM5 12h1v1h-1zM0 13h2v1h-2zM6 13h2v1h-2zM2 14h1v1h-1zM4 14h1v1h-1zM8 14h1v1h-1zM1 15h1v1h-1zM6 15h1v1h-1zM1 16h2v1h-2zM7 16h1v1h-1zM15 16h1v1h-1zM9 17h1v1h-1zM24 17h1v1h-1zM28 17h1v1h-1zM32 17h1v1h-1zM38 17h1v1h-1zM44 17h1v1h-1zM61 17h1v1h-1zM36 18h1v1h-1zM40 18h1v1h-1zM42 18h1v1h-1zM45 18h1v1h-1zM57 18h1v1h-1zM59 18h1v1h-1z"/>
<path fill="#d74b3f" d="M9 14h1v1h-1zM19 17h2v1h-2zM22 17h1v1h-1zM27 17h1v1h-1zM30 17h2v1h-2zM36 17h1v1h-1zM34 18h1v1h-1zM43 18h1v1h-1zM53 18h2v1h-2zM60 18h2v1h-2zM63 18h1v1h-1zM65 18h1v1h-1zM67 18h2v1h-2zM72 18h1v1h-1z"/>
<path fill="#dd513a" d="M11 14h1v1h-1zM13 15h1v1h-1zM17 15h1v1h-1zM31 16h1v1h-1zM33 16h1v1h-1zM36 16h1v1h-1zM49 16h1v1h-1zM52 16h1v1h-1zM55 16h1v1h-1zM59 16h1v1h-1zM62 16h1v1h-1zM41 17h1v1h-1zM51 17h1v1h-1zM64 17h1v1h-1zM68 17h1v1h-1zM78 17h1v1h-1z"/>
<path fill="#fca50a" d="M15 15h1v1h-1zM19 15h1v1h-1zM24 16h2v1h-2zM46 16h1v1h-1zM56 16h1v1h-1zM65 16h1v1h-1zM67 16h1v1h-1zM70 16h1v1h-1zM76 17h1v1h-1z"/>
<path fill="#f98e09" d="M20 16h1v1h-1zM30 16h1v1h-1zM34 16h2v1h-2zM37 16h1v1h-1zM41 16h2v1h-2zM45 16h1v1h-1zM53 16h1v1h-1zM46 17h1v1h-1zM57 17h1v1h-1zM63 17h1v1h-1zM72 17h1v1h-1zM74 17h1v1h-1zM79 17h3v1h-3z"/>
<path fill="#f37819" d="M48 17h1v1h-1zM55 17h1v1h-1zM67 17h1v1h-1zM76 18h1v1h-1zM80 18h2v1h-2z"/>
<path fill="#a82e5f" d="M49 17h2v1h-2zM60 17h1v1h-1zM65 17h1v1h-1zM75 17h1v1h-1zM77 17h1v1h-1z"/>
<path fill="#260c51" d="M0 18h1v1h-1zM5 18h1v1h-1zM13 18h1v1h-1zM17 18h1v1h-1zM19 18h2v1h-2zM1 19h1v1h-1zM6 19h1v1h-1zM13 19h1v1h-1zM17 19h1v1h-1zM24 19h1v1h-1zM31 19h1v1h-1zM36 19h1v1h-1zM39 19h1v1h-1zM42 19h1v1h-1zM55 19h2v1h-2zM63 19h1v1h-1zM65 19h2v1h-2zM77 19h1v1h-1z"/>
<path fill="#0a0722" d="M1 18h2v1h-2zM15 18h1v1h-1zM2 19h1v1h-1zM14 19h1v1h-1zM19 19h2v1h-2zM22 19h1v1h-1zM28 19h3v1h-3zM32 19h1v1h-1zM37 19h1v1h-1zM43 19h1v1h-1zM47 19h3v1h-3zM58 19h1v1h-1zM62 19h1v1h-1zM73 19h1v1h-1z"/>
<path fill="#160b39" d="M3 18h1v1h-1zM7 18h4v1h-4zM23 18h1v1h-1zM4 19h2v1h-2zM21 19h1v1h-1zM35 19h1v1h-1zM40 19h1v1h-1zM51 19h1v1h-1zM54 19h1v1h-1zM59 19h2v1h-2zM70 19h2v1h-2zM79 19h1v1h-1z"/>
<path fill="#62146e" d="M4 18h1v1h-1zM14 18h1v1h-1zM18 18h1v1h-1zM21 18h1v1h-1zM24 18h2v1h-2zM0 19h1v1h-1zM3 19h1v1h-1zM7 19h1v1h-1zM9 19h3v1h-3zM16 19h1v1h-1zM38 19h1v1h-1zM41 19h1v1h-1zM45 19h1v1h-1zM53 19h1v1h-1zM64 19h1v1h-1zM68 19h1v1h-1zM75 19h1v1h-1zM80 19h2v1h-2z"/>
<path fill="#390963" d="M6 18h1v1h-1zM11 18h1v1h-1zM16 18h1v1h-1zM22 18h1v1h-1zM26 18h1v1h-1zM28 18h1v1h-1zM12 19h1v1h-1zM15 19h1v1h-1zM26 19h1v1h-1zM34 19h1v1h-1zM44 19h1v1h-1zM46 19h1v1h-1zM57 19h1v1h-1zM61 19h1v1h-1zM72 19h1v1h-1zM76 19h1v1h-1z"/>
<path fill="#4a0c6b" d="M12 18h1v1h-1zM27 18h1v1h-1zM8 19h1v1h-1zM18 19h1v1h-1zM23 19h1v1h-1zM25 19h1v1h-1zM27 19h1v1h-1zM33 19h1v1h-1zM50 19h1v1h-1zM52 19h1v1h-1zM67 19h1v1h-1zM69 19h1v1h-1zM74 19h1v1h-1zM78 19h1v1h-1z"/>
<path fill="#cc4248" d="M71 18h1v1h-1zM75 18h1v1h-1z"/>
</g>
<path d="M491.5 200V307.6M493.3 200V307.6M495.1 200V307.6M496.9 200V307.6M498.7 200V307.6M500.49 200V307.6M502.29 200V307.6M504.09 200V307.6M505.89 200V307.6M507.69 200V307.6M509.49 200V307.6M511.29 200V307.6M513.09 200V307.6M514.88 200V307.6M516.68 200V307.6M518.48 200V307.6M520.28 200V307.6M522.08 200V307.6M523.88 200V307.6M525.68 200V307.6M527.48 200V307.6M529.27 200V307.6M531.07 200V307.6M532.87 200V307.6M534.67 200V307.6M536.47 200V307.6M538.27 200V307.6M540.07 200V307.6M541.87 200V307.6M543.66 200V307.6M545.46 200V307.6M547.26 200V307.6M549.06 200V307.6M550.86 200V307.6M552.66 200V307.6M554.46 200V307.6M556.26 200V307.6M558.05 200V307.6M559.85 200V307.6M561.65 200V307.6M563.45 200V307.6M565.25 200V307.6M567.05 200V307.6M568.85 200V307.6M570.65 200V307.6M572.45 200V307.6M574.24 200V307.6M576.04 200V307.6M577.84 200V307.6M579.64 200V307.6M581.44 200V307.6M583.24 200V307.6M585.04 200V307.6M586.84 200V307.6M588.63 200V307.6M590.43 200V307.6M592.23 200V307.6M594.03 200V307.6M595.83 200V307.6M597.63 200V307.6M599.43 200V307.6M601.23 200V307.6M603.02 200V307.6M604.82 200V307.6M606.62 200V307.6M608.42 200V307.6M610.22 200V307.6M612.02 200V307.6M613.82 200V307.6M615.62 200V307.6M617.41 200V307.6M619.21 200V307.6M621.01 200V307.6M622.81 200V307.6M624.61 200V307.6M626.41 200V307.6M628.21 200V307.6M630.01 200V307.6M631.8 200V307.6M633.6 200V307.6M635.4 200V307.6M639 200V307.6" stroke="#000" stroke-opacity=".27" stroke-width="1" fill="none" shape-rendering="crispEdges"/>
<path d="M491.5 200H639M491.5 205.38H639M491.5 210.76H639M491.5 216.14H639M491.5 221.52H639M491.5 226.9H639M491.5 232.28H639M491.5 237.66H639M491.5 243.04H639M491.5 248.42H639M491.5 253.8H639M491.5 259.18H639M491.5 264.56H639M491.5 269.94H639M491.5 275.32H639M491.5 280.7H639M491.5 286.08H639M491.5 291.46H639M491.5 296.84H639M491.5 302.22H639M491.5 307.6H639" stroke="#000" stroke-opacity=".36" stroke-width="1" fill="none" shape-rendering="crispEdges"/>
<rect x="489.9" y="200" width="1" height="107.6" fill="#d0d0d0"/>
<path d="M491.5 283.39h-1.3" stroke="#333" stroke-width=".7"/>
<text x="488.6" y="284.74" class="tk" text-anchor="end">5</text>
<path d="M491.5 256.49h-1.3" stroke="#333" stroke-width=".7"/>
<text x="488.6" y="257.84" class="tk" text-anchor="end">10</text>
<path d="M491.5 229.59h-1.3" stroke="#333" stroke-width=".7"/>
<text x="488.6" y="230.94" class="tk" text-anchor="end">15</text>
<path d="M491.5 202.69h-1.3" stroke="#333" stroke-width=".7"/>
<text x="488.6" y="204.04" class="tk" text-anchor="end">20</text>
<path d="M491.5 307.6v1.3" stroke="#333" stroke-width=".7"/>
<text x="491.5" y="312.6" class="tk" text-anchor="middle">0.0</text>
<path d="M527.48 307.6v1.3" stroke="#333" stroke-width=".7"/>
<text x="527.48" y="312.6" class="tk" text-anchor="middle">0.1</text>
<path d="M563.45 307.6v1.3" stroke="#333" stroke-width=".7"/>
<text x="563.45" y="312.6" class="tk" text-anchor="middle">0.2</text>
<path d="M599.43 307.6v1.3" stroke="#333" stroke-width=".7"/>
<text x="599.43" y="312.6" class="tk" text-anchor="middle">0.3</text>
<path d="M635.4 307.6v1.3" stroke="#333" stroke-width=".7"/>
<text x="635.4" y="312.6" class="tk" text-anchor="middle">0.4</text>
<text x="565" y="319.9" class="al" text-anchor="middle">Mutation probability (<tspan font-style="italic">μ</tspan>)</text>
<text transform="translate(480,248.2) rotate(-90)" class="al" text-anchor="middle">Maximal mutation size (<tspan font-style="italic">δ</tspan>)</text>
<rect x="644" y="200" width="5.3" height="107.6" fill="url(#inf)"/>
<path d="M649.3 307.6h1.6" stroke="#333" stroke-width=".85"/>
<text x="651.7" y="308.9" class="tk">0</text>
<path d="M649.3 296.84h1.6" stroke="#333" stroke-width=".85"/>
<text x="651.7" y="298.14" class="tk">10</text>
<path d="M649.3 286.08h1.6" stroke="#333" stroke-width=".85"/>
<text x="651.7" y="287.38" class="tk">20</text>
<path d="M649.3 275.32h1.6" stroke="#333" stroke-width=".85"/>
<text x="651.7" y="276.62" class="tk">30</text>
<path d="M649.3 264.56h1.6" stroke="#333" stroke-width=".85"/>
<text x="651.7" y="265.86" class="tk">40</text>
<path d="M649.3 253.8h1.6" stroke="#333" stroke-width=".85"/>
<text x="651.7" y="255.1" class="tk">50</text>
<path d="M649.3 243.04h1.6" stroke="#333" stroke-width=".85"/>
<text x="651.7" y="244.34" class="tk">60</text>
<path d="M649.3 232.28h1.6" stroke="#333" stroke-width=".85"/>
<text x="651.7" y="233.58" class="tk">70</text>
<path d="M649.3 221.52h1.6" stroke="#333" stroke-width=".85"/>
<text x="651.7" y="222.82" class="tk">80</text>
<path d="M649.3 210.76h1.6" stroke="#333" stroke-width=".85"/>
<text x="651.7" y="212.06" class="tk">90</text>
<path d="M649.3 200h1.6" stroke="#333" stroke-width=".85"/>
<text x="651.7" y="201.3" class="tk">100</text>
<text transform="translate(665.3,251) rotate(-90)" class="al" text-anchor="middle">Average claim</text>
<rect x="611.2" y="188.4" width="28.4" height="11.3" rx="2.6" fill="#d9d9d9" stroke="#9a9a9a" stroke-width=".6"/>
<text x="625.4" y="196.35" class="rho" text-anchor="middle"><tspan font-style="italic">ρ</tspan> = 0.01</text>
<text transform="translate(509.6,176) scale(.93,1)" class="pl">(f)</text>
<rect x="1.4" y="63.3" width="36.4" height="17.1" fill="#e8e8e8" stroke="#9a9a9a" stroke-width=".7"/>
<text y="74.85" class="rb"><tspan x="9.7" font-style="italic">R</tspan><tspan x="25.7">2</tspan></text><path d="M17.7 71.2h5.4v.75h-5.4zM17.7 73.05h5.4v.75h-5.4z" fill="#2a2a2a"/>
<rect x="1.4" y="234.3" width="36.4" height="18.2" fill="#e8e8e8" stroke="#a0a0a0" stroke-width=".7"/>
<text y="246.6" class="rb" style="stroke-width:.12px"><tspan x="9.7" font-style="italic">R</tspan><tspan x="25.7">5</tspan></text><path d="M17.8 242.8h5.4v.7h-5.4zM17.8 244.7h5.4v.7h-5.4z" fill="#333"/>
</svg></body></html>
